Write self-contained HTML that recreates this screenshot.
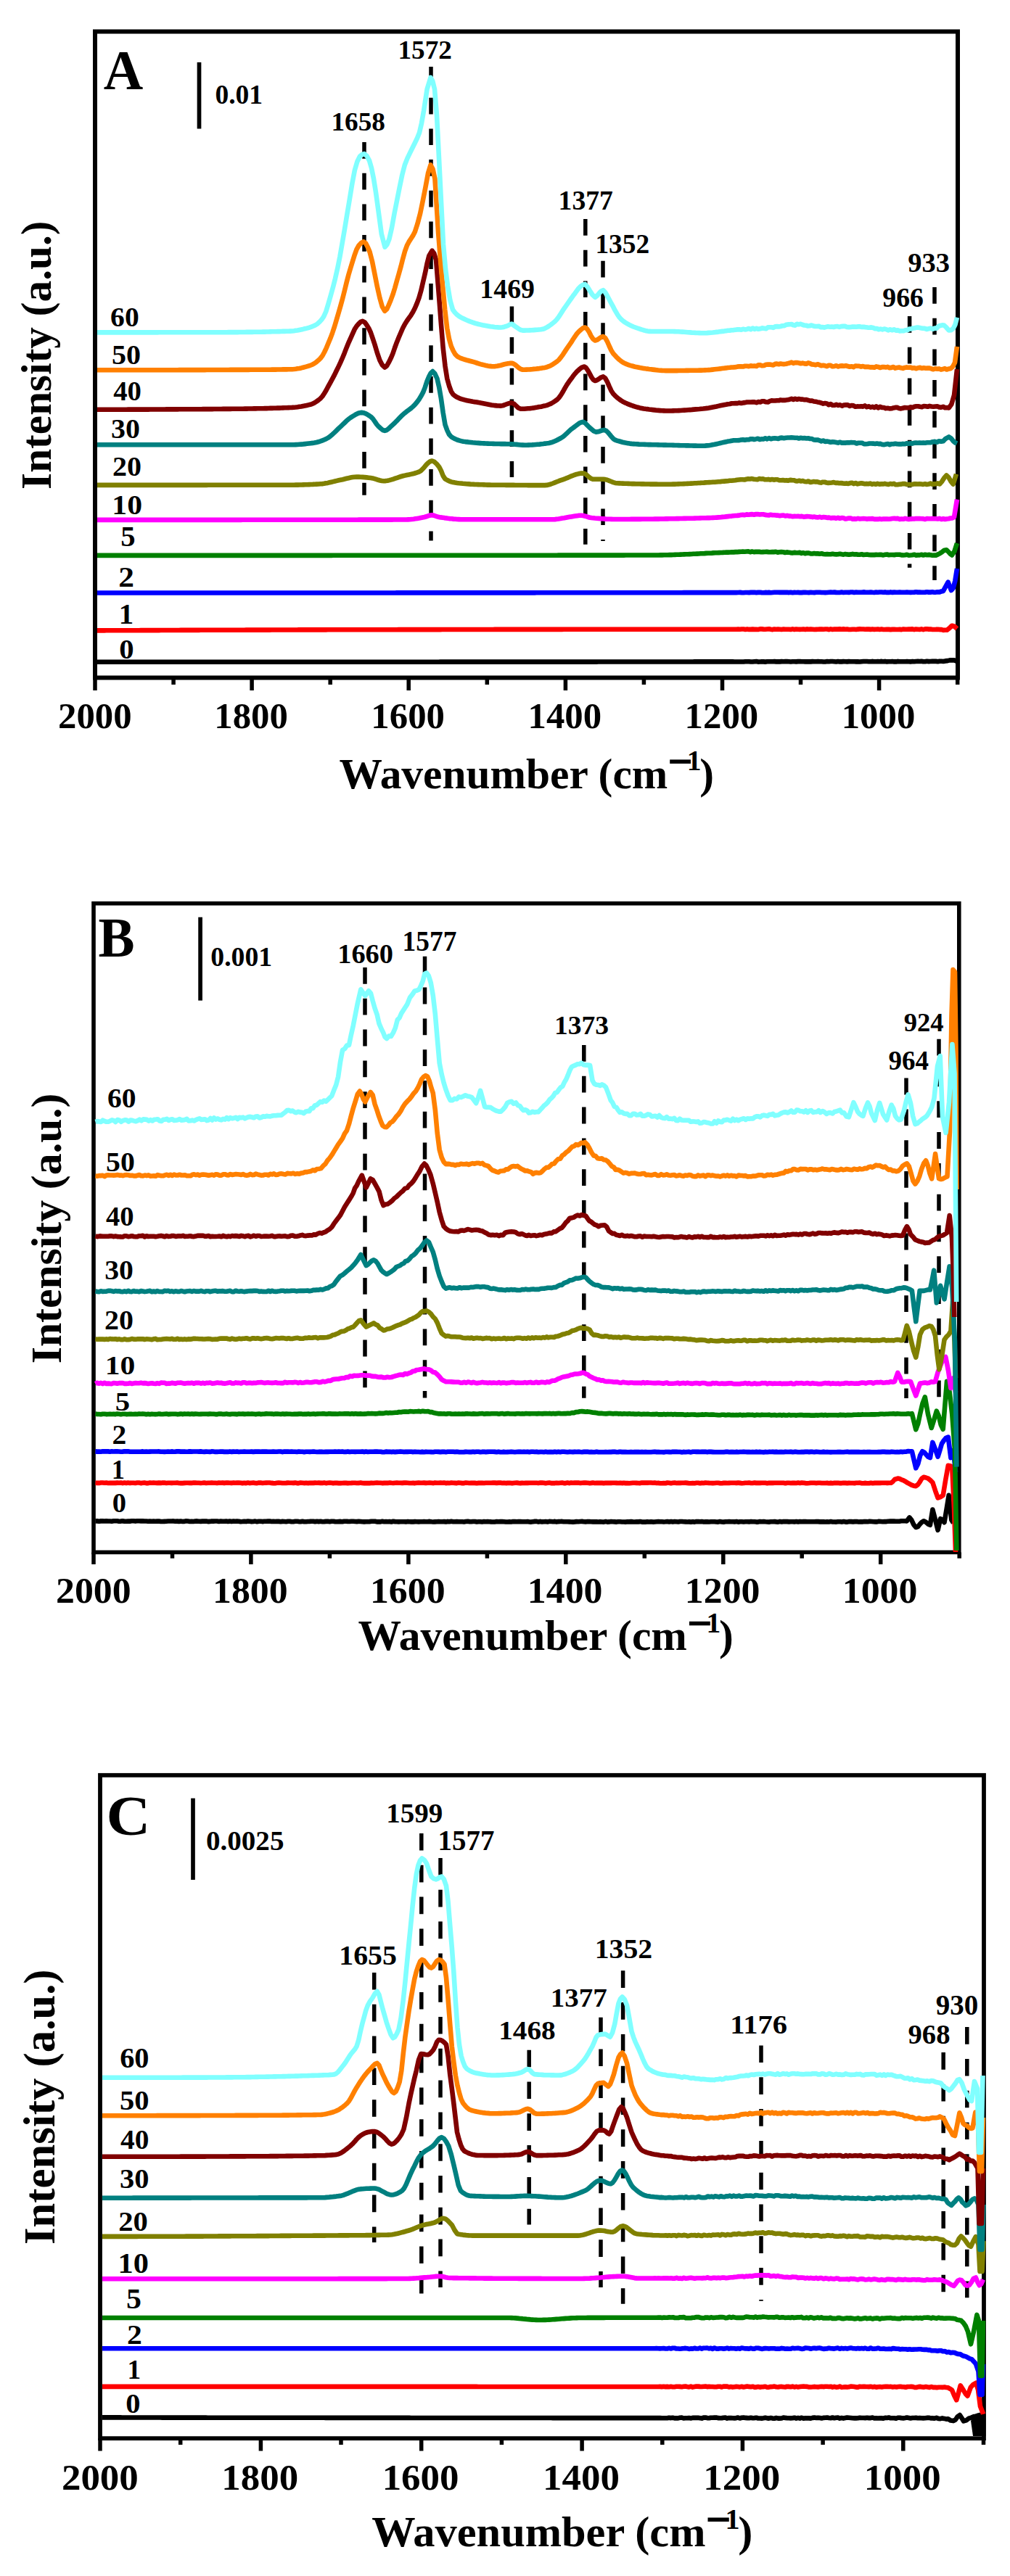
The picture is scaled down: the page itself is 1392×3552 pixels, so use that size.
<!DOCTYPE html>
<html><head><meta charset="utf-8"><style>
html,body{margin:0;padding:0;background:#fff;}
svg{display:block;}
text{font-family:"Liberation Serif", serif;font-weight:bold;fill:#000;}
</style></head><body>
<svg width="1392" height="3552" viewBox="0 0 1392 3552">
<rect width="1392" height="3552" fill="#fff"/>
<path d="M131.0,934.5V952.0M239.1,934.5V944.0M347.1,934.5V952.0M455.2,934.5V944.0M563.2,934.5V952.0M671.3,934.5V944.0M779.4,934.5V952.0M887.4,934.5V944.0M995.5,934.5V952.0M1103.5,934.5V944.0M1211.6,934.5V952.0M1319.7,934.5V944.0" stroke="#000" stroke-width="5.5" fill="none"/>
<rect x="131" y="43.5" width="1189" height="891.0" fill="none" stroke="#000" stroke-width="6"/>
<text x="80.06" y="1003.59" font-size="50.81" textLength="101.63" lengthAdjust="spacingAndGlyphs">2000</text>
<text x="295.23" y="1003.59" font-size="50.81" textLength="101.63" lengthAdjust="spacingAndGlyphs">1800</text>
<text x="511.35" y="1003.59" font-size="50.81" textLength="101.63" lengthAdjust="spacingAndGlyphs">1600</text>
<text x="727.47" y="1003.59" font-size="50.81" textLength="101.63" lengthAdjust="spacingAndGlyphs">1400</text>
<text x="943.59" y="1003.59" font-size="50.81" textLength="101.63" lengthAdjust="spacingAndGlyphs">1200</text>
<text x="1159.71" y="1003.59" font-size="50.81" textLength="101.63" lengthAdjust="spacingAndGlyphs">1000</text>
<g transform="translate(468.40,0) scale(0.9987,1)"><text x="-0.89" y="1086.60" font-size="59.50">Wavenumber (cm</text><rect x="455.38" y="1047.39" width="28.80" height="5.53" fill="#000"/><text x="478.93" y="1062.50" font-size="39.57">1</text><text x="496.53" y="1086.60" font-size="59.50">)</text></g>
<text transform="translate(70.20,674.93) rotate(-90)" font-size="59.27">Intensity (a.u.)</text>
<text x="142.85" y="123.00" font-size="78.79" textLength="54.50" lengthAdjust="spacingAndGlyphs">A</text>
<path d="M274.5,85.9V177.5" stroke="#000" stroke-width="5.7"/>
<text x="296.39" y="143.43" font-size="38.24" textLength="65.78" lengthAdjust="spacingAndGlyphs">0.01</text>
<text x="152.12" y="449.91" font-size="38.81" textLength="39.57" lengthAdjust="spacingAndGlyphs">60</text>
<text x="154.00" y="502.31" font-size="38.81" textLength="40.00" lengthAdjust="spacingAndGlyphs">50</text>
<text x="156.22" y="551.61" font-size="38.52" textLength="38.74" lengthAdjust="spacingAndGlyphs">40</text>
<text x="153.10" y="604.01" font-size="38.81" textLength="39.89" lengthAdjust="spacingAndGlyphs">30</text>
<text x="155.00" y="655.81" font-size="38.81" textLength="40.00" lengthAdjust="spacingAndGlyphs">20</text>
<text x="154.36" y="708.81" font-size="38.81" textLength="41.70" lengthAdjust="spacingAndGlyphs">10</text>
<text x="166.17" y="752.81" font-size="39.40" textLength="20.36" lengthAdjust="spacingAndGlyphs">5</text>
<text x="163.16" y="808.80" font-size="39.55" textLength="21.69" lengthAdjust="spacingAndGlyphs">2</text>
<text x="163.73" y="860.20" font-size="39.70" textLength="20.41" lengthAdjust="spacingAndGlyphs">1</text>
<text x="164.17" y="908.01" font-size="38.81" textLength="20.35" lengthAdjust="spacingAndGlyphs">0</text>
<path d="M502,196V682.7" stroke="#000" stroke-width="5.5" stroke-dasharray="22.7 20"/>
<path d="M594,92V745.5" stroke="#000" stroke-width="5.5" stroke-dasharray="22.7 20"/>
<path d="M705.4,422.4V658" stroke="#000" stroke-width="5.5" stroke-dasharray="22.7 20"/>
<path d="M806.8,302V750.7" stroke="#000" stroke-width="5.5" stroke-dasharray="22.7 20"/>
<path d="M831,359.8V746" stroke="#000" stroke-width="5.5" stroke-dasharray="22.7 20"/>
<path d="M1253.6,436V782.7" stroke="#000" stroke-width="5.5" stroke-dasharray="22.7 20"/>
<path d="M1288,396V800" stroke="#000" stroke-width="5.5" stroke-dasharray="22.7 20"/>
<text x="456.42" y="179.84" font-size="36.15" textLength="74.60" lengthAdjust="spacingAndGlyphs">1658</text>
<text x="548.53" y="81.24" font-size="36.28" textLength="74.35" lengthAdjust="spacingAndGlyphs">1572</text>
<text x="661.38" y="410.93" font-size="37.17" textLength="75.54" lengthAdjust="spacingAndGlyphs">1469</text>
<text x="769.59" y="288.62" font-size="38.36" textLength="75.25" lengthAdjust="spacingAndGlyphs">1377</text>
<text x="820.41" y="348.62" font-size="38.07" textLength="74.78" lengthAdjust="spacingAndGlyphs">1352</text>
<text x="1216.36" y="422.92" font-size="38.07" textLength="56.57" lengthAdjust="spacingAndGlyphs">966</text>
<text x="1251.24" y="375.03" font-size="37.32" textLength="57.70" lengthAdjust="spacingAndGlyphs">933</text>
<path d="M134.0,912.7 L136.5,912.7 L139.0,912.7 L141.5,912.7 L144.0,912.7 L146.5,912.7 L149.0,912.7 L151.5,912.7 L154.0,912.7 L156.5,912.7 L159.0,912.7 L161.5,912.7 L164.0,912.7 L166.5,912.7 L169.0,912.7 L171.5,912.7 L174.0,912.7 L176.5,912.7 L179.0,912.7 L181.5,912.7 L184.0,912.7 L186.5,912.7 L189.0,912.7 L191.5,912.7 L194.1,912.7 L196.6,912.7 L199.1,912.7 L201.6,912.7 L204.1,912.7 L206.6,912.7 L209.1,912.7 L211.6,912.7 L214.1,912.7 L216.6,912.7 L219.1,912.7 L221.6,912.7 L224.1,912.7 L226.6,912.7 L229.1,912.7 L231.6,912.7 L234.1,912.7 L236.6,912.7 L239.1,912.7 L241.6,912.7 L244.1,912.7 L246.6,912.7 L249.1,912.7 L251.6,912.7 L254.1,912.7 L256.6,912.7 L259.1,912.7 L261.6,912.7 L264.1,912.7 L266.6,912.7 L269.1,912.7 L271.6,912.7 L274.1,912.7 L276.6,912.7 L279.1,912.7 L281.6,912.7 L284.1,912.7 L286.6,912.7 L289.1,912.7 L291.6,912.7 L294.1,912.7 L296.6,912.7 L299.1,912.7 L301.6,912.7 L304.1,912.7 L306.6,912.7 L309.2,912.7 L311.7,912.7 L314.2,912.7 L316.7,912.7 L319.2,912.7 L321.7,912.7 L324.2,912.7 L326.7,912.7 L329.2,912.7 L331.7,912.7 L334.2,912.7 L336.7,912.7 L339.2,912.7 L341.7,912.7 L344.2,912.7 L346.7,912.7 L349.2,912.7 L351.7,912.7 L354.2,912.7 L356.7,912.7 L359.2,912.7 L361.7,912.7 L364.2,912.7 L366.7,912.7 L369.2,912.7 L371.7,912.7 L374.2,912.7 L376.7,912.7 L379.2,912.7 L381.7,912.7 L384.2,912.7 L386.7,912.7 L389.2,912.7 L391.7,912.7 L394.2,912.7 L396.7,912.7 L399.2,912.7 L401.7,912.7 L404.2,912.7 L406.7,912.7 L409.2,912.7 L411.7,912.7 L414.2,912.7 L416.7,912.7 L419.2,912.7 L421.7,912.7 L424.2,912.7 L426.8,912.7 L429.3,912.7 L431.8,912.7 L434.3,912.7 L436.8,912.7 L439.3,912.7 L441.8,912.7 L444.3,912.7 L446.8,912.7 L449.3,912.7 L451.8,912.7 L454.3,912.7 L456.8,912.7 L459.3,912.7 L461.8,912.7 L464.3,912.7 L466.8,912.7 L469.3,912.7 L471.8,912.7 L474.3,912.7 L476.8,912.7 L479.3,912.7 L481.8,912.7 L484.3,912.7 L486.8,912.7 L489.3,912.7 L491.8,912.7 L494.3,912.7 L496.8,912.7 L499.3,912.7 L501.8,912.7 L504.3,912.7 L506.8,912.7 L509.3,912.7 L511.8,912.7 L514.3,912.7 L516.8,912.7 L519.3,912.7 L521.8,912.7 L524.3,912.7 L526.8,912.7 L529.3,912.7 L531.8,912.7 L534.3,912.7 L536.8,912.7 L539.3,912.7 L541.8,912.7 L544.4,912.7 L546.9,912.7 L549.4,912.7 L551.9,912.7 L554.4,912.7 L556.9,912.7 L559.4,912.7 L561.9,912.7 L564.4,912.7 L566.9,912.7 L569.4,912.7 L571.9,912.7 L574.4,912.7 L576.9,912.7 L579.4,912.7 L581.9,912.7 L584.4,912.7 L586.9,912.7 L589.4,912.7 L591.9,912.7 L594.4,912.7 L596.9,912.7 L599.4,912.7 L601.9,912.7 L604.4,912.7 L606.9,912.6 L609.4,912.6 L611.9,912.6 L614.4,912.6 L616.9,912.6 L619.4,912.6 L621.9,912.6 L624.4,912.6 L626.9,912.6 L629.4,912.6 L631.9,912.6 L634.4,912.6 L636.9,912.6 L639.4,912.6 L641.9,912.6 L644.4,912.6 L646.9,912.6 L649.4,912.6 L651.9,912.6 L654.4,912.6 L656.9,912.6 L659.5,912.6 L662.0,912.6 L664.5,912.6 L667.0,912.6 L669.5,912.6 L672.0,912.6 L674.5,912.6 L677.0,912.6 L679.5,912.6 L682.0,912.6 L684.5,912.6 L687.0,912.6 L689.5,912.6 L692.0,912.6 L694.5,912.6 L697.0,912.6 L699.5,912.6 L702.0,912.6 L704.5,912.6 L707.0,912.6 L709.5,912.6 L712.0,912.6 L714.5,912.6 L717.0,912.6 L719.5,912.6 L722.0,912.6 L724.5,912.6 L727.0,912.6 L729.5,912.6 L732.0,912.6 L734.5,912.6 L737.0,912.6 L739.5,912.6 L742.0,912.6 L744.5,912.6 L747.0,912.6 L749.5,912.6 L752.0,912.6 L754.5,912.6 L757.0,912.6 L759.5,912.6 L762.0,912.6 L764.5,912.6 L767.0,912.6 L769.5,912.6 L772.0,912.6 L774.5,912.6 L777.1,912.6 L779.6,912.6 L782.1,912.6 L784.6,912.6 L787.1,912.6 L789.6,912.6 L792.1,912.6 L794.6,912.6 L797.1,912.6 L799.6,912.6 L802.1,912.6 L804.6,912.6 L807.1,912.6 L809.6,912.6 L812.1,912.6 L814.6,912.6 L817.1,912.6 L819.6,912.6 L822.1,912.6 L824.6,912.5 L827.1,912.5 L829.6,912.5 L832.1,912.5 L834.6,912.5 L837.1,912.5 L839.6,912.5 L842.1,912.5 L844.6,912.5 L847.1,912.5 L849.6,912.5 L852.1,912.5 L854.6,912.5 L857.1,912.5 L859.6,912.5 L862.1,912.5 L864.6,912.5 L867.1,912.5 L869.6,912.5 L872.1,912.5 L874.6,912.5 L877.1,912.5 L879.6,912.5 L882.1,912.5 L884.6,912.5 L887.1,912.5 L889.6,912.5 L892.2,912.5 L894.7,912.5 L897.2,912.5 L899.7,912.5 L902.2,912.5 L904.7,912.5 L907.2,912.5 L909.7,912.5 L912.2,912.5 L914.7,912.5 L917.2,912.5 L919.7,912.5 L922.2,912.5 L924.7,912.5 L927.2,912.5 L929.7,912.5 L932.2,912.5 L934.7,912.5 L937.2,912.5 L939.7,912.5 L942.2,912.5 L944.7,912.5 L947.2,912.5 L949.7,912.5 L952.2,912.5 L954.7,912.5 L957.2,912.4 L959.7,912.4 L962.2,912.4 L964.7,912.4 L967.2,912.4 L969.7,912.4 L972.2,912.4 L974.7,912.4 L977.2,912.4 L979.7,912.4 L982.2,912.4 L984.7,912.4 L987.2,912.4 L989.7,912.4 L992.2,912.4 L994.7,912.4 L997.2,912.4 L999.7,912.4 L1002.2,912.4 L1004.7,912.4 L1007.2,912.3 L1009.8,912.4 L1012.3,912.5 L1014.8,912.5 L1017.3,912.5 L1019.8,912.5 L1022.3,912.5 L1024.8,912.5 L1027.3,912.2 L1029.8,912.3 L1032.3,912.2 L1034.8,912.5 L1037.3,912.5 L1039.8,912.2 L1042.3,912.1 L1044.8,912.6 L1047.3,912.5 L1049.8,912.4 L1052.3,912.4 L1054.8,912.6 L1057.3,912.3 L1059.8,912.3 L1062.3,912.2 L1064.8,912.2 L1067.3,912.1 L1069.8,912.4 L1072.3,912.3 L1074.8,912.4 L1077.3,912.1 L1079.8,912.2 L1082.3,912.1 L1084.8,912.1 L1087.3,912.2 L1089.8,912.5 L1092.3,912.2 L1094.8,912.2 L1097.3,912.4 L1099.8,912.1 L1102.3,912.0 L1104.8,912.3 L1107.3,912.3 L1109.8,912.4 L1112.3,912.2 L1114.8,912.4 L1117.3,912.4 L1119.8,912.1 L1122.3,912.3 L1124.8,912.3 L1127.4,912.1 L1129.9,912.2 L1132.4,912.3 L1134.9,912.5 L1137.4,912.5 L1139.9,912.1 L1142.4,912.3 L1144.9,912.0 L1147.4,912.0 L1149.9,912.2 L1152.4,912.5 L1154.9,912.0 L1157.4,912.4 L1159.9,912.4 L1162.4,912.1 L1164.9,912.3 L1167.4,912.4 L1169.9,912.1 L1172.4,912.3 L1174.9,912.3 L1177.4,912.3 L1179.9,912.4 L1182.4,912.4 L1184.9,912.5 L1187.4,912.2 L1189.9,912.0 L1192.4,912.0 L1194.9,912.0 L1197.4,912.2 L1199.9,912.3 L1202.4,911.9 L1204.9,912.3 L1207.4,912.3 L1209.9,912.1 L1212.4,912.2 L1214.9,911.9 L1217.4,912.3 L1219.9,911.9 L1222.4,912.4 L1224.9,912.3 L1227.4,912.2 L1229.9,912.0 L1232.4,912.4 L1234.9,912.4 L1237.4,911.9 L1239.9,912.3 L1242.5,912.3 L1245.0,912.2 L1247.5,912.2 L1250.0,912.1 L1252.5,912.3 L1255.0,912.4 L1257.5,912.0 L1260.0,912.3 L1262.5,912.0 L1265.0,911.9 L1267.5,912.0 L1270.0,911.8 L1272.5,912.3 L1275.0,912.3 L1277.5,911.8 L1280.0,912.1 L1282.5,912.0 L1285.0,911.8 L1287.5,911.9 L1290.0,911.9 L1292.5,912.2 L1295.0,911.7 L1297.5,911.8 L1300.0,912.0 L1303.0,911.4 L1306.0,911.1 L1309.0,910.4 L1312.0,910.2 L1315.5,910.4 L1319.0,912.0" stroke="#000000" stroke-width="6.6" fill="none" stroke-linejoin="round" stroke-linecap="butt"/>
<path d="M134.0,869.4 L136.5,869.4 L139.0,869.4 L141.5,869.4 L144.0,869.4 L146.5,869.3 L149.0,869.3 L151.5,869.3 L154.0,869.3 L156.5,869.3 L159.0,869.3 L161.5,869.3 L164.0,869.3 L166.5,869.3 L169.0,869.3 L171.5,869.2 L174.0,869.2 L176.5,869.2 L179.0,869.2 L181.5,869.2 L184.0,869.2 L186.5,869.2 L189.0,869.2 L191.5,869.2 L194.1,869.1 L196.6,869.1 L199.1,869.1 L201.6,869.1 L204.1,869.1 L206.6,869.1 L209.1,869.1 L211.6,869.1 L214.1,869.1 L216.6,869.1 L219.1,869.1 L221.6,869.0 L224.1,869.0 L226.6,869.0 L229.1,869.0 L231.6,869.0 L234.1,869.0 L236.6,869.0 L239.1,869.0 L241.6,869.0 L244.1,869.0 L246.6,869.0 L249.1,868.9 L251.6,868.9 L254.1,868.9 L256.6,868.9 L259.1,868.9 L261.6,868.9 L264.1,868.9 L266.6,868.9 L269.1,868.9 L271.6,868.9 L274.1,868.9 L276.6,868.8 L279.1,868.8 L281.6,868.8 L284.1,868.8 L286.6,868.8 L289.1,868.8 L291.6,868.8 L294.1,868.8 L296.6,868.8 L299.1,868.8 L301.6,868.8 L304.1,868.8 L306.6,868.7 L309.2,868.7 L311.7,868.7 L314.2,868.7 L316.7,868.7 L319.2,868.7 L321.7,868.7 L324.2,868.7 L326.7,868.7 L329.2,868.7 L331.7,868.7 L334.2,868.7 L336.7,868.7 L339.2,868.6 L341.7,868.6 L344.2,868.6 L346.7,868.6 L349.2,868.6 L351.7,868.6 L354.2,868.6 L356.7,868.6 L359.2,868.6 L361.7,868.6 L364.2,868.6 L366.7,868.6 L369.2,868.6 L371.7,868.6 L374.2,868.5 L376.7,868.5 L379.2,868.5 L381.7,868.5 L384.2,868.5 L386.7,868.5 L389.2,868.5 L391.7,868.5 L394.2,868.5 L396.7,868.5 L399.2,868.5 L401.7,868.5 L404.2,868.5 L406.7,868.5 L409.2,868.5 L411.7,868.4 L414.2,868.4 L416.7,868.4 L419.2,868.4 L421.7,868.4 L424.3,868.4 L426.8,868.4 L429.3,868.4 L431.8,868.4 L434.3,868.4 L436.8,868.4 L439.3,868.4 L441.8,868.4 L444.3,868.4 L446.8,868.4 L449.3,868.4 L451.8,868.3 L454.3,868.3 L456.8,868.3 L459.3,868.3 L461.8,868.3 L464.3,868.3 L466.8,868.3 L469.3,868.3 L471.8,868.3 L474.3,868.3 L476.8,868.3 L479.3,868.3 L481.8,868.3 L484.3,868.3 L486.8,868.3 L489.3,868.3 L491.8,868.3 L494.3,868.3 L496.8,868.2 L499.3,868.2 L501.8,868.2 L504.3,868.2 L506.8,868.2 L509.3,868.2 L511.8,868.2 L514.3,868.2 L516.8,868.2 L519.3,868.2 L521.8,868.2 L524.3,868.2 L526.8,868.2 L529.3,868.2 L531.8,868.2 L534.3,868.2 L536.8,868.2 L539.4,868.2 L541.9,868.2 L544.4,868.2 L546.9,868.2 L549.4,868.1 L551.9,868.1 L554.4,868.1 L556.9,868.1 L559.4,868.1 L561.9,868.1 L564.4,868.1 L566.9,868.1 L569.4,868.1 L571.9,868.1 L574.4,868.1 L576.9,868.1 L579.4,868.1 L581.9,868.1 L584.4,868.1 L586.9,868.1 L589.4,868.1 L591.9,868.1 L594.4,868.1 L596.9,868.1 L599.4,868.1 L601.9,868.1 L604.4,868.1 L606.9,868.1 L609.4,868.0 L611.9,868.0 L614.4,868.0 L616.9,868.0 L619.4,868.0 L621.9,868.0 L624.4,868.0 L626.9,868.0 L629.4,868.0 L631.9,868.0 L634.4,868.0 L636.9,868.0 L639.4,868.0 L641.9,868.0 L644.4,868.0 L646.9,868.0 L649.4,868.0 L651.9,868.0 L654.5,868.0 L657.0,868.0 L659.5,868.0 L662.0,868.0 L664.5,868.0 L667.0,868.0 L669.5,868.0 L672.0,868.0 L674.5,868.0 L677.0,868.0 L679.5,868.0 L682.0,867.9 L684.5,867.9 L687.0,867.9 L689.5,867.9 L692.0,867.9 L694.5,867.9 L697.0,867.9 L699.5,867.9 L702.0,867.9 L704.5,867.9 L707.0,867.9 L709.5,867.9 L712.0,867.9 L714.5,867.9 L717.0,867.9 L719.5,867.9 L722.0,867.9 L724.5,867.9 L727.0,867.9 L729.5,867.9 L732.0,867.9 L734.5,867.9 L737.0,867.9 L739.5,867.9 L742.0,867.9 L744.5,867.9 L747.0,867.9 L749.5,867.9 L752.0,867.9 L754.5,867.9 L757.0,867.9 L759.5,867.9 L762.0,867.9 L764.5,867.9 L767.0,867.9 L769.5,867.9 L772.1,867.9 L774.6,867.9 L777.1,867.8 L779.6,867.8 L782.1,867.8 L784.6,867.8 L787.1,867.8 L789.6,867.8 L792.1,867.8 L794.6,867.8 L797.1,867.8 L799.6,867.8 L802.1,867.8 L804.6,867.8 L807.1,867.8 L809.6,867.8 L812.1,867.8 L814.6,867.8 L817.1,867.8 L819.6,867.8 L822.1,867.8 L824.6,867.8 L827.1,867.8 L829.6,867.8 L832.1,867.8 L834.6,867.8 L837.1,867.8 L839.6,867.8 L842.1,867.8 L844.6,867.8 L847.1,867.8 L849.6,867.8 L852.1,867.8 L854.6,867.8 L857.1,867.8 L859.6,867.8 L862.1,867.8 L864.6,867.8 L867.1,867.8 L869.6,867.8 L872.1,867.8 L874.6,867.8 L877.1,867.8 L879.6,867.8 L882.1,867.8 L884.6,867.8 L887.2,867.8 L889.7,867.8 L892.2,867.8 L894.7,867.8 L897.2,867.8 L899.7,867.8 L902.2,867.8 L904.7,867.8 L907.2,867.8 L909.7,867.8 L912.2,867.8 L914.7,867.8 L917.2,867.8 L919.7,867.8 L922.2,867.8 L924.7,867.8 L927.2,867.8 L929.7,867.8 L932.2,867.8 L934.7,867.7 L937.2,867.7 L939.7,867.7 L942.2,867.7 L944.7,867.7 L947.2,867.7 L949.7,867.7 L952.2,867.7 L954.7,867.7 L957.2,867.7 L959.7,867.7 L962.2,867.7 L964.7,867.7 L967.2,867.7 L969.7,867.7 L972.2,867.7 L974.7,867.7 L977.2,867.7 L979.7,867.7 L982.2,867.7 L984.7,867.7 L987.2,867.7 L989.7,867.7 L992.2,867.7 L994.7,867.7 L997.2,867.7 L999.7,867.7 L1002.3,867.7 L1004.8,867.7 L1007.3,867.8 L1009.8,867.7 L1012.3,867.8 L1014.8,867.7 L1017.3,867.6 L1019.8,867.7 L1022.3,867.5 L1024.8,867.5 L1027.3,867.9 L1029.8,867.5 L1032.3,867.9 L1034.8,867.9 L1037.3,867.6 L1039.8,867.9 L1042.3,867.9 L1044.8,868.0 L1047.3,867.4 L1049.8,867.4 L1052.3,867.6 L1054.8,867.7 L1057.3,867.5 L1059.8,867.3 L1062.3,867.8 L1064.8,868.1 L1067.3,867.6 L1069.8,867.7 L1072.3,867.6 L1074.8,867.7 L1077.3,868.0 L1079.8,867.6 L1082.3,867.8 L1084.8,867.7 L1087.3,867.7 L1089.8,868.0 L1092.3,867.4 L1094.8,868.0 L1097.3,867.6 L1099.8,867.8 L1102.3,867.9 L1104.8,867.8 L1107.3,867.6 L1109.8,868.0 L1112.3,867.4 L1114.8,867.8 L1117.4,867.6 L1119.9,867.7 L1122.4,868.0 L1124.9,867.9 L1127.4,867.8 L1129.9,867.6 L1132.4,867.5 L1134.9,867.7 L1137.4,867.5 L1139.9,867.5 L1142.4,868.1 L1144.9,867.4 L1147.4,868.0 L1149.9,867.6 L1152.4,867.6 L1154.9,867.6 L1157.4,867.4 L1159.9,867.7 L1162.4,867.4 L1164.9,867.7 L1167.4,867.5 L1169.9,868.0 L1172.4,868.0 L1174.9,867.7 L1177.4,867.8 L1179.9,868.0 L1182.4,867.6 L1184.9,867.4 L1187.4,867.5 L1189.9,867.5 L1192.4,867.8 L1194.9,867.6 L1197.4,867.6 L1199.9,867.9 L1202.4,867.5 L1204.9,867.9 L1207.4,867.8 L1209.9,867.6 L1212.4,868.0 L1214.9,867.6 L1217.4,868.0 L1219.9,868.0 L1222.4,867.7 L1224.9,867.9 L1227.4,868.1 L1229.9,867.9 L1232.5,867.9 L1235.0,868.0 L1237.5,868.0 L1240.0,867.9 L1242.5,868.1 L1245.0,867.5 L1247.5,867.8 L1250.0,867.8 L1252.5,867.6 L1255.0,867.6 L1257.5,867.4 L1260.0,868.1 L1262.5,867.6 L1265.0,867.7 L1267.5,868.0 L1270.0,867.4 L1272.5,868.1 L1275.0,867.4 L1277.5,867.3 L1280.0,867.6 L1282.5,867.6 L1285.0,868.0 L1287.5,868.0 L1290.0,867.9 L1292.5,867.7 L1295.0,868.1 L1297.5,868.1 L1300.0,868.9 L1302.5,868.8 L1305.0,868.8 L1308.5,866.1 L1312.0,862.7 L1315.5,863.7 L1319.0,867.0" stroke="#FF0000" stroke-width="6.6" fill="none" stroke-linejoin="round" stroke-linecap="butt"/>
<path d="M134.0,817.5 L136.5,817.5 L139.0,817.5 L141.5,817.5 L144.0,817.5 L146.5,817.5 L149.0,817.5 L151.5,817.5 L154.0,817.5 L156.5,817.5 L159.0,817.5 L161.5,817.5 L164.0,817.5 L166.5,817.5 L169.0,817.5 L171.5,817.5 L174.0,817.5 L176.5,817.5 L179.0,817.5 L181.5,817.5 L184.0,817.5 L186.5,817.5 L189.0,817.5 L191.5,817.5 L194.1,817.5 L196.6,817.5 L199.1,817.5 L201.6,817.5 L204.1,817.5 L206.6,817.5 L209.1,817.5 L211.6,817.5 L214.1,817.5 L216.6,817.5 L219.1,817.5 L221.6,817.5 L224.1,817.5 L226.6,817.5 L229.1,817.5 L231.6,817.5 L234.1,817.5 L236.6,817.5 L239.1,817.5 L241.6,817.5 L244.1,817.5 L246.6,817.5 L249.1,817.5 L251.6,817.5 L254.1,817.5 L256.6,817.5 L259.1,817.5 L261.6,817.5 L264.1,817.5 L266.6,817.5 L269.1,817.5 L271.6,817.5 L274.1,817.5 L276.6,817.5 L279.1,817.5 L281.6,817.5 L284.1,817.5 L286.6,817.5 L289.1,817.5 L291.6,817.5 L294.1,817.5 L296.6,817.5 L299.1,817.5 L301.6,817.5 L304.1,817.5 L306.6,817.5 L309.2,817.5 L311.7,817.5 L314.2,817.5 L316.7,817.5 L319.2,817.5 L321.7,817.5 L324.2,817.5 L326.7,817.5 L329.2,817.5 L331.7,817.5 L334.2,817.5 L336.7,817.5 L339.2,817.5 L341.7,817.5 L344.2,817.5 L346.7,817.5 L349.2,817.5 L351.7,817.5 L354.2,817.5 L356.7,817.5 L359.2,817.5 L361.7,817.5 L364.2,817.5 L366.7,817.5 L369.2,817.5 L371.7,817.5 L374.2,817.5 L376.7,817.5 L379.2,817.5 L381.7,817.5 L384.2,817.5 L386.7,817.5 L389.2,817.5 L391.7,817.5 L394.2,817.5 L396.7,817.5 L399.2,817.5 L401.7,817.5 L404.2,817.5 L406.7,817.5 L409.2,817.5 L411.7,817.5 L414.2,817.5 L416.7,817.5 L419.2,817.5 L421.7,817.5 L424.3,817.5 L426.8,817.5 L429.3,817.5 L431.8,817.5 L434.3,817.5 L436.8,817.5 L439.3,817.5 L441.8,817.5 L444.3,817.5 L446.8,817.5 L449.3,817.5 L451.8,817.5 L454.3,817.5 L456.8,817.5 L459.3,817.5 L461.8,817.5 L464.3,817.5 L466.8,817.5 L469.3,817.5 L471.8,817.5 L474.3,817.5 L476.8,817.5 L479.3,817.5 L481.8,817.5 L484.3,817.5 L486.8,817.5 L489.3,817.5 L491.8,817.5 L494.3,817.5 L496.8,817.5 L499.3,817.5 L501.8,817.5 L504.3,817.5 L506.8,817.5 L509.3,817.5 L511.8,817.5 L514.3,817.5 L516.8,817.5 L519.3,817.5 L521.8,817.5 L524.3,817.5 L526.8,817.5 L529.3,817.5 L531.8,817.5 L534.3,817.5 L536.8,817.5 L539.4,817.5 L541.9,817.5 L544.4,817.5 L546.9,817.4 L549.4,817.4 L551.9,817.4 L554.4,817.4 L556.9,817.4 L559.4,817.4 L561.9,817.4 L564.4,817.4 L566.9,817.4 L569.4,817.4 L571.9,817.4 L574.4,817.4 L576.9,817.4 L579.4,817.4 L581.9,817.4 L584.4,817.4 L586.9,817.4 L589.4,817.4 L591.9,817.4 L594.4,817.4 L596.9,817.4 L599.4,817.4 L601.9,817.4 L604.4,817.4 L606.9,817.4 L609.4,817.4 L611.9,817.4 L614.4,817.4 L616.9,817.4 L619.4,817.4 L621.9,817.4 L624.4,817.4 L626.9,817.4 L629.4,817.4 L631.9,817.4 L634.4,817.4 L636.9,817.4 L639.4,817.4 L641.9,817.4 L644.4,817.4 L646.9,817.4 L649.4,817.4 L651.9,817.4 L654.5,817.4 L657.0,817.4 L659.5,817.4 L662.0,817.4 L664.5,817.4 L667.0,817.4 L669.5,817.4 L672.0,817.4 L674.5,817.4 L677.0,817.4 L679.5,817.4 L682.0,817.4 L684.5,817.4 L687.0,817.4 L689.5,817.4 L692.0,817.4 L694.5,817.4 L697.0,817.4 L699.5,817.4 L702.0,817.4 L704.5,817.4 L707.0,817.4 L709.5,817.4 L712.0,817.4 L714.5,817.4 L717.0,817.4 L719.5,817.4 L722.0,817.4 L724.5,817.4 L727.0,817.4 L729.5,817.4 L732.0,817.4 L734.5,817.4 L737.0,817.4 L739.5,817.3 L742.0,817.3 L744.5,817.3 L747.0,817.3 L749.5,817.3 L752.0,817.3 L754.5,817.3 L757.0,817.3 L759.5,817.3 L762.0,817.3 L764.5,817.3 L767.0,817.3 L769.5,817.3 L772.1,817.3 L774.6,817.3 L777.1,817.3 L779.6,817.3 L782.1,817.3 L784.6,817.3 L787.1,817.3 L789.6,817.3 L792.1,817.3 L794.6,817.3 L797.1,817.3 L799.6,817.3 L802.1,817.3 L804.6,817.3 L807.1,817.3 L809.6,817.3 L812.1,817.3 L814.6,817.3 L817.1,817.3 L819.6,817.3 L822.1,817.3 L824.6,817.3 L827.1,817.3 L829.6,817.3 L832.1,817.3 L834.6,817.3 L837.1,817.3 L839.6,817.3 L842.1,817.3 L844.6,817.3 L847.1,817.3 L849.6,817.3 L852.1,817.3 L854.6,817.2 L857.1,817.2 L859.6,817.2 L862.1,817.2 L864.6,817.2 L867.1,817.2 L869.6,817.2 L872.1,817.2 L874.6,817.2 L877.1,817.2 L879.6,817.2 L882.1,817.2 L884.6,817.2 L887.2,817.2 L889.7,817.2 L892.2,817.2 L894.7,817.2 L897.2,817.2 L899.7,817.2 L902.2,817.2 L904.7,817.2 L907.2,817.2 L909.7,817.2 L912.2,817.2 L914.7,817.2 L917.2,817.2 L919.7,817.2 L922.2,817.2 L924.7,817.2 L927.2,817.2 L929.7,817.2 L932.2,817.2 L934.7,817.2 L937.2,817.2 L939.7,817.2 L942.2,817.1 L944.7,817.1 L947.2,817.1 L949.7,817.1 L952.2,817.1 L954.7,817.1 L957.2,817.1 L959.7,817.1 L962.2,817.1 L964.7,817.1 L967.2,817.1 L969.7,817.1 L972.2,817.1 L974.7,817.1 L977.2,817.1 L979.7,817.1 L982.2,817.1 L984.7,817.1 L987.2,817.1 L989.7,817.1 L992.2,817.1 L994.7,817.1 L997.2,817.1 L999.7,817.1 L1002.3,817.1 L1004.8,817.1 L1007.3,817.1 L1009.8,817.1 L1012.3,817.1 L1014.8,817.1 L1017.3,817.0 L1019.8,816.9 L1022.3,817.1 L1024.8,817.2 L1027.3,817.0 L1029.8,817.0 L1032.3,817.1 L1034.8,816.9 L1037.3,816.9 L1039.8,816.8 L1042.3,817.1 L1044.8,816.9 L1047.3,816.8 L1049.8,817.1 L1052.3,817.3 L1054.8,816.9 L1057.3,817.1 L1059.8,816.9 L1062.3,817.2 L1064.8,817.0 L1067.3,816.8 L1069.8,816.8 L1072.3,816.7 L1074.8,816.9 L1077.3,816.9 L1079.8,816.7 L1082.3,816.9 L1084.8,816.8 L1087.3,817.1 L1089.8,816.7 L1092.3,817.2 L1094.8,816.9 L1097.3,817.0 L1099.8,816.9 L1102.3,817.1 L1104.8,817.1 L1107.3,816.9 L1109.8,816.9 L1112.3,817.0 L1114.8,817.1 L1117.4,816.8 L1119.9,817.0 L1122.4,817.1 L1124.9,816.8 L1127.4,816.7 L1129.9,816.7 L1132.4,817.0 L1134.9,817.0 L1137.4,817.1 L1139.9,817.0 L1142.4,816.7 L1144.9,816.6 L1147.4,816.7 L1149.9,816.6 L1152.4,816.9 L1154.9,817.0 L1157.4,817.0 L1159.9,816.6 L1162.4,817.0 L1164.9,816.7 L1167.4,816.7 L1169.9,816.9 L1172.4,816.5 L1174.9,816.5 L1177.4,817.0 L1179.9,816.6 L1182.4,816.7 L1184.9,816.8 L1187.4,816.8 L1189.9,816.4 L1192.4,816.6 L1194.9,816.7 L1197.4,816.7 L1199.9,816.5 L1202.4,816.8 L1204.9,817.0 L1207.4,816.6 L1209.9,816.7 L1212.4,816.5 L1214.9,816.5 L1217.4,816.8 L1219.9,816.4 L1222.4,816.9 L1224.9,816.9 L1227.4,816.4 L1229.9,816.9 L1232.5,816.6 L1235.0,816.8 L1237.5,816.8 L1240.0,816.5 L1242.5,816.7 L1245.0,816.7 L1247.5,816.8 L1250.0,816.5 L1252.5,816.7 L1255.0,816.9 L1257.5,816.7 L1260.0,816.6 L1262.5,816.3 L1265.0,816.6 L1267.5,816.5 L1270.0,816.7 L1272.5,816.7 L1275.0,816.6 L1277.5,816.3 L1280.0,816.6 L1282.5,816.6 L1285.0,816.3 L1287.5,816.7 L1290.0,816.6 L1292.5,816.2 L1295.0,816.4 L1297.5,815.4 L1300.0,814.9 L1303.3,808.7 L1306.7,802.6 L1311.0,814.0 L1313.7,811.0 L1316.3,801.1 L1319.0,784.0" stroke="#0000FF" stroke-width="6.6" fill="none" stroke-linejoin="round" stroke-linecap="butt"/>
<path d="M134.0,765.9 L136.5,765.9 L139.0,765.9 L141.5,765.9 L144.0,765.9 L146.5,765.9 L149.0,765.9 L151.5,765.9 L154.0,765.9 L156.5,765.9 L159.0,765.9 L161.5,765.9 L164.0,765.9 L166.5,765.9 L169.0,765.9 L171.5,765.9 L174.1,765.9 L176.6,765.9 L179.1,765.9 L181.6,765.9 L184.1,765.9 L186.6,765.9 L189.1,765.9 L191.6,765.9 L194.1,765.9 L196.6,765.9 L199.1,765.9 L201.6,765.9 L204.1,765.9 L206.6,765.9 L209.1,765.9 L211.6,765.9 L214.1,765.9 L216.6,765.9 L219.1,765.9 L221.6,765.9 L224.1,765.9 L226.6,765.9 L229.1,765.9 L231.6,765.9 L234.1,765.9 L236.6,765.9 L239.1,765.9 L241.6,765.9 L244.1,765.9 L246.6,765.9 L249.2,765.9 L251.7,765.9 L254.2,765.9 L256.7,765.9 L259.2,765.9 L261.7,765.9 L264.2,765.9 L266.7,765.9 L269.2,765.9 L271.7,765.9 L274.2,765.9 L276.7,765.9 L279.2,765.9 L281.7,765.9 L284.2,765.9 L286.7,765.9 L289.2,765.9 L291.7,765.9 L294.2,765.9 L296.7,765.9 L299.2,765.9 L301.7,765.9 L304.2,765.9 L306.7,765.9 L309.2,765.9 L311.7,765.9 L314.2,765.9 L316.7,765.9 L319.2,765.9 L321.7,765.9 L324.2,765.9 L326.8,765.9 L329.3,765.9 L331.8,765.9 L334.3,765.9 L336.8,765.9 L339.3,765.9 L341.8,765.9 L344.3,765.9 L346.8,765.9 L349.3,765.9 L351.8,765.9 L354.3,765.9 L356.8,765.9 L359.3,765.9 L361.8,765.9 L364.3,765.9 L366.8,765.9 L369.3,765.9 L371.8,765.9 L374.3,765.9 L376.8,765.9 L379.3,765.9 L381.8,765.9 L384.3,765.9 L386.8,765.9 L389.3,765.9 L391.8,765.9 L394.3,765.9 L396.8,765.9 L399.3,765.9 L401.8,765.9 L404.4,765.9 L406.9,765.9 L409.4,765.9 L411.9,765.9 L414.4,765.9 L416.9,765.9 L419.4,765.9 L421.9,765.9 L424.4,765.9 L426.9,765.9 L429.4,765.9 L431.9,765.9 L434.4,765.9 L436.9,765.9 L439.4,765.9 L441.9,765.9 L444.4,765.9 L446.9,765.9 L449.4,765.9 L451.9,765.9 L454.4,765.9 L456.9,765.9 L459.4,765.8 L461.9,765.8 L464.4,765.8 L466.9,765.8 L469.4,765.8 L471.9,765.8 L474.4,765.8 L476.9,765.8 L479.5,765.8 L482.0,765.8 L484.5,765.8 L487.0,765.8 L489.5,765.8 L492.0,765.8 L494.5,765.8 L497.0,765.8 L499.5,765.8 L502.0,765.8 L504.5,765.8 L507.0,765.8 L509.5,765.8 L512.0,765.8 L514.5,765.8 L517.0,765.8 L519.5,765.8 L522.0,765.8 L524.5,765.8 L527.0,765.8 L529.5,765.8 L532.0,765.8 L534.5,765.8 L537.0,765.8 L539.5,765.8 L542.0,765.8 L544.5,765.8 L547.0,765.8 L549.5,765.8 L552.0,765.8 L554.5,765.8 L557.1,765.8 L559.6,765.8 L562.1,765.8 L564.6,765.8 L567.1,765.8 L569.6,765.8 L572.1,765.8 L574.6,765.8 L577.1,765.8 L579.6,765.8 L582.1,765.8 L584.6,765.8 L587.1,765.8 L589.6,765.8 L592.1,765.8 L594.6,765.8 L597.1,765.8 L599.6,765.8 L602.1,765.8 L604.6,765.8 L607.1,765.8 L609.6,765.8 L612.1,765.8 L614.6,765.8 L617.1,765.8 L619.6,765.8 L622.1,765.8 L624.6,765.8 L627.1,765.8 L629.6,765.8 L632.2,765.8 L634.7,765.8 L637.2,765.8 L639.7,765.8 L642.2,765.8 L644.7,765.8 L647.2,765.8 L649.7,765.8 L652.2,765.7 L654.7,765.7 L657.2,765.7 L659.7,765.7 L662.2,765.7 L664.7,765.7 L667.2,765.7 L669.7,765.7 L672.2,765.7 L674.7,765.7 L677.2,765.7 L679.7,765.7 L682.2,765.7 L684.7,765.7 L687.2,765.7 L689.7,765.7 L692.2,765.7 L694.7,765.7 L697.2,765.7 L699.7,765.7 L702.2,765.7 L704.7,765.7 L707.2,765.7 L709.8,765.7 L712.3,765.7 L714.8,765.7 L717.3,765.7 L719.8,765.7 L722.3,765.7 L724.8,765.7 L727.3,765.7 L729.8,765.7 L732.3,765.7 L734.8,765.7 L737.3,765.7 L739.8,765.7 L742.3,765.7 L744.8,765.7 L747.3,765.7 L749.8,765.7 L752.3,765.7 L754.8,765.7 L757.3,765.7 L759.8,765.7 L762.3,765.7 L764.8,765.7 L767.3,765.7 L769.8,765.6 L772.3,765.6 L774.8,765.6 L777.3,765.6 L779.8,765.6 L782.3,765.6 L784.8,765.6 L787.4,765.6 L789.9,765.6 L792.4,765.6 L794.9,765.6 L797.4,765.6 L799.9,765.6 L802.4,765.6 L804.9,765.6 L807.4,765.6 L809.9,765.6 L812.4,765.6 L814.9,765.6 L817.4,765.6 L819.9,765.6 L822.4,765.6 L824.9,765.6 L827.4,765.6 L829.9,765.6 L832.4,765.6 L834.9,765.6 L837.4,765.6 L839.9,765.6 L842.4,765.6 L844.9,765.6 L847.4,765.6 L849.9,765.6 L852.4,765.6 L854.9,765.6 L857.4,765.6 L859.9,765.6 L862.5,765.5 L865.0,765.5 L867.5,765.5 L870.0,765.5 L872.5,765.5 L875.0,765.5 L877.5,765.5 L880.0,765.5 L882.5,765.5 L885.0,765.5 L887.5,765.5 L890.0,765.5 L892.5,765.5 L895.0,765.5 L897.5,765.5 L900.0,765.5 L902.5,765.5 L905.1,765.5 L907.6,765.5 L910.1,765.4 L912.6,765.4 L915.2,765.3 L917.7,765.3 L920.2,765.2 L922.7,765.1 L925.3,765.1 L927.8,765.0 L930.3,764.9 L932.8,764.8 L935.4,764.7 L937.9,764.6 L940.4,764.5 L943.0,764.4 L945.5,764.3 L948.0,764.2 L950.5,764.1 L953.1,764.0 L955.6,763.8 L958.1,763.7 L960.6,763.6 L963.2,763.5 L965.7,763.3 L968.2,763.2 L970.8,763.1 L973.3,762.9 L975.8,762.8 L978.3,762.7 L980.9,762.6 L983.4,762.4 L985.9,762.3 L988.4,762.2 L991.0,762.1 L993.5,762.0 L996.0,761.9 L998.5,761.7 L1001.1,761.6 L1003.6,761.6 L1006.1,761.5 L1008.7,761.4 L1011.2,761.4 L1013.7,761.1 L1016.2,761.1 L1018.8,760.9 L1021.3,760.7 L1023.8,760.6 L1026.3,760.7 L1028.9,760.5 L1031.4,760.4 L1033.9,761.2 L1036.4,760.5 L1039.0,761.1 L1041.5,760.9 L1044.0,760.9 L1046.5,760.9 L1049.1,761.2 L1051.6,761.1 L1054.1,761.0 L1056.6,760.9 L1059.2,761.1 L1061.7,761.2 L1064.2,761.1 L1066.7,761.1 L1069.3,760.8 L1071.8,761.6 L1074.3,761.3 L1076.8,761.0 L1079.3,761.2 L1081.9,762.0 L1084.4,761.4 L1086.9,761.7 L1089.4,762.1 L1092.0,762.4 L1094.5,761.9 L1097.0,762.1 L1099.5,762.2 L1102.1,761.9 L1104.6,762.9 L1107.1,762.2 L1109.6,763.2 L1112.2,762.5 L1114.7,762.6 L1117.2,763.4 L1119.7,763.5 L1122.2,763.0 L1124.8,763.4 L1127.3,763.4 L1129.8,763.7 L1132.3,763.3 L1134.9,764.0 L1137.4,764.2 L1139.9,764.0 L1142.4,764.3 L1145.0,764.3 L1147.5,763.8 L1150.0,764.3 L1152.5,764.4 L1155.0,764.2 L1157.5,763.7 L1160.0,764.3 L1162.5,764.6 L1165.0,764.0 L1167.5,764.4 L1170.0,764.7 L1172.5,764.4 L1175.0,763.9 L1177.5,764.5 L1180.0,764.2 L1182.5,764.8 L1185.0,764.7 L1187.5,764.3 L1190.0,765.0 L1192.5,764.7 L1195.0,764.5 L1197.5,765.0 L1200.0,765.1 L1202.5,765.1 L1205.0,765.1 L1207.5,764.9 L1210.0,765.0 L1212.5,764.9 L1215.0,764.9 L1217.5,765.4 L1220.0,764.8 L1222.5,764.5 L1225.0,765.2 L1227.5,765.0 L1230.0,765.0 L1232.5,765.1 L1235.0,764.8 L1237.5,764.8 L1240.0,764.7 L1242.5,765.4 L1245.0,765.5 L1247.5,765.3 L1250.0,764.8 L1252.5,765.7 L1255.0,765.5 L1257.5,765.2 L1260.0,764.7 L1262.5,765.6 L1265.0,765.4 L1267.5,765.4 L1270.0,764.8 L1272.5,765.5 L1275.0,764.8 L1277.5,765.3 L1280.0,764.9 L1282.5,765.2 L1285.0,765.7 L1287.5,765.5 L1290.0,765.6 L1292.9,764.4 L1295.8,762.8 L1298.6,760.9 L1301.5,758.7 L1304.4,758.3 L1306.9,760.6 L1309.5,763.5 L1312.0,765.4 L1315.5,760.1 L1319.0,749.0" stroke="#008000" stroke-width="6.6" fill="none" stroke-linejoin="round" stroke-linecap="butt"/>
<path d="M134.0,716.9 L136.5,716.9 L139.0,716.9 L141.5,716.9 L144.0,716.9 L146.5,716.9 L149.0,716.9 L151.5,716.9 L154.0,716.9 L156.6,716.9 L159.1,716.9 L161.6,716.9 L164.1,716.9 L166.6,716.9 L169.1,716.9 L171.6,716.9 L174.1,716.9 L176.6,716.9 L179.1,716.9 L181.6,716.9 L184.1,716.9 L186.6,716.9 L189.1,716.9 L191.6,716.9 L194.1,716.9 L196.6,716.9 L199.2,716.9 L201.7,716.9 L204.2,716.9 L206.7,716.9 L209.2,716.9 L211.7,716.9 L214.2,716.9 L216.7,716.9 L219.2,716.9 L221.7,716.9 L224.2,716.9 L226.7,716.9 L229.2,716.9 L231.7,716.9 L234.2,716.9 L236.7,716.9 L239.2,716.9 L241.8,716.9 L244.3,716.9 L246.8,716.9 L249.3,716.9 L251.8,716.9 L254.3,716.9 L256.8,716.9 L259.3,716.9 L261.8,716.9 L264.3,716.9 L266.8,716.9 L269.3,716.9 L271.8,716.9 L274.3,716.9 L276.8,716.9 L279.3,716.9 L281.8,716.9 L284.4,716.9 L286.9,716.9 L289.4,716.9 L291.9,716.9 L294.4,716.9 L296.9,716.9 L299.4,716.9 L301.9,716.9 L304.4,716.9 L306.9,716.9 L309.4,716.9 L311.9,716.9 L314.4,716.9 L316.9,716.9 L319.4,716.9 L321.9,716.9 L324.4,716.9 L327.0,716.9 L329.5,716.9 L332.0,716.9 L334.5,716.8 L337.0,716.8 L339.5,716.8 L342.0,716.8 L344.5,716.8 L347.0,716.8 L349.5,716.8 L352.0,716.8 L354.5,716.8 L357.0,716.8 L359.5,716.8 L362.0,716.8 L364.5,716.8 L367.0,716.8 L369.6,716.8 L372.1,716.8 L374.6,716.8 L377.1,716.8 L379.6,716.8 L382.1,716.8 L384.6,716.8 L387.1,716.8 L389.6,716.8 L392.1,716.8 L394.6,716.8 L397.1,716.8 L399.6,716.8 L402.1,716.8 L404.6,716.8 L407.1,716.8 L409.6,716.8 L412.2,716.8 L414.7,716.8 L417.2,716.8 L419.7,716.8 L422.2,716.8 L424.7,716.8 L427.2,716.8 L429.7,716.8 L432.2,716.8 L434.7,716.7 L437.2,716.7 L439.7,716.7 L442.2,716.7 L444.7,716.7 L447.2,716.7 L449.7,716.7 L452.2,716.7 L454.8,716.7 L457.3,716.7 L459.8,716.7 L462.3,716.7 L464.8,716.7 L467.3,716.7 L469.8,716.7 L472.3,716.7 L474.8,716.7 L477.3,716.7 L479.8,716.7 L482.3,716.7 L484.8,716.7 L487.3,716.7 L489.8,716.7 L492.3,716.7 L494.8,716.6 L497.4,716.6 L499.9,716.6 L502.4,716.6 L504.9,716.6 L507.4,716.6 L509.9,716.6 L512.4,716.6 L514.9,716.6 L517.4,716.6 L519.9,716.6 L522.4,716.6 L524.9,716.6 L527.4,716.6 L529.9,716.6 L532.4,716.6 L534.9,716.6 L537.4,716.6 L540.0,716.6 L542.5,716.5 L545.0,716.5 L547.5,716.5 L550.0,716.5 L552.5,716.5 L555.0,716.5 L557.5,716.5 L560.0,716.5 L562.5,716.4 L565.0,716.3 L567.5,716.0 L570.0,715.7 L572.5,715.3 L575.0,714.9 L577.5,714.5 L580.0,714.0 L582.5,713.5 L585.0,713.0 L587.5,712.3 L590.0,711.4 L592.5,710.6 L595.0,710.3 L597.5,710.6 L600.0,711.5 L602.5,712.4 L605.0,713.0 L607.5,713.4 L610.0,713.7 L612.5,714.1 L615.0,714.4 L617.5,714.8 L620.0,715.1 L622.5,715.3 L625.0,715.6 L627.5,715.8 L630.0,716.0 L632.5,716.1 L635.0,716.2 L637.5,716.3 L640.0,716.3 L642.5,716.3 L645.0,716.3 L647.5,716.3 L650.0,716.3 L652.5,716.3 L655.0,716.3 L657.5,716.3 L660.0,716.3 L662.5,716.3 L665.0,716.3 L667.5,716.3 L670.0,716.3 L672.5,716.3 L675.0,716.3 L677.5,716.3 L680.0,716.3 L682.5,716.3 L685.0,716.3 L687.5,716.3 L690.0,716.3 L692.5,716.3 L695.0,716.3 L697.5,716.3 L700.0,716.3 L702.5,716.3 L705.0,716.3 L707.5,716.3 L710.0,716.3 L712.5,716.3 L715.0,716.3 L717.5,716.3 L720.0,716.3 L722.5,716.3 L725.0,716.3 L727.5,716.3 L730.0,716.3 L732.5,716.3 L735.0,716.3 L737.5,716.3 L740.0,716.3 L742.5,716.3 L745.0,716.3 L747.5,716.3 L750.0,716.3 L752.5,716.3 L755.0,716.3 L757.5,716.3 L760.0,716.3 L762.5,716.2 L765.0,716.1 L767.5,715.8 L770.0,715.5 L772.5,715.1 L775.0,714.6 L777.5,714.2 L780.0,713.7 L782.5,713.2 L785.0,712.8 L787.5,712.4 L790.0,712.0 L792.8,711.6 L795.5,711.2 L798.2,710.8 L801.0,710.7 L803.8,711.0 L806.6,711.7 L809.4,712.6 L812.2,713.5 L815.0,714.0 L817.5,714.2 L820.0,714.5 L822.5,714.7 L825.0,714.9 L827.5,715.1 L830.0,715.3 L832.5,715.4 L835.0,715.6 L837.5,715.7 L840.0,715.8 L842.5,715.9 L845.0,716.0 L847.5,716.0 L850.0,716.0 L852.5,716.0 L855.0,716.0 L857.5,716.0 L860.0,716.0 L862.5,716.0 L865.0,716.0 L867.5,716.0 L870.0,715.9 L872.5,715.9 L875.0,715.9 L877.5,715.9 L880.0,715.9 L882.5,715.9 L885.0,715.8 L887.5,715.8 L890.0,715.8 L892.5,715.8 L895.0,715.7 L897.5,715.7 L900.0,715.7 L902.5,715.6 L905.0,715.6 L907.5,715.6 L910.0,715.5 L912.5,715.5 L915.0,715.5 L917.5,715.4 L920.0,715.4 L922.5,715.3 L925.0,715.3 L927.5,715.2 L930.0,715.2 L932.5,715.1 L935.0,715.1 L937.5,715.0 L940.0,715.0 L942.5,714.9 L945.0,714.9 L947.5,714.8 L950.0,714.8 L952.5,714.7 L955.0,714.7 L957.5,714.6 L960.0,714.5 L962.5,714.5 L965.0,714.4 L967.5,714.3 L970.0,714.3 L972.5,714.2 L975.0,714.1 L977.5,714.1 L980.0,714.0 L982.6,713.9 L985.2,713.8 L987.7,713.6 L990.3,713.4 L992.9,713.2 L995.5,712.9 L998.1,712.7 L1000.7,712.4 L1003.2,712.1 L1005.8,711.8 L1008.4,711.6 L1011.0,711.2 L1013.6,711.0 L1016.1,710.9 L1018.7,710.6 L1021.3,710.0 L1023.9,709.9 L1026.5,710.2 L1029.1,709.4 L1031.6,709.7 L1034.2,709.4 L1036.8,709.1 L1039.3,709.7 L1041.9,709.0 L1044.4,709.1 L1046.9,709.5 L1049.4,709.2 L1052.0,709.2 L1054.5,709.9 L1057.0,710.2 L1059.6,710.5 L1062.1,709.7 L1064.6,710.2 L1067.1,710.2 L1069.7,710.6 L1072.2,710.6 L1074.7,711.3 L1077.2,710.8 L1079.8,710.5 L1082.3,711.4 L1084.8,710.9 L1087.4,711.6 L1089.9,711.6 L1092.4,712.2 L1094.9,711.9 L1097.5,712.0 L1100.0,711.7 L1102.5,712.2 L1105.0,711.9 L1107.5,712.6 L1110.0,712.4 L1112.5,712.1 L1115.0,712.3 L1117.5,712.6 L1120.0,713.1 L1122.5,712.6 L1125.0,713.3 L1127.5,713.4 L1130.0,712.8 L1132.5,713.6 L1135.0,713.0 L1137.5,713.2 L1140.0,713.9 L1142.5,713.6 L1145.0,714.4 L1147.5,714.1 L1150.0,714.0 L1152.5,714.7 L1155.0,713.9 L1157.5,714.8 L1160.0,714.1 L1162.5,714.3 L1165.0,715.4 L1167.5,715.1 L1170.0,714.6 L1172.5,714.6 L1175.0,715.7 L1177.5,715.4 L1180.0,715.6 L1182.5,714.9 L1185.0,715.5 L1187.5,715.2 L1190.0,715.1 L1192.5,715.3 L1195.0,715.6 L1197.5,715.3 L1200.0,715.4 L1202.5,715.1 L1205.0,715.9 L1207.5,715.7 L1210.0,715.9 L1212.5,715.4 L1215.0,715.9 L1217.5,715.5 L1220.0,715.6 L1222.5,715.6 L1225.0,715.8 L1227.5,715.4 L1230.0,715.0 L1232.5,714.9 L1235.0,715.1 L1237.5,714.9 L1240.0,716.0 L1242.5,715.5 L1245.0,715.8 L1247.5,714.9 L1250.0,715.5 L1252.5,716.0 L1255.0,715.6 L1257.5,715.4 L1260.0,715.5 L1262.5,715.0 L1265.0,715.1 L1267.5,715.1 L1270.0,715.3 L1272.5,715.4 L1275.0,716.0 L1277.5,715.1 L1280.0,715.2 L1282.5,715.2 L1285.0,715.1 L1287.5,715.2 L1290.0,715.2 L1292.5,715.5 L1295.0,714.9 L1297.5,716.0 L1300.0,715.3 L1302.5,716.0 L1305.0,715.5 L1307.5,715.2 L1310.0,714.5 L1312.5,714.4 L1315.0,713.0 L1319.0,688.6" stroke="#FF00FF" stroke-width="6.6" fill="none" stroke-linejoin="round" stroke-linecap="butt"/>
<path d="M134.0,668.9 L136.5,668.9 L139.0,668.9 L141.5,668.9 L144.0,668.9 L146.5,668.9 L149.1,668.9 L151.6,668.9 L154.1,668.9 L156.6,668.9 L159.1,668.9 L161.6,668.9 L164.1,668.9 L166.6,668.9 L169.1,668.9 L171.6,668.9 L174.2,668.9 L176.7,668.9 L179.2,668.9 L181.7,668.9 L184.2,668.9 L186.7,668.9 L189.2,668.9 L191.7,668.9 L194.2,668.9 L196.7,668.9 L199.2,668.9 L201.8,668.9 L204.3,668.9 L206.8,668.9 L209.3,668.9 L211.8,668.9 L214.3,668.9 L216.8,668.9 L219.3,668.9 L221.8,668.9 L224.3,668.9 L226.8,668.9 L229.4,668.9 L231.9,668.9 L234.4,668.9 L236.9,668.9 L239.4,668.9 L241.9,668.9 L244.4,668.9 L246.9,668.9 L249.4,668.9 L251.9,668.9 L254.5,668.9 L257.0,668.9 L259.5,668.9 L262.0,668.9 L264.5,668.9 L267.0,668.9 L269.5,668.9 L272.0,668.9 L274.5,668.9 L277.0,668.9 L279.5,668.9 L282.1,668.9 L284.6,668.9 L287.1,668.8 L289.6,668.8 L292.1,668.8 L294.6,668.8 L297.1,668.8 L299.6,668.8 L302.1,668.8 L304.6,668.8 L307.2,668.8 L309.7,668.8 L312.2,668.8 L314.7,668.8 L317.2,668.8 L319.7,668.8 L322.2,668.8 L324.7,668.8 L327.2,668.8 L329.7,668.8 L332.2,668.8 L334.8,668.8 L337.3,668.8 L339.8,668.8 L342.3,668.8 L344.8,668.8 L347.3,668.8 L349.8,668.8 L352.3,668.8 L354.8,668.8 L357.3,668.8 L359.8,668.8 L362.4,668.8 L364.9,668.8 L367.4,668.8 L369.9,668.8 L372.4,668.7 L374.9,668.7 L377.4,668.7 L379.9,668.7 L382.4,668.7 L384.9,668.7 L387.5,668.7 L390.0,668.7 L392.5,668.7 L395.0,668.7 L397.5,668.7 L400.0,668.7 L402.6,668.7 L405.2,668.7 L407.8,668.6 L410.4,668.6 L413.0,668.5 L415.6,668.5 L418.2,668.4 L420.8,668.3 L423.4,668.2 L426.0,668.1 L428.6,668.0 L431.2,667.9 L433.8,667.7 L436.4,667.6 L439.0,667.5 L441.6,667.3 L444.1,667.1 L446.6,666.8 L449.2,666.3 L451.7,665.9 L454.2,665.3 L456.7,664.7 L459.2,664.1 L461.7,663.5 L464.3,662.9 L466.8,662.3 L469.3,661.8 L472.1,661.2 L474.9,660.5 L477.6,659.8 L480.4,659.2 L483.2,658.6 L485.9,658.1 L488.7,657.7 L491.5,657.6 L494.3,657.6 L497.0,657.8 L499.8,657.9 L502.6,658.1 L505.4,658.4 L508.1,658.7 L510.9,659.0 L513.5,659.4 L516.0,660.1 L518.6,660.9 L521.2,661.8 L523.8,662.5 L526.3,663.0 L528.9,663.2 L531.5,663.1 L534.2,662.7 L536.8,662.1 L539.5,661.4 L542.1,660.6 L544.7,659.7 L547.4,658.8 L550.0,657.9 L552.7,657.0 L555.3,656.3 L558.1,655.6 L560.8,655.0 L563.6,654.5 L566.3,653.9 L569.1,653.3 L571.9,652.5 L574.6,651.7 L577.4,650.7 L580.0,649.1 L582.6,646.6 L585.2,643.7 L587.7,640.7 L590.3,638.1 L592.9,636.2 L595.5,635.5 L598.7,636.8 L602.0,639.9 L605.2,643.8 L608.0,649.2 L610.7,656.1 L613.5,660.4 L616.3,662.0 L619.0,663.3 L621.8,664.3 L624.6,665.1 L627.3,665.6 L630.1,666.0 L632.7,666.3 L635.4,666.5 L638.0,666.8 L640.6,667.0 L643.2,667.2 L645.9,667.4 L648.5,667.6 L651.1,667.7 L653.7,667.9 L656.4,668.0 L659.0,668.1 L661.6,668.2 L664.2,668.3 L666.9,668.4 L669.5,668.5 L672.1,668.6 L674.7,668.6 L677.4,668.7 L680.0,668.7 L682.5,668.7 L685.1,668.8 L687.6,668.8 L690.1,668.8 L692.7,668.8 L695.2,668.8 L697.7,668.9 L700.3,668.9 L702.8,668.9 L705.3,668.9 L707.9,668.9 L710.4,669.0 L712.9,669.0 L715.5,669.0 L718.0,669.0 L720.5,669.0 L723.0,669.0 L725.6,669.0 L728.1,669.1 L730.6,669.1 L733.2,669.1 L735.7,669.1 L738.2,669.1 L740.8,669.1 L743.3,669.1 L745.8,669.1 L748.4,669.1 L750.9,669.1 L753.7,668.9 L756.5,668.3 L759.2,667.5 L762.0,666.5 L764.8,665.4 L767.5,664.3 L770.3,663.2 L773.1,662.2 L775.6,661.3 L778.2,660.4 L780.7,659.3 L783.3,658.3 L785.8,657.2 L788.4,656.2 L790.9,655.2 L793.4,654.3 L796.0,653.6 L798.5,653.0 L801.1,652.6 L803.6,652.5 L806.4,653.4 L809.1,655.4 L811.9,657.9 L814.6,659.9 L817.4,660.8 L820.2,660.8 L823.0,660.8 L825.7,660.8 L828.5,660.8 L831.3,660.8 L834.1,661.1 L836.8,661.8 L839.6,662.9 L842.4,664.0 L845.2,665.1 L847.9,665.9 L850.7,666.3 L853.3,666.4 L855.8,666.5 L858.4,666.6 L861.0,666.7 L863.5,666.8 L866.1,666.9 L868.7,667.0 L871.2,667.1 L873.8,667.1 L876.4,667.2 L878.9,667.3 L881.5,667.3 L884.1,667.4 L886.6,667.4 L889.2,667.5 L891.8,667.5 L894.3,667.5 L896.9,667.6 L899.5,667.6 L902.0,667.6 L904.6,667.6 L907.2,667.7 L909.7,667.7 L912.3,667.7 L914.9,667.7 L917.4,667.7 L920.0,667.7 L922.5,667.7 L925.0,667.7 L927.5,667.6 L930.0,667.6 L932.5,667.5 L935.0,667.4 L937.5,667.3 L940.0,667.2 L942.5,667.1 L945.0,667.0 L947.5,666.9 L950.0,666.8 L952.5,666.6 L955.0,666.5 L957.5,666.3 L960.0,666.2 L962.5,666.0 L965.0,665.9 L967.5,665.7 L970.0,665.6 L972.5,665.4 L975.0,665.3 L977.5,665.1 L980.0,665.0 L982.6,664.8 L985.1,664.7 L987.7,664.5 L990.2,664.3 L992.8,664.1 L995.4,663.8 L997.9,663.6 L1000.5,663.4 L1003.1,663.2 L1005.6,662.8 L1008.2,662.7 L1010.8,662.5 L1013.3,662.3 L1015.9,661.8 L1018.4,661.5 L1021.0,661.2 L1023.6,661.2 L1026.1,661.5 L1028.7,660.8 L1031.2,660.3 L1033.8,660.5 L1036.4,660.1 L1038.9,660.8 L1041.5,661.0 L1044.0,661.2 L1046.5,660.1 L1049.0,660.5 L1051.5,660.2 L1054.0,661.3 L1056.5,661.3 L1059.0,660.9 L1061.5,661.6 L1064.0,661.1 L1066.5,661.6 L1069.0,661.3 L1071.5,661.3 L1074.0,662.3 L1076.5,662.2 L1079.0,662.0 L1081.5,662.5 L1084.0,662.4 L1086.5,662.7 L1089.0,661.9 L1091.5,662.1 L1094.0,662.2 L1096.5,663.1 L1099.0,663.4 L1101.5,662.8 L1104.0,663.5 L1106.5,663.1 L1109.0,664.0 L1111.5,664.3 L1114.0,663.5 L1116.5,664.9 L1119.0,664.6 L1121.5,664.0 L1124.0,664.4 L1126.5,664.3 L1129.0,665.2 L1131.5,665.6 L1134.0,664.7 L1136.5,664.8 L1139.0,665.5 L1141.5,665.9 L1144.0,665.8 L1146.5,665.5 L1149.1,665.1 L1151.6,665.9 L1154.1,665.7 L1156.6,666.3 L1159.1,666.1 L1161.6,666.4 L1164.1,666.8 L1166.6,666.4 L1169.2,666.9 L1171.7,666.1 L1174.2,665.8 L1176.7,667.1 L1179.2,666.0 L1181.7,667.4 L1184.2,666.7 L1186.8,666.3 L1189.3,666.6 L1191.8,667.3 L1194.3,666.9 L1196.8,667.3 L1199.3,666.6 L1201.8,667.7 L1204.4,667.1 L1206.9,667.8 L1209.4,666.9 L1211.9,667.7 L1214.4,667.4 L1216.9,667.4 L1219.4,666.9 L1221.9,667.6 L1224.5,668.0 L1227.0,667.0 L1229.5,667.5 L1232.0,666.9 L1234.5,668.3 L1237.0,668.3 L1239.6,667.8 L1242.1,667.6 L1244.6,667.0 L1247.1,667.1 L1249.6,667.9 L1252.2,668.0 L1254.7,668.2 L1257.2,668.0 L1259.7,667.4 L1262.2,667.2 L1264.8,667.5 L1267.3,667.2 L1269.8,667.5 L1272.3,667.9 L1274.8,667.3 L1277.4,668.0 L1279.9,667.6 L1282.4,666.6 L1284.9,667.6 L1287.4,667.4 L1290.0,667.3 L1292.5,666.4 L1295.0,667.5 L1298.1,664.1 L1301.3,658.9 L1304.4,655.5 L1307.5,658.4 L1310.6,663.9 L1313.7,667.6 L1318.0,653.6" stroke="#808000" stroke-width="6.6" fill="none" stroke-linejoin="round" stroke-linecap="butt"/>
<path d="M134.0,613.3 L136.5,613.3 L139.0,613.3 L141.5,613.3 L144.0,613.3 L146.5,613.3 L149.1,613.3 L151.6,613.3 L154.1,613.3 L156.6,613.3 L159.1,613.3 L161.6,613.3 L164.1,613.3 L166.6,613.3 L169.1,613.3 L171.6,613.3 L174.2,613.3 L176.7,613.3 L179.2,613.3 L181.7,613.3 L184.2,613.3 L186.7,613.3 L189.2,613.3 L191.7,613.3 L194.2,613.3 L196.7,613.3 L199.2,613.3 L201.8,613.3 L204.3,613.3 L206.8,613.3 L209.3,613.3 L211.8,613.3 L214.3,613.3 L216.8,613.3 L219.3,613.3 L221.8,613.3 L224.3,613.3 L226.8,613.3 L229.4,613.3 L231.9,613.3 L234.4,613.3 L236.9,613.3 L239.4,613.3 L241.9,613.3 L244.4,613.3 L246.9,613.3 L249.4,613.3 L251.9,613.3 L254.5,613.3 L257.0,613.3 L259.5,613.3 L262.0,613.3 L264.5,613.3 L267.0,613.3 L269.5,613.3 L272.0,613.3 L274.5,613.3 L277.0,613.3 L279.5,613.3 L282.1,613.3 L284.6,613.3 L287.1,613.3 L289.6,613.3 L292.1,613.3 L294.6,613.3 L297.1,613.3 L299.6,613.3 L302.1,613.3 L304.6,613.3 L307.2,613.3 L309.7,613.3 L312.2,613.3 L314.7,613.3 L317.2,613.3 L319.7,613.3 L322.2,613.3 L324.7,613.3 L327.2,613.3 L329.7,613.3 L332.2,613.3 L334.8,613.3 L337.3,613.3 L339.8,613.3 L342.3,613.3 L344.8,613.3 L347.3,613.3 L349.8,613.3 L352.3,613.3 L354.8,613.3 L357.3,613.3 L359.8,613.3 L362.4,613.3 L364.9,613.3 L367.4,613.3 L369.9,613.3 L372.4,613.3 L374.9,613.3 L377.4,613.3 L379.9,613.3 L382.4,613.3 L384.9,613.3 L387.5,613.3 L390.0,613.3 L392.5,613.3 L395.0,613.3 L397.5,613.3 L400.0,613.3 L402.6,613.3 L405.1,613.2 L407.7,613.1 L410.2,613.0 L412.8,612.8 L415.4,612.6 L417.9,612.4 L420.5,612.1 L423.1,611.8 L425.6,611.5 L428.2,611.2 L430.7,610.9 L433.3,610.5 L436.1,610.0 L438.8,609.3 L441.6,608.4 L444.4,607.4 L447.1,606.3 L449.9,605.0 L452.7,603.4 L455.4,601.3 L458.2,598.9 L461.0,596.3 L463.8,593.6 L466.5,590.9 L469.3,588.3 L472.1,585.7 L474.9,583.0 L477.6,580.3 L480.4,577.9 L483.2,575.9 L485.7,574.3 L488.3,572.7 L490.8,571.2 L493.3,570.0 L495.9,569.2 L498.4,568.9 L500.9,569.2 L503.4,570.1 L505.9,571.3 L508.4,572.9 L510.9,574.5 L513.7,577.2 L516.5,581.1 L519.2,585.1 L522.0,588.3 L524.8,590.8 L527.5,593.0 L530.3,593.9 L533.1,593.0 L535.8,590.9 L538.6,588.2 L541.4,585.6 L544.2,583.0 L547.0,580.2 L549.7,577.3 L552.5,574.4 L555.3,571.7 L558.1,569.3 L560.8,567.2 L563.6,565.1 L566.4,563.0 L569.1,560.6 L571.9,557.8 L574.7,554.5 L577.5,550.7 L580.2,546.3 L583.0,541.2 L585.8,534.1 L588.5,525.7 L591.3,519.0 L593.8,514.4 L596.3,512.1 L599.3,515.1 L602.4,521.8 L605.1,533.4 L607.9,549.5 L610.7,569.3 L613.5,585.6 L616.3,593.4 L619.0,599.0 L621.8,602.2 L624.6,603.9 L627.3,605.3 L630.1,606.5 L632.9,607.4 L635.7,608.1 L638.4,608.7 L641.2,609.1 L643.8,609.4 L646.4,609.7 L649.0,610.0 L651.5,610.3 L654.1,610.5 L656.7,610.7 L659.3,610.9 L661.9,611.1 L664.5,611.3 L667.1,611.4 L669.7,611.5 L672.2,611.6 L674.8,611.7 L677.4,611.8 L680.0,611.9 L682.6,612.0 L685.3,612.0 L687.9,612.0 L690.6,612.1 L693.2,612.1 L695.9,612.1 L698.5,612.2 L701.2,612.2 L703.8,612.3 L706.6,612.4 L709.3,612.7 L712.1,612.9 L714.9,613.2 L717.7,613.5 L720.4,613.6 L723.2,613.7 L725.8,613.7 L728.3,613.6 L730.9,613.5 L733.4,613.4 L736.0,613.2 L738.5,613.0 L741.1,612.8 L743.6,612.6 L746.2,612.3 L748.7,612.0 L751.3,611.6 L753.8,611.3 L756.4,610.9 L759.2,610.3 L762.0,609.4 L764.8,608.3 L767.5,607.0 L770.3,605.5 L773.1,604.0 L775.9,602.2 L778.6,599.9 L781.4,597.3 L784.2,594.7 L786.9,592.2 L789.7,590.1 L792.5,588.0 L795.3,585.8 L798.0,583.8 L800.8,582.4 L803.6,581.8 L806.4,583.2 L809.2,586.2 L812.0,589.0 L815.2,591.8 L818.4,594.5 L821.6,595.7 L824.4,595.3 L827.2,594.3 L829.9,593.3 L832.7,592.9 L835.2,593.8 L837.8,596.1 L840.3,599.1 L842.8,602.3 L845.4,605.1 L847.9,606.7 L850.4,607.6 L853.0,608.3 L855.5,609.0 L858.0,609.7 L860.5,610.3 L863.1,610.8 L865.6,611.2 L868.1,611.6 L870.6,611.9 L873.2,612.1 L875.7,612.3 L878.3,612.4 L880.9,612.6 L883.5,612.7 L886.1,612.8 L888.7,612.9 L891.3,613.0 L893.9,613.1 L896.5,613.1 L899.2,613.2 L901.8,613.3 L904.4,613.3 L907.0,613.4 L909.6,613.5 L912.2,613.5 L914.8,613.6 L917.4,613.6 L920.0,613.7 L922.6,613.8 L925.2,613.8 L927.8,613.9 L930.3,614.0 L932.9,614.0 L935.5,614.1 L938.1,614.2 L940.7,614.3 L943.3,614.3 L945.8,614.4 L948.4,614.4 L951.0,614.5 L953.6,614.5 L956.2,614.6 L958.8,614.6 L961.3,614.7 L963.9,614.7 L966.5,614.7 L969.1,614.7 L971.7,614.6 L974.3,614.4 L977.0,614.2 L979.6,613.8 L982.2,613.3 L984.8,612.8 L987.5,612.2 L990.1,611.6 L992.7,611.0 L995.3,610.4 L998.0,609.8 L1000.6,609.2 L1003.2,608.6 L1005.8,608.2 L1008.5,607.7 L1011.1,607.3 L1013.7,607.2 L1016.3,607.3 L1018.8,607.1 L1021.4,606.5 L1024.0,606.2 L1026.5,606.8 L1029.1,606.3 L1031.7,606.3 L1034.2,605.4 L1036.8,605.2 L1039.4,606.0 L1041.9,605.4 L1044.5,604.7 L1047.1,606.0 L1049.6,605.4 L1052.2,605.5 L1054.8,604.3 L1057.3,605.4 L1059.9,604.1 L1062.5,605.2 L1065.0,604.5 L1067.6,604.2 L1070.2,604.5 L1072.7,605.0 L1075.3,603.9 L1077.9,603.6 L1080.4,604.2 L1083.0,603.7 L1085.6,603.5 L1088.1,603.5 L1090.7,603.3 L1093.3,603.5 L1095.8,603.7 L1098.4,603.7 L1101.0,604.5 L1103.6,603.8 L1106.1,604.3 L1108.7,604.0 L1111.3,604.5 L1113.9,604.3 L1116.5,605.0 L1119.0,605.0 L1121.6,606.5 L1124.2,606.6 L1126.8,606.5 L1129.3,607.3 L1131.9,608.4 L1134.5,607.5 L1137.1,608.9 L1139.7,608.6 L1142.2,609.0 L1144.8,609.8 L1147.4,609.2 L1149.9,609.6 L1152.5,610.0 L1155.0,610.6 L1157.6,609.7 L1160.1,610.6 L1162.7,610.6 L1165.2,610.6 L1167.8,610.3 L1170.3,610.4 L1172.9,610.0 L1175.4,610.3 L1177.9,610.3 L1180.5,611.5 L1183.0,610.8 L1185.6,610.8 L1188.1,610.8 L1190.7,612.1 L1193.2,612.2 L1195.8,612.0 L1198.3,611.5 L1200.9,611.5 L1203.4,611.6 L1206.0,612.0 L1208.5,611.6 L1211.0,612.1 L1213.6,611.9 L1216.1,613.0 L1218.7,613.1 L1221.2,612.5 L1223.8,612.0 L1226.3,613.2 L1228.9,612.2 L1231.4,612.3 L1234.0,611.7 L1236.5,612.3 L1239.1,612.4 L1241.7,612.4 L1244.2,611.9 L1246.8,612.3 L1249.4,611.4 L1252.0,611.7 L1254.6,611.2 L1257.1,611.6 L1259.7,610.8 L1262.3,610.6 L1264.9,610.8 L1267.4,610.5 L1270.0,610.8 L1272.6,610.5 L1275.2,610.7 L1277.8,610.3 L1280.3,610.2 L1282.9,610.2 L1285.5,609.2 L1288.4,608.9 L1291.3,609.8 L1294.2,608.2 L1297.1,608.8 L1300.0,608.2 L1302.6,605.4 L1305.2,603.8 L1307.8,602.4 L1310.9,604.5 L1314.0,608.4 L1316.5,610.4 L1319.0,611.6" stroke="#008080" stroke-width="6.6" fill="none" stroke-linejoin="round" stroke-linecap="butt"/>
<path d="M134.0,564.7 L136.5,564.7 L139.0,564.7 L141.5,564.7 L144.1,564.7 L146.6,564.7 L149.1,564.7 L151.6,564.7 L154.1,564.7 L156.6,564.7 L159.2,564.7 L161.7,564.7 L164.2,564.7 L166.7,564.7 L169.2,564.7 L171.7,564.7 L174.2,564.7 L176.8,564.6 L179.3,564.6 L181.8,564.6 L184.3,564.6 L186.8,564.6 L189.3,564.6 L191.8,564.6 L194.4,564.6 L196.9,564.6 L199.4,564.6 L201.9,564.6 L204.4,564.6 L206.9,564.5 L209.5,564.5 L212.0,564.5 L214.5,564.5 L217.0,564.5 L219.5,564.5 L222.0,564.5 L224.5,564.5 L227.1,564.5 L229.6,564.4 L232.1,564.4 L234.6,564.4 L237.1,564.4 L239.6,564.4 L242.2,564.4 L244.7,564.4 L247.2,564.3 L249.7,564.3 L252.2,564.3 L254.7,564.3 L257.2,564.3 L259.8,564.3 L262.3,564.3 L264.8,564.2 L267.3,564.2 L269.8,564.2 L272.3,564.2 L274.8,564.2 L277.4,564.2 L279.9,564.1 L282.4,564.1 L284.9,564.1 L287.4,564.1 L289.9,564.1 L292.5,564.1 L295.0,564.0 L297.5,564.0 L300.0,564.0 L302.5,564.0 L305.0,564.0 L307.5,563.9 L310.0,563.9 L312.5,563.9 L315.0,563.9 L317.5,563.9 L320.0,563.8 L322.5,563.8 L325.0,563.8 L327.5,563.7 L330.0,563.7 L332.5,563.7 L335.0,563.7 L337.5,563.6 L340.0,563.6 L342.5,563.5 L345.0,563.5 L347.5,563.5 L350.0,563.4 L352.5,563.4 L355.0,563.3 L357.5,563.3 L360.0,563.2 L362.5,563.2 L365.0,563.1 L367.5,563.1 L370.0,563.0 L372.5,562.9 L375.0,562.9 L377.5,562.8 L380.0,562.7 L382.5,562.6 L385.0,562.6 L387.5,562.5 L390.0,562.4 L392.5,562.3 L395.0,562.2 L397.5,562.1 L400.0,562.0 L402.5,561.9 L405.0,561.7 L407.6,561.5 L410.1,561.2 L412.6,560.8 L415.1,560.5 L417.6,560.0 L420.1,559.5 L422.7,559.0 L425.2,558.4 L427.7,557.8 L430.5,556.9 L433.3,555.5 L436.0,553.8 L438.8,551.8 L441.6,549.5 L444.4,546.4 L447.1,542.3 L449.9,537.5 L452.6,532.4 L455.4,527.3 L458.2,522.2 L461.0,516.9 L463.7,511.3 L466.5,505.6 L469.3,499.6 L472.1,493.2 L474.9,486.4 L477.6,479.4 L480.4,472.6 L483.2,466.3 L486.0,460.1 L488.7,454.1 L491.5,449.7 L494.3,446.5 L497.0,443.9 L499.8,442.8 L502.6,444.3 L505.3,448.0 L508.1,452.5 L510.9,458.5 L513.6,466.4 L516.4,474.7 L519.9,486.6 L523.4,496.8 L526.8,503.3 L530.3,506.5 L533.1,504.5 L535.8,499.7 L538.6,494.1 L541.4,487.5 L544.1,479.5 L546.9,471.9 L549.7,465.1 L552.5,458.5 L555.2,452.3 L558.0,446.9 L560.8,442.5 L563.5,438.7 L566.3,434.8 L569.1,430.3 L571.9,424.8 L574.6,418.4 L577.4,410.9 L580.2,401.2 L582.9,389.6 L585.7,377.6 L588.5,363.8 L591.3,352.7 L595.5,345.7 L598.2,349.2 L601.0,358.2 L605.2,410.9 L608.0,447.7 L610.7,480.2 L613.5,504.7 L616.2,521.8 L619.0,532.0 L621.8,539.7 L624.6,544.0 L627.4,546.2 L630.1,547.8 L632.9,549.1 L635.6,550.1 L638.4,550.9 L641.0,551.6 L643.7,552.3 L646.3,552.8 L649.0,553.3 L651.6,553.8 L654.3,554.2 L656.9,554.6 L659.6,555.1 L662.2,555.5 L664.7,555.9 L667.2,556.4 L669.8,556.9 L672.3,557.4 L674.8,557.9 L677.3,558.4 L679.8,558.8 L682.3,559.1 L684.9,559.4 L687.4,559.5 L689.9,559.6 L692.5,559.3 L695.0,558.5 L697.5,557.5 L700.1,556.6 L702.7,555.8 L705.2,555.5 L708.3,556.8 L711.4,559.6 L714.5,562.5 L717.6,563.8 L720.2,563.8 L722.7,563.7 L725.3,563.5 L727.8,563.3 L730.4,563.1 L733.0,562.8 L735.5,562.4 L738.1,562.0 L740.7,561.6 L743.2,561.1 L745.8,560.7 L748.3,560.1 L750.9,559.6 L753.7,558.9 L756.4,557.8 L759.2,556.6 L762.0,555.0 L764.7,553.3 L767.5,551.3 L770.3,548.5 L773.1,544.6 L775.9,540.0 L778.6,535.1 L781.4,530.4 L784.2,526.3 L787.0,522.6 L789.7,518.8 L792.5,515.3 L795.2,512.2 L798.0,509.7 L801.5,506.9 L805.0,505.5 L807.5,506.9 L810.1,510.6 L812.6,515.2 L815.1,519.9 L817.7,523.6 L820.2,525.0 L823.0,524.1 L825.8,522.2 L828.5,520.3 L831.3,519.4 L834.1,521.4 L836.9,526.3 L839.6,532.6 L842.4,538.7 L845.2,543.0 L848.0,545.8 L850.7,548.3 L853.5,550.5 L856.3,552.5 L859.0,554.1 L861.8,555.5 L864.3,556.6 L866.8,557.6 L869.4,558.6 L871.9,559.5 L874.4,560.3 L876.9,561.1 L879.4,561.8 L881.9,562.4 L884.5,562.9 L887.0,563.4 L889.5,563.8 L892.0,564.1 L894.6,564.5 L897.1,564.8 L899.7,565.1 L902.2,565.4 L904.8,565.7 L907.3,565.9 L909.8,566.1 L912.4,566.3 L914.9,566.4 L917.5,566.5 L920.0,566.5 L922.6,566.5 L925.2,566.5 L927.8,566.4 L930.3,566.3 L932.9,566.2 L935.5,566.1 L938.1,566.0 L940.7,565.8 L943.3,565.6 L945.8,565.5 L948.4,565.3 L951.0,565.1 L953.6,564.9 L956.2,564.6 L958.8,564.4 L961.3,564.2 L963.9,564.0 L966.5,563.7 L969.1,563.5 L971.7,563.2 L974.3,562.9 L977.0,562.5 L979.6,562.0 L982.2,561.5 L984.8,561.0 L987.5,560.5 L990.1,559.9 L992.7,559.3 L995.3,558.8 L998.0,558.3 L1000.6,557.8 L1003.2,557.2 L1005.8,557.0 L1008.5,556.3 L1011.1,556.2 L1013.7,556.0 L1016.3,556.1 L1018.9,555.4 L1021.6,555.9 L1024.2,555.4 L1026.8,555.1 L1029.4,554.5 L1032.1,554.5 L1034.7,554.5 L1037.3,554.4 L1039.9,554.3 L1042.6,555.1 L1045.2,554.1 L1047.8,554.5 L1050.4,553.2 L1053.1,553.3 L1055.7,554.3 L1058.3,554.5 L1060.8,553.1 L1063.3,552.4 L1065.8,552.5 L1068.3,552.5 L1070.8,552.2 L1073.3,552.3 L1075.8,551.5 L1078.3,551.9 L1080.9,551.9 L1083.4,551.6 L1085.9,551.2 L1088.4,550.7 L1090.9,549.9 L1093.4,550.9 L1095.9,549.7 L1098.4,550.8 L1101.0,550.0 L1103.6,550.6 L1106.1,550.6 L1108.7,551.2 L1111.3,551.0 L1113.9,551.9 L1116.5,552.7 L1119.0,552.5 L1121.6,553.5 L1124.2,553.8 L1126.8,554.4 L1129.3,554.8 L1131.9,555.7 L1134.5,556.6 L1137.1,556.0 L1139.7,556.4 L1142.2,558.2 L1144.8,557.0 L1147.4,558.7 L1150.0,558.8 L1152.6,557.9 L1155.3,558.9 L1157.9,558.3 L1160.5,559.7 L1163.1,558.5 L1165.8,558.4 L1168.4,558.4 L1171.0,559.9 L1173.6,559.0 L1176.3,559.3 L1178.9,560.8 L1181.5,560.4 L1184.1,560.5 L1186.8,560.3 L1189.4,560.6 L1192.0,559.4 L1194.6,561.2 L1197.2,560.3 L1199.9,561.6 L1202.5,560.8 L1205.1,562.0 L1207.7,560.4 L1210.3,562.5 L1212.9,560.9 L1215.6,561.9 L1218.2,562.0 L1220.8,563.1 L1223.4,562.7 L1226.0,563.4 L1228.6,563.3 L1231.3,562.4 L1233.9,561.9 L1236.5,561.9 L1239.1,563.0 L1241.7,563.4 L1244.4,562.7 L1247.0,562.0 L1249.6,562.3 L1252.2,562.3 L1254.9,561.3 L1257.5,562.0 L1260.1,560.8 L1262.7,560.3 L1265.4,560.2 L1268.0,560.8 L1270.6,561.1 L1273.2,560.0 L1275.9,560.3 L1278.5,560.8 L1281.1,559.9 L1283.8,560.5 L1286.4,560.7 L1289.1,560.5 L1291.8,560.3 L1294.4,561.4 L1297.1,561.6 L1299.8,560.8 L1302.5,562.2 L1305.1,562.0 L1307.8,562.4 L1311.4,557.4 L1315.0,545.0 L1319.0,509.1" stroke="#800000" stroke-width="6.6" fill="none" stroke-linejoin="round" stroke-linecap="butt"/>
<path d="M134.0,510.3 L136.5,510.3 L139.0,510.3 L141.5,510.3 L144.1,510.3 L146.6,510.3 L149.1,510.3 L151.6,510.3 L154.1,510.3 L156.6,510.3 L159.2,510.3 L161.7,510.3 L164.2,510.3 L166.7,510.3 L169.2,510.3 L171.7,510.3 L174.2,510.3 L176.8,510.3 L179.3,510.3 L181.8,510.3 L184.3,510.3 L186.8,510.3 L189.3,510.3 L191.8,510.3 L194.4,510.3 L196.9,510.2 L199.4,510.2 L201.9,510.2 L204.4,510.2 L206.9,510.2 L209.5,510.2 L212.0,510.2 L214.5,510.2 L217.0,510.2 L219.5,510.2 L222.0,510.2 L224.5,510.2 L227.1,510.2 L229.6,510.2 L232.1,510.2 L234.6,510.2 L237.1,510.2 L239.6,510.2 L242.2,510.2 L244.7,510.2 L247.2,510.1 L249.7,510.1 L252.2,510.1 L254.7,510.1 L257.2,510.1 L259.8,510.1 L262.3,510.1 L264.8,510.1 L267.3,510.1 L269.8,510.1 L272.3,510.1 L274.8,510.1 L277.4,510.1 L279.9,510.1 L282.4,510.1 L284.9,510.0 L287.4,510.0 L289.9,510.0 L292.5,510.0 L295.0,510.0 L297.5,510.0 L300.0,510.0 L302.5,510.0 L305.0,510.0 L307.5,510.0 L310.0,510.0 L312.5,510.0 L315.0,510.0 L317.5,509.9 L320.0,509.9 L322.5,509.9 L325.0,509.9 L327.5,509.9 L330.0,509.9 L332.5,509.9 L335.0,509.9 L337.5,509.9 L340.0,509.9 L342.5,509.9 L345.0,509.8 L347.5,509.8 L350.0,509.8 L352.5,509.8 L355.0,509.8 L357.5,509.8 L360.0,509.8 L362.5,509.7 L365.0,509.7 L367.5,509.7 L370.0,509.7 L372.5,509.7 L375.0,509.6 L377.5,509.6 L380.0,509.6 L382.5,509.5 L385.0,509.5 L387.5,509.5 L390.0,509.4 L392.5,509.4 L395.0,509.4 L397.5,509.3 L400.0,509.3 L402.5,509.2 L405.0,509.0 L407.6,508.7 L410.1,508.3 L412.6,507.9 L415.1,507.4 L417.6,506.8 L420.1,506.1 L422.7,505.4 L425.2,504.6 L427.7,503.8 L430.5,502.7 L433.3,501.1 L436.0,499.2 L438.8,496.8 L441.6,494.1 L444.4,490.5 L447.1,485.5 L449.9,479.6 L452.6,473.1 L455.4,466.3 L458.2,458.8 L461.0,450.4 L463.7,441.2 L466.5,431.7 L469.3,422.0 L472.1,411.8 L474.9,400.7 L477.6,389.6 L480.4,378.9 L483.2,369.3 L486.0,360.2 L488.8,351.3 L491.5,343.8 L494.3,338.8 L497.8,335.0 L501.2,333.3 L504.0,335.4 L506.7,340.5 L509.5,347.1 L513.0,360.5 L516.4,377.6 L519.9,395.3 L523.4,410.9 L526.8,422.8 L530.3,428.9 L533.1,426.4 L535.8,420.5 L538.6,413.7 L541.4,406.2 L544.2,397.1 L546.9,387.3 L549.7,377.6 L552.5,367.5 L555.2,356.8 L558.0,346.7 L560.8,338.8 L563.6,333.4 L566.3,329.2 L569.1,324.9 L571.9,319.4 L575.5,308.3 L579.2,294.1 L582.8,276.7 L586.4,258.4 L590.0,238.8 L593.5,227.5 L596.5,233.0 L599.4,246.5 L604.2,322.6 L607.2,360.5 L610.1,393.9 L613.2,426.8 L616.2,452.5 L619.0,467.4 L621.8,477.4 L624.6,483.7 L627.3,488.4 L630.1,491.3 L632.9,492.9 L635.6,494.2 L638.4,495.2 L641.2,496.0 L644.0,496.8 L646.7,497.5 L649.5,498.2 L652.0,498.9 L654.6,499.7 L657.1,500.5 L659.7,501.3 L662.2,502.1 L664.8,502.8 L667.3,503.4 L669.8,504.0 L672.4,504.5 L674.9,504.9 L677.5,505.1 L680.0,505.2 L682.5,505.1 L685.0,504.7 L687.6,504.2 L690.1,503.7 L692.6,503.0 L695.1,502.3 L697.6,501.8 L700.2,501.3 L702.7,500.9 L705.2,500.8 L707.7,501.5 L710.3,503.1 L712.8,505.2 L715.3,507.4 L717.9,509.0 L720.4,509.7 L722.9,509.7 L725.5,509.6 L728.0,509.5 L730.6,509.4 L733.1,509.2 L735.6,508.9 L738.2,508.7 L740.7,508.4 L743.3,508.1 L745.8,507.7 L748.4,507.3 L750.9,506.9 L753.7,506.2 L756.4,505.2 L759.2,503.9 L762.0,502.3 L764.7,500.5 L767.5,498.6 L770.3,496.1 L773.1,492.7 L775.9,488.8 L778.6,484.6 L781.4,480.4 L784.2,476.4 L787.0,472.4 L789.7,468.0 L792.5,463.8 L795.2,460.0 L798.0,457.0 L800.8,454.5 L803.5,452.4 L806.3,451.5 L809.1,453.4 L811.9,457.8 L814.6,463.2 L817.4,467.6 L820.2,469.5 L823.0,468.6 L825.8,466.8 L828.5,464.9 L831.3,464.0 L834.1,465.9 L836.9,470.8 L839.6,477.0 L842.4,483.0 L845.2,487.5 L848.0,490.5 L850.7,493.4 L853.5,496.0 L856.3,498.2 L859.0,500.0 L861.8,501.4 L864.3,502.4 L866.8,503.3 L869.4,504.1 L871.9,504.8 L874.4,505.5 L876.9,506.1 L879.4,506.6 L881.9,507.1 L884.5,507.5 L887.0,507.9 L889.5,508.3 L892.0,508.6 L894.6,509.0 L897.1,509.3 L899.7,509.6 L902.2,509.9 L904.8,510.2 L907.3,510.5 L909.8,510.7 L912.4,510.9 L914.9,511.0 L917.5,511.1 L920.0,511.1 L922.6,511.1 L925.2,511.1 L927.8,511.1 L930.3,511.1 L932.9,511.1 L935.5,511.0 L938.1,511.0 L940.7,511.0 L943.3,511.0 L945.8,510.9 L948.4,510.9 L951.0,510.8 L953.6,510.8 L956.2,510.8 L958.8,510.7 L961.3,510.7 L963.9,510.6 L966.5,510.6 L969.1,510.5 L971.7,510.4 L974.3,510.3 L977.0,510.1 L979.6,509.9 L982.2,509.6 L984.8,509.3 L987.5,509.0 L990.1,508.7 L992.7,508.4 L995.3,508.0 L998.0,507.7 L1000.6,507.4 L1003.2,507.0 L1005.8,506.8 L1008.5,506.5 L1011.1,506.4 L1013.7,506.2 L1016.3,505.6 L1018.9,505.3 L1021.6,505.4 L1024.2,505.5 L1026.8,504.8 L1029.4,504.8 L1032.1,505.2 L1034.7,504.4 L1037.3,504.7 L1039.9,504.5 L1042.6,505.0 L1045.2,503.2 L1047.8,503.4 L1050.4,504.3 L1053.1,503.9 L1055.7,502.7 L1058.3,502.6 L1060.8,502.6 L1063.3,503.0 L1065.8,503.4 L1068.3,501.9 L1070.8,501.6 L1073.3,502.3 L1075.8,501.5 L1078.3,502.0 L1080.9,502.1 L1083.4,501.7 L1085.9,501.1 L1088.4,500.5 L1090.9,499.6 L1093.4,500.9 L1095.9,500.0 L1098.4,500.1 L1101.0,500.5 L1103.6,501.2 L1106.1,500.6 L1108.7,501.4 L1111.3,501.7 L1113.9,500.4 L1116.5,501.2 L1119.0,502.5 L1121.6,502.6 L1124.2,503.3 L1126.8,502.2 L1129.3,503.1 L1131.9,504.2 L1134.5,503.8 L1137.1,504.3 L1139.7,505.1 L1142.2,503.8 L1144.8,503.8 L1147.4,505.3 L1150.0,504.9 L1152.6,504.3 L1155.3,505.5 L1157.9,504.6 L1160.5,504.4 L1163.1,504.7 L1165.8,504.3 L1168.4,505.0 L1171.0,505.7 L1173.6,505.2 L1176.3,506.1 L1178.9,504.5 L1181.5,504.8 L1184.1,504.8 L1186.8,505.6 L1189.4,505.0 L1192.0,505.9 L1194.6,505.7 L1197.2,505.9 L1199.9,506.4 L1202.5,506.4 L1205.1,506.7 L1207.7,505.4 L1210.3,505.9 L1212.9,507.0 L1215.6,506.1 L1218.2,506.0 L1220.8,506.4 L1223.4,505.9 L1226.0,507.2 L1228.6,506.9 L1231.3,506.0 L1233.9,507.7 L1236.5,506.9 L1239.1,506.5 L1241.7,507.3 L1244.4,507.9 L1247.0,506.9 L1249.6,506.4 L1252.2,506.8 L1254.9,506.6 L1257.5,507.6 L1260.1,507.2 L1262.7,508.3 L1265.4,507.2 L1268.0,506.9 L1270.6,507.8 L1273.2,507.3 L1275.9,507.7 L1278.5,507.6 L1281.1,507.6 L1283.7,508.5 L1286.4,509.2 L1289.0,508.3 L1291.6,508.8 L1294.2,508.4 L1296.9,509.6 L1299.5,509.0 L1302.1,508.1 L1304.7,509.5 L1307.4,508.6 L1310.0,508.3 L1313.0,505.7 L1316.0,500.0 L1319.0,477.9" stroke="#FF8000" stroke-width="6.6" fill="none" stroke-linejoin="round" stroke-linecap="butt"/>
<path d="M134.0,458.4 L136.5,458.4 L139.0,458.4 L141.5,458.4 L144.1,458.4 L146.6,458.4 L149.1,458.4 L151.6,458.4 L154.1,458.4 L156.6,458.4 L159.2,458.4 L161.7,458.4 L164.2,458.4 L166.7,458.4 L169.2,458.4 L171.7,458.4 L174.2,458.4 L176.8,458.4 L179.3,458.4 L181.8,458.4 L184.3,458.4 L186.8,458.4 L189.3,458.4 L191.8,458.4 L194.4,458.4 L196.9,458.4 L199.4,458.4 L201.9,458.4 L204.4,458.4 L206.9,458.4 L209.5,458.4 L212.0,458.4 L214.5,458.4 L217.0,458.4 L219.5,458.3 L222.0,458.3 L224.5,458.3 L227.1,458.3 L229.6,458.3 L232.1,458.3 L234.6,458.3 L237.1,458.3 L239.6,458.3 L242.2,458.3 L244.7,458.3 L247.2,458.3 L249.7,458.3 L252.2,458.3 L254.7,458.3 L257.2,458.3 L259.8,458.3 L262.3,458.3 L264.8,458.3 L267.3,458.3 L269.8,458.3 L272.3,458.3 L274.8,458.3 L277.4,458.3 L279.9,458.2 L282.4,458.2 L284.9,458.2 L287.4,458.2 L289.9,458.2 L292.5,458.2 L295.0,458.2 L297.5,458.2 L300.0,458.2 L302.5,458.2 L305.0,458.2 L307.5,458.2 L310.0,458.2 L312.5,458.2 L315.0,458.1 L317.5,458.1 L320.0,458.1 L322.5,458.1 L325.0,458.1 L327.5,458.1 L330.0,458.0 L332.5,458.0 L335.0,458.0 L337.5,458.0 L340.0,457.9 L342.5,457.9 L345.0,457.9 L347.5,457.9 L350.0,457.8 L352.5,457.8 L355.0,457.7 L357.5,457.7 L360.0,457.7 L362.5,457.6 L365.0,457.6 L367.5,457.5 L370.0,457.5 L372.5,457.4 L375.0,457.3 L377.5,457.3 L380.0,457.2 L382.5,457.1 L385.0,457.1 L387.5,457.0 L390.0,456.9 L392.5,456.9 L395.0,456.8 L397.5,456.7 L400.0,456.6 L402.5,456.5 L405.0,456.2 L407.5,455.8 L410.0,455.4 L412.5,454.9 L415.0,454.4 L417.5,453.9 L420.0,453.3 L422.9,452.6 L425.7,451.8 L428.6,450.9 L431.4,449.8 L434.3,448.5 L437.2,446.7 L440.2,444.1 L443.2,440.8 L446.1,436.7 L449.3,429.5 L452.4,419.3 L455.6,408.1 L458.8,396.7 L462.0,384.1 L465.2,370.1 L468.4,354.1 L471.5,336.2 L474.7,317.8 L478.2,296.5 L481.8,275.0 L485.4,252.9 L488.9,234.7 L492.4,222.7 L496.0,215.6 L499.0,213.1 L502.0,212.1 L505.6,215.0 L509.1,221.6 L512.0,231.7 L515.0,246.5 L518.0,265.3 L521.0,287.0 L525.8,322.6 L530.5,340.6 L533.5,337.1 L536.4,329.7 L540.0,314.0 L543.6,294.0 L547.2,275.9 L550.7,258.4 L554.2,241.5 L557.8,227.5 L561.4,218.4 L565.0,210.9 L568.5,203.8 L572.1,196.6 L575.0,190.5 L578.0,183.0 L581.0,169.9 L584.0,153.0 L588.6,123.0 L593.5,107.0 L596.2,111.6 L599.0,123.0 L602.0,159.0 L605.0,218.0 L608.0,278.0 L611.0,337.0 L614.0,370.7 L617.0,394.0 L620.5,414.7 L624.0,427.0 L626.8,430.8 L629.6,433.7 L632.4,435.9 L635.2,437.6 L638.0,439.0 L640.7,440.3 L643.4,441.5 L646.1,442.6 L648.8,443.7 L651.5,444.6 L654.2,445.5 L656.9,446.3 L659.6,447.0 L662.3,447.6 L665.0,448.2 L667.7,448.7 L670.5,449.2 L673.2,449.7 L676.0,450.2 L678.8,450.6 L681.6,451.0 L684.4,451.2 L687.1,451.4 L689.9,451.5 L692.4,451.3 L695.0,450.7 L697.5,449.9 L700.0,449.0 L702.6,447.5 L705.2,446.5 L710.0,450.0 L712.6,451.8 L715.2,453.6 L717.8,455.0 L720.4,455.6 L722.9,455.6 L725.4,455.5 L727.9,455.5 L730.4,455.4 L732.9,455.3 L735.4,455.1 L737.9,454.9 L740.4,454.8 L742.9,454.5 L745.4,454.3 L748.2,453.8 L750.9,452.8 L753.7,451.4 L756.5,449.6 L759.3,447.6 L762.0,445.5 L764.8,443.2 L767.6,440.3 L770.3,436.6 L773.1,432.3 L775.8,427.9 L778.6,423.8 L781.4,419.9 L784.2,415.9 L786.9,412.0 L789.7,408.1 L792.5,404.4 L795.0,400.9 L797.5,397.5 L800.0,395.0 L803.1,392.9 L806.3,391.9 L809.6,395.4 L813.0,401.0 L816.6,406.6 L820.2,409.9 L823.1,407.6 L826.0,404.0 L828.6,401.5 L831.3,400.2 L834.1,403.0 L837.0,408.0 L839.7,413.0 L842.4,418.2 L845.2,423.2 L847.9,428.4 L850.7,433.2 L853.4,437.3 L856.2,440.4 L859.0,442.7 L861.8,444.7 L864.6,446.4 L867.3,447.9 L870.1,449.3 L872.9,450.5 L875.7,451.5 L878.5,452.5 L881.2,453.4 L884.0,454.4 L886.8,455.2 L889.5,455.9 L892.3,456.5 L895.0,456.9 L897.8,457.0 L900.5,457.0 L903.2,457.0 L905.8,457.0 L908.5,457.0 L911.2,457.0 L913.9,457.0 L916.6,457.0 L919.2,457.0 L921.9,457.0 L924.6,457.0 L927.2,457.0 L929.8,457.1 L932.5,457.2 L935.1,457.3 L937.7,457.5 L940.3,457.6 L942.9,457.8 L945.5,458.0 L948.2,458.2 L950.8,458.4 L953.4,458.6 L956.0,458.7 L958.6,458.9 L961.2,459.0 L963.9,459.1 L966.5,459.2 L969.1,459.2 L971.7,459.2 L974.3,459.1 L977.0,458.9 L979.6,458.7 L982.2,458.5 L984.8,458.2 L987.5,457.9 L990.1,457.6 L992.7,457.2 L995.3,456.9 L998.0,456.6 L1000.6,456.2 L1003.2,455.8 L1005.8,455.6 L1008.5,455.3 L1011.1,455.1 L1013.7,454.7 L1016.3,454.4 L1018.9,454.3 L1021.6,454.8 L1024.2,453.7 L1026.8,454.4 L1029.4,453.9 L1032.1,453.0 L1034.7,454.1 L1037.3,452.5 L1039.9,453.9 L1042.6,452.8 L1045.2,453.8 L1047.8,453.3 L1050.4,452.4 L1053.1,452.7 L1055.7,453.3 L1058.3,451.4 L1060.8,451.3 L1063.3,451.2 L1065.8,451.9 L1068.3,450.4 L1070.8,450.1 L1073.3,450.4 L1075.8,450.0 L1078.3,449.3 L1080.9,449.2 L1083.4,447.8 L1085.9,447.4 L1088.4,447.2 L1090.9,447.0 L1093.4,448.3 L1095.9,448.6 L1098.4,446.8 L1100.9,447.4 L1103.4,446.8 L1105.9,447.8 L1108.4,448.5 L1110.9,448.7 L1113.4,449.5 L1115.9,449.2 L1118.5,448.5 L1121.0,449.5 L1123.5,450.0 L1126.0,450.0 L1128.5,449.7 L1131.0,451.1 L1133.5,451.0 L1136.0,451.6 L1138.5,450.9 L1141.1,450.3 L1143.7,450.7 L1146.4,450.5 L1149.0,451.0 L1151.6,450.3 L1154.2,450.1 L1156.8,450.9 L1159.4,450.1 L1162.1,449.9 L1164.7,449.9 L1167.3,451.0 L1169.9,451.1 L1172.5,451.0 L1175.1,450.5 L1177.8,450.6 L1180.4,450.8 L1183.0,450.2 L1185.5,450.4 L1188.1,450.9 L1190.7,450.9 L1193.2,451.2 L1195.8,451.6 L1198.3,451.7 L1200.8,451.4 L1203.4,452.0 L1206.0,453.1 L1208.5,453.0 L1211.0,454.2 L1213.6,453.6 L1216.2,454.4 L1218.7,453.5 L1221.4,454.1 L1224.0,455.4 L1226.7,454.2 L1229.4,455.3 L1232.1,454.3 L1234.7,455.6 L1237.4,455.4 L1240.1,456.4 L1242.7,456.3 L1245.4,456.2 L1247.9,455.2 L1250.5,455.3 L1253.0,453.6 L1255.6,453.5 L1258.1,452.6 L1260.7,452.2 L1263.2,451.6 L1266.0,451.6 L1268.8,452.3 L1271.6,452.8 L1274.3,452.9 L1277.1,453.9 L1279.9,453.3 L1282.7,452.6 L1285.5,453.7 L1288.1,452.6 L1290.7,452.8 L1293.3,449.8 L1295.9,449.0 L1298.5,448.4 L1301.1,448.5 L1304.4,451.7 L1307.8,455.5 L1310.9,455.2 L1314.0,452.6 L1316.5,447.5 L1319.0,437.8" stroke="#80FFFF" stroke-width="6.6" fill="none" stroke-linejoin="round" stroke-linecap="butt"/>
<path d="M129.0,2140.4V2157.0M237.5,2140.4V2148.7M345.9,2140.4V2157.0M454.4,2140.4V2148.7M562.9,2140.4V2157.0M671.4,2140.4V2148.7M779.8,2140.4V2157.0M888.3,2140.4V2148.7M996.8,2140.4V2157.0M1105.2,2140.4V2148.7M1213.7,2140.4V2157.0M1322.2,2140.4V2148.7" stroke="#000" stroke-width="5.5" fill="none"/>
<rect x="129" y="1245.7" width="1192.8" height="894.7" fill="none" stroke="#000" stroke-width="5.6"/>
<text x="77.04" y="2210.09" font-size="50.81" textLength="103.66" lengthAdjust="spacingAndGlyphs">2000</text>
<text x="293.01" y="2210.09" font-size="50.81" textLength="103.66" lengthAdjust="spacingAndGlyphs">1800</text>
<text x="509.95" y="2210.09" font-size="50.81" textLength="103.66" lengthAdjust="spacingAndGlyphs">1600</text>
<text x="726.89" y="2210.09" font-size="50.81" textLength="103.66" lengthAdjust="spacingAndGlyphs">1400</text>
<text x="943.83" y="2210.09" font-size="50.81" textLength="103.66" lengthAdjust="spacingAndGlyphs">1200</text>
<text x="1160.77" y="2210.09" font-size="50.81" textLength="103.66" lengthAdjust="spacingAndGlyphs">1000</text>
<g transform="translate(494.30,0) scale(1.0006,1)"><text x="-0.89" y="2275.00" font-size="59.50">Wavenumber (cm</text><rect x="455.38" y="2235.79" width="28.80" height="5.53" fill="#000"/><text x="478.93" y="2250.90" font-size="39.57">1</text><text x="496.53" y="2275.00" font-size="59.50">)</text></g>
<text transform="translate(83.90,1880.24) rotate(-90)" font-size="59.60">Intensity (a.u.)</text>
<text x="135.38" y="1318.81" font-size="77.26" textLength="50.14" lengthAdjust="spacingAndGlyphs">B</text>
<path d="M276.1,1264.7V1379.6" stroke="#000" stroke-width="5.7"/>
<text x="290.29" y="1331.72" font-size="38.53" textLength="84.90" lengthAdjust="spacingAndGlyphs">0.001</text>
<text x="147.92" y="1526.52" font-size="37.63" textLength="39.57" lengthAdjust="spacingAndGlyphs">60</text>
<text x="146.01" y="1615.32" font-size="38.07" textLength="39.78" lengthAdjust="spacingAndGlyphs">50</text>
<text x="145.92" y="1690.43" font-size="37.04" textLength="38.63" lengthAdjust="spacingAndGlyphs">40</text>
<text x="144.21" y="1764.42" font-size="37.93" textLength="39.68" lengthAdjust="spacingAndGlyphs">30</text>
<text x="144.00" y="1833.43" font-size="36.89" textLength="39.89" lengthAdjust="spacingAndGlyphs">20</text>
<text x="144.77" y="1895.24" font-size="36.15" textLength="41.59" lengthAdjust="spacingAndGlyphs">10</text>
<text x="158.67" y="1945.43" font-size="36.84" textLength="20.36" lengthAdjust="spacingAndGlyphs">5</text>
<text x="154.52" y="1990.50" font-size="38.04" textLength="19.76" lengthAdjust="spacingAndGlyphs">2</text>
<text x="153.78" y="2038.70" font-size="38.94" textLength="18.23" lengthAdjust="spacingAndGlyphs">1</text>
<text x="154.75" y="2084.72" font-size="37.93" textLength="19.29" lengthAdjust="spacingAndGlyphs">0</text>
<path d="M503,1334V1914" stroke="#000" stroke-width="5.5" stroke-dasharray="22.8 20.0"/>
<path d="M585.5,1318.8V1927.4" stroke="#000" stroke-width="5.5" stroke-dasharray="22.8 20.0"/>
<path d="M804.8,1441V1927.8" stroke="#000" stroke-width="5.5" stroke-dasharray="22.8 20.0"/>
<path d="M1249,1486.6V1928" stroke="#000" stroke-width="5.5" stroke-dasharray="22.8 20.0"/>
<path d="M1294,1432.7V1928" stroke="#000" stroke-width="5.5" stroke-dasharray="22.8 20.0"/>
<text x="465.23" y="1327.61" font-size="38.81" textLength="76.81" lengthAdjust="spacingAndGlyphs">1660</text>
<text x="554.61" y="1311.20" font-size="39.70" textLength="74.72" lengthAdjust="spacingAndGlyphs">1577</text>
<text x="764.00" y="1425.95" font-size="35.09" textLength="75.01" lengthAdjust="spacingAndGlyphs">1373</text>
<text x="1224.38" y="1475.43" font-size="37.47" textLength="55.57" lengthAdjust="spacingAndGlyphs">964</text>
<text x="1245.69" y="1421.83" font-size="36.58" textLength="54.85" lengthAdjust="spacingAndGlyphs">924</text>
<path d="M131.5,2097.4 L134.0,2097.4 L136.5,2097.7 L139.0,2097.4 L141.5,2097.4 L144.0,2097.5 L146.5,2097.2 L149.0,2097.5 L151.5,2097.5 L154.0,2097.7 L156.5,2097.2 L159.0,2097.3 L161.5,2097.2 L164.0,2097.7 L166.5,2097.6 L169.0,2097.2 L171.5,2097.8 L174.0,2097.8 L176.5,2097.6 L179.0,2097.6 L181.5,2097.3 L184.1,2097.2 L186.6,2097.6 L189.1,2097.2 L191.6,2097.3 L194.1,2097.4 L196.6,2097.2 L199.1,2097.5 L201.6,2097.5 L204.1,2097.8 L206.6,2097.6 L209.1,2097.7 L211.6,2097.6 L214.1,2097.7 L216.6,2097.6 L219.1,2097.5 L221.6,2098.0 L224.1,2098.0 L226.6,2097.9 L229.1,2097.8 L231.6,2097.5 L234.1,2097.5 L236.6,2097.5 L239.1,2097.4 L241.6,2097.8 L244.1,2097.6 L246.6,2097.9 L249.1,2097.6 L251.6,2098.0 L254.1,2097.9 L256.6,2097.3 L259.1,2097.5 L261.6,2098.0 L264.1,2097.7 L266.6,2098.0 L269.1,2097.6 L271.6,2097.4 L274.1,2097.8 L276.6,2097.9 L279.1,2097.6 L281.6,2097.5 L284.1,2097.6 L286.7,2098.1 L289.2,2097.9 L291.7,2097.5 L294.2,2097.6 L296.7,2097.5 L299.2,2097.5 L301.7,2098.0 L304.2,2097.6 L306.7,2097.8 L309.2,2097.8 L311.7,2097.6 L314.2,2098.0 L316.7,2097.5 L319.2,2097.9 L321.7,2097.5 L324.2,2097.8 L326.7,2097.6 L329.2,2097.7 L331.7,2098.2 L334.2,2098.0 L336.7,2097.7 L339.2,2098.1 L341.7,2097.6 L344.2,2097.8 L346.7,2098.1 L349.2,2098.0 L351.7,2097.6 L354.2,2098.2 L356.7,2097.7 L359.2,2097.7 L361.7,2098.1 L364.2,2097.8 L366.7,2097.7 L369.2,2097.6 L371.7,2097.6 L374.2,2098.0 L376.7,2097.7 L379.2,2098.0 L381.7,2097.8 L384.2,2097.9 L386.8,2098.2 L389.3,2097.9 L391.8,2098.0 L394.3,2098.2 L396.8,2097.7 L399.3,2097.7 L401.8,2098.2 L404.3,2098.2 L406.8,2097.8 L409.3,2097.7 L411.8,2098.1 L414.3,2098.3 L416.8,2097.8 L419.3,2098.3 L421.8,2098.2 L424.3,2098.0 L426.8,2097.9 L429.3,2097.7 L431.8,2097.7 L434.3,2098.3 L436.8,2097.8 L439.3,2098.1 L441.8,2097.8 L444.3,2098.2 L446.8,2098.1 L449.3,2097.9 L451.8,2097.8 L454.3,2098.2 L456.8,2097.7 L459.3,2097.8 L461.8,2098.1 L464.3,2098.3 L466.8,2098.1 L469.3,2097.9 L471.8,2098.3 L474.3,2097.8 L476.8,2097.7 L479.3,2097.9 L481.8,2098.0 L484.3,2097.7 L486.8,2097.8 L489.4,2098.0 L491.9,2098.1 L494.4,2097.8 L496.9,2098.0 L499.4,2098.3 L501.9,2098.4 L504.4,2098.2 L506.9,2098.2 L509.4,2098.1 L511.9,2097.8 L514.4,2097.8 L516.9,2097.7 L519.4,2098.4 L521.9,2098.2 L524.4,2098.4 L526.9,2097.8 L529.4,2098.2 L531.9,2098.1 L534.4,2098.3 L536.9,2098.0 L539.4,2098.5 L541.9,2097.8 L544.4,2098.1 L546.9,2098.3 L549.4,2098.4 L551.9,2098.3 L554.4,2098.3 L556.9,2098.3 L559.4,2098.4 L561.9,2098.0 L564.4,2098.3 L566.9,2098.4 L569.4,2098.4 L571.9,2098.1 L574.4,2098.3 L576.9,2098.4 L579.4,2098.2 L581.9,2098.2 L584.4,2098.1 L586.9,2098.2 L589.4,2098.2 L592.0,2097.9 L594.5,2098.3 L597.0,2098.5 L599.5,2098.4 L602.0,2098.3 L604.5,2098.1 L607.0,2098.3 L609.5,2098.2 L612.0,2098.1 L614.5,2098.4 L617.0,2097.9 L619.5,2098.3 L622.0,2097.8 L624.5,2098.2 L627.0,2098.2 L629.5,2098.0 L632.0,2098.3 L634.5,2098.2 L637.0,2098.3 L639.5,2098.5 L642.0,2098.0 L644.5,2097.8 L647.0,2098.1 L649.5,2098.3 L652.0,2098.0 L654.5,2098.0 L657.0,2098.5 L659.5,2098.3 L662.0,2098.2 L664.5,2098.5 L667.0,2098.1 L669.5,2098.3 L672.0,2098.0 L674.5,2098.2 L677.0,2098.4 L679.5,2098.5 L682.0,2098.5 L684.5,2098.1 L687.0,2098.3 L689.5,2098.1 L692.1,2098.0 L694.6,2098.2 L697.1,2098.5 L699.6,2098.5 L702.1,2098.4 L704.6,2098.5 L707.1,2098.1 L709.6,2098.0 L712.1,2098.2 L714.6,2098.1 L717.1,2098.0 L719.6,2098.2 L722.1,2098.3 L724.6,2098.2 L727.1,2098.1 L729.6,2098.5 L732.1,2098.6 L734.6,2098.2 L737.1,2097.9 L739.6,2097.9 L742.1,2098.5 L744.6,2097.9 L747.1,2098.4 L749.6,2098.3 L752.1,2098.1 L754.6,2098.5 L757.1,2097.9 L759.6,2098.0 L762.1,2098.2 L764.6,2097.9 L767.1,2098.5 L769.6,2098.1 L772.1,2098.0 L774.6,2097.9 L777.1,2098.3 L779.6,2098.2 L782.1,2098.3 L784.6,2098.4 L787.1,2098.5 L789.6,2098.6 L792.1,2098.4 L794.7,2098.1 L797.2,2098.2 L799.7,2098.0 L802.2,2097.9 L804.7,2098.2 L807.2,2098.4 L809.7,2098.0 L812.2,2098.1 L814.7,2098.2 L817.2,2098.4 L819.7,2098.3 L822.2,2098.4 L824.7,2098.5 L827.2,2098.2 L829.7,2098.5 L832.2,2098.6 L834.7,2098.0 L837.2,2098.6 L839.7,2098.4 L842.2,2098.0 L844.7,2098.2 L847.2,2098.4 L849.7,2098.6 L852.2,2098.2 L854.7,2098.3 L857.2,2098.5 L859.7,2098.5 L862.2,2098.6 L864.7,2098.3 L867.2,2098.4 L869.7,2098.1 L872.2,2098.4 L874.7,2098.5 L877.2,2098.4 L879.7,2098.4 L882.2,2098.1 L884.7,2098.6 L887.2,2098.6 L889.7,2098.6 L892.2,2098.3 L894.7,2098.5 L897.3,2098.2 L899.8,2098.6 L902.3,2098.5 L904.8,2098.2 L907.3,2098.0 L909.8,2098.2 L912.3,2098.3 L914.8,2098.5 L917.3,2098.3 L919.8,2098.0 L922.3,2098.5 L924.8,2098.0 L927.3,2098.5 L929.8,2098.1 L932.3,2098.2 L934.8,2098.5 L937.3,2098.0 L939.8,2098.0 L942.3,2098.3 L944.8,2098.4 L947.3,2098.5 L949.8,2098.4 L952.3,2098.6 L954.8,2098.3 L957.3,2098.6 L959.8,2098.0 L962.3,2098.1 L964.8,2098.3 L967.3,2098.1 L969.8,2098.5 L972.3,2098.4 L974.8,2098.3 L977.3,2098.5 L979.8,2098.3 L982.3,2098.2 L984.8,2098.2 L987.3,2098.5 L989.8,2098.6 L992.3,2098.1 L994.8,2098.5 L997.4,2098.6 L999.9,2098.3 L1002.4,2098.3 L1004.9,2098.1 L1007.4,2098.3 L1009.9,2098.3 L1012.4,2098.4 L1014.9,2098.0 L1017.4,2098.6 L1019.9,2098.3 L1022.4,2098.2 L1024.9,2098.5 L1027.4,2098.3 L1029.9,2098.3 L1032.4,2098.4 L1034.9,2098.0 L1037.4,2098.3 L1039.9,2098.2 L1042.4,2098.6 L1044.9,2098.6 L1047.4,2098.1 L1049.9,2098.3 L1052.4,2098.0 L1054.9,2098.3 L1057.4,2098.5 L1059.9,2098.6 L1062.4,2098.3 L1064.9,2098.2 L1067.4,2098.1 L1069.9,2098.4 L1072.4,2098.6 L1074.9,2098.0 L1077.4,2098.5 L1079.9,2098.0 L1082.4,2098.1 L1084.9,2098.1 L1087.4,2098.4 L1089.9,2098.2 L1092.4,2098.2 L1094.9,2098.4 L1097.4,2098.0 L1100.0,2098.5 L1102.5,2098.0 L1105.0,2098.3 L1107.5,2098.1 L1110.0,2098.1 L1112.5,2098.3 L1115.0,2098.3 L1117.5,2098.2 L1120.0,2098.2 L1122.5,2098.3 L1125.0,2098.1 L1127.5,2098.1 L1130.0,2098.4 L1132.5,2098.4 L1135.0,2098.3 L1137.5,2098.5 L1140.0,2098.4 L1142.5,2098.5 L1145.0,2098.1 L1147.5,2098.5 L1150.0,2098.5 L1152.6,2098.6 L1155.1,2098.2 L1157.7,2098.2 L1160.2,2098.6 L1162.8,2098.1 L1165.4,2098.6 L1167.9,2098.6 L1170.5,2098.0 L1173.0,2098.1 L1175.6,2098.4 L1178.1,2098.1 L1180.7,2098.0 L1183.3,2098.5 L1185.8,2098.2 L1188.4,2098.4 L1190.9,2098.0 L1193.5,2098.1 L1196.1,2098.3 L1198.6,2097.8 L1201.2,2098.0 L1203.7,2098.3 L1206.3,2098.4 L1208.9,2098.4 L1211.4,2097.8 L1214.0,2098.0 L1216.5,2098.2 L1219.1,2098.0 L1221.7,2098.1 L1224.2,2097.7 L1226.8,2097.6 L1229.3,2097.6 L1231.9,2097.5 L1234.4,2097.8 L1237.0,2097.7 L1239.6,2097.7 L1242.1,2097.3 L1244.7,2097.3 L1247.2,2097.3 L1249.8,2097.4 L1253.4,2092.4 L1256.4,2096.1 L1259.3,2102.3 L1262.3,2106.0 L1265.0,2105.2 L1267.7,2101.8 L1270.3,2099.0 L1273.0,2097.3 L1276.0,2098.8 L1278.9,2101.4 L1281.9,2102.8 L1285.4,2081.5 L1289.0,2095.3 L1292.6,2109.9 L1296.1,2094.1 L1298.8,2096.3 L1301.5,2099.2 L1304.6,2080.7 L1307.7,2061.8 L1311.3,2095.7 L1314.0,2100.0" stroke="#000000" stroke-width="6.6" fill="none" stroke-linejoin="round" stroke-linecap="butt"/>
<path d="M131.5,2044.8 L134.0,2044.9 L136.5,2044.9 L139.0,2044.5 L141.5,2044.5 L144.0,2044.7 L146.5,2044.6 L149.0,2045.0 L151.5,2044.9 L154.0,2044.9 L156.5,2044.8 L159.0,2044.9 L161.5,2044.6 L164.0,2044.8 L166.5,2044.6 L169.0,2045.1 L171.5,2044.5 L174.0,2045.0 L176.5,2044.5 L179.0,2044.9 L181.5,2044.7 L184.1,2044.7 L186.6,2045.0 L189.1,2044.5 L191.6,2044.5 L194.1,2045.1 L196.6,2044.8 L199.1,2044.5 L201.6,2045.1 L204.1,2045.1 L206.6,2044.5 L209.1,2044.7 L211.6,2044.5 L214.1,2044.7 L216.6,2044.9 L219.1,2044.6 L221.6,2044.9 L224.1,2044.5 L226.6,2044.6 L229.1,2045.0 L231.6,2044.7 L234.1,2044.7 L236.6,2044.9 L239.1,2044.8 L241.6,2044.7 L244.1,2044.5 L246.6,2045.0 L249.1,2045.1 L251.6,2045.1 L254.1,2044.9 L256.6,2044.7 L259.1,2044.7 L261.6,2044.9 L264.1,2044.9 L266.6,2044.5 L269.1,2044.6 L271.6,2044.7 L274.1,2044.8 L276.6,2045.0 L279.1,2044.8 L281.6,2044.5 L284.1,2045.0 L286.7,2044.8 L289.2,2044.8 L291.7,2044.6 L294.2,2044.8 L296.7,2044.7 L299.2,2045.0 L301.7,2044.5 L304.2,2044.8 L306.7,2044.6 L309.2,2044.9 L311.7,2044.5 L314.2,2044.6 L316.7,2044.7 L319.2,2044.9 L321.7,2044.5 L324.2,2044.8 L326.7,2044.6 L329.2,2044.6 L331.7,2044.8 L334.2,2045.1 L336.7,2044.8 L339.2,2045.1 L341.7,2044.6 L344.2,2045.1 L346.7,2044.7 L349.2,2044.6 L351.7,2045.0 L354.2,2045.1 L356.7,2044.5 L359.2,2044.6 L361.7,2045.0 L364.2,2044.7 L366.7,2044.6 L369.2,2044.5 L371.7,2044.5 L374.2,2044.9 L376.7,2045.1 L379.2,2045.2 L381.7,2044.8 L384.2,2044.5 L386.8,2044.7 L389.3,2045.0 L391.8,2045.0 L394.3,2044.9 L396.8,2044.6 L399.3,2044.8 L401.8,2044.8 L404.3,2044.9 L406.8,2044.6 L409.3,2045.1 L411.8,2045.1 L414.3,2044.6 L416.8,2044.7 L419.3,2045.1 L421.8,2044.7 L424.3,2045.1 L426.8,2044.8 L429.3,2044.9 L431.8,2044.9 L434.3,2044.6 L436.8,2044.7 L439.3,2044.6 L441.8,2044.9 L444.3,2044.9 L446.8,2044.5 L449.3,2045.1 L451.8,2044.8 L454.3,2044.6 L456.8,2044.8 L459.3,2045.1 L461.8,2044.8 L464.3,2044.9 L466.8,2045.1 L469.3,2045.1 L471.8,2045.0 L474.3,2044.8 L476.8,2044.9 L479.3,2045.1 L481.8,2045.0 L484.3,2044.9 L486.8,2044.7 L489.4,2044.7 L491.9,2045.0 L494.4,2044.9 L496.9,2044.5 L499.4,2045.0 L501.9,2045.1 L504.4,2045.0 L506.9,2045.1 L509.4,2045.1 L511.9,2044.8 L514.4,2045.0 L516.9,2044.7 L519.4,2044.5 L521.9,2044.7 L524.4,2044.7 L526.9,2045.1 L529.4,2044.9 L531.9,2044.8 L534.4,2044.9 L536.9,2044.5 L539.4,2044.8 L541.9,2045.0 L544.4,2044.7 L546.9,2044.6 L549.4,2044.7 L551.9,2044.7 L554.4,2044.9 L556.9,2044.6 L559.4,2044.5 L561.9,2044.7 L564.4,2045.0 L566.9,2045.0 L569.4,2044.9 L571.9,2045.1 L574.4,2044.7 L576.9,2044.5 L579.4,2044.8 L581.9,2044.8 L584.4,2044.6 L586.9,2044.9 L589.4,2044.7 L592.0,2044.6 L594.5,2044.7 L597.0,2045.1 L599.5,2044.5 L602.0,2044.7 L604.5,2044.7 L607.0,2044.6 L609.5,2044.8 L612.0,2044.6 L614.5,2045.1 L617.0,2044.8 L619.5,2045.0 L622.0,2044.6 L624.5,2044.8 L627.0,2044.9 L629.5,2045.1 L632.0,2044.6 L634.5,2044.8 L637.0,2045.1 L639.5,2045.1 L642.0,2044.6 L644.5,2044.8 L647.0,2045.0 L649.5,2044.7 L652.0,2044.9 L654.5,2044.9 L657.0,2045.2 L659.5,2044.9 L662.0,2044.9 L664.5,2044.7 L667.0,2045.0 L669.5,2044.7 L672.0,2044.8 L674.5,2044.7 L677.0,2044.7 L679.5,2044.6 L682.0,2044.6 L684.5,2044.9 L687.0,2044.6 L689.5,2044.5 L692.1,2045.0 L694.6,2044.7 L697.1,2045.1 L699.6,2044.9 L702.1,2044.7 L704.6,2045.1 L707.1,2045.1 L709.6,2044.7 L712.1,2044.6 L714.6,2044.9 L717.1,2045.1 L719.6,2044.9 L722.1,2045.0 L724.6,2044.8 L727.1,2044.9 L729.6,2044.7 L732.1,2044.8 L734.6,2044.7 L737.1,2044.7 L739.6,2044.8 L742.1,2045.0 L744.6,2044.6 L747.1,2044.6 L749.6,2044.7 L752.1,2045.2 L754.6,2044.8 L757.1,2044.5 L759.6,2045.1 L762.1,2045.1 L764.6,2045.1 L767.1,2044.7 L769.6,2045.0 L772.1,2044.7 L774.6,2044.6 L777.1,2045.1 L779.6,2045.1 L782.1,2044.6 L784.6,2045.1 L787.1,2044.5 L789.6,2044.7 L792.1,2044.5 L794.7,2044.6 L797.2,2044.6 L799.7,2045.0 L802.2,2044.7 L804.7,2044.6 L807.2,2044.6 L809.7,2044.7 L812.2,2045.1 L814.7,2044.9 L817.2,2044.6 L819.7,2045.0 L822.2,2044.9 L824.7,2044.8 L827.2,2044.9 L829.7,2044.9 L832.2,2045.1 L834.7,2044.8 L837.2,2044.9 L839.7,2044.8 L842.2,2044.9 L844.7,2044.8 L847.2,2044.8 L849.7,2044.9 L852.2,2045.0 L854.7,2044.7 L857.2,2045.1 L859.7,2044.8 L862.2,2045.1 L864.7,2045.0 L867.2,2045.2 L869.7,2045.0 L872.2,2044.8 L874.7,2044.8 L877.2,2044.9 L879.7,2045.0 L882.2,2045.1 L884.7,2044.6 L887.2,2044.5 L889.7,2044.6 L892.2,2044.6 L894.7,2044.5 L897.3,2044.5 L899.8,2044.7 L902.3,2044.6 L904.8,2045.0 L907.3,2044.9 L909.8,2045.2 L912.3,2045.2 L914.8,2045.0 L917.3,2045.2 L919.8,2044.5 L922.3,2044.7 L924.8,2045.2 L927.3,2044.8 L929.8,2044.6 L932.3,2045.0 L934.8,2044.8 L937.3,2044.9 L939.8,2044.7 L942.3,2044.7 L944.8,2044.6 L947.3,2044.9 L949.8,2045.2 L952.3,2045.2 L954.8,2045.0 L957.3,2045.2 L959.8,2044.8 L962.3,2044.7 L964.8,2045.2 L967.3,2044.9 L969.8,2045.0 L972.3,2044.5 L974.8,2044.7 L977.3,2044.9 L979.8,2045.0 L982.3,2045.1 L984.8,2045.0 L987.3,2044.8 L989.8,2044.8 L992.3,2045.1 L994.8,2045.2 L997.4,2044.9 L999.9,2044.7 L1002.4,2045.0 L1004.9,2044.9 L1007.4,2044.8 L1009.9,2044.7 L1012.4,2044.8 L1014.9,2044.9 L1017.4,2044.6 L1019.9,2044.9 L1022.4,2045.2 L1024.9,2045.0 L1027.4,2044.7 L1029.9,2044.8 L1032.4,2044.6 L1034.9,2045.0 L1037.4,2045.0 L1039.9,2044.6 L1042.4,2044.9 L1044.9,2044.9 L1047.4,2044.9 L1049.9,2044.8 L1052.4,2044.7 L1054.9,2044.8 L1057.4,2045.2 L1059.9,2044.8 L1062.4,2044.9 L1064.9,2044.9 L1067.4,2044.7 L1069.9,2044.8 L1072.4,2044.7 L1074.9,2044.8 L1077.4,2044.8 L1079.9,2044.8 L1082.4,2045.2 L1084.9,2044.7 L1087.4,2044.8 L1089.9,2045.0 L1092.4,2044.8 L1094.9,2044.9 L1097.4,2045.0 L1100.0,2044.6 L1102.5,2045.0 L1105.0,2044.6 L1107.5,2044.7 L1110.0,2045.1 L1112.5,2045.2 L1115.0,2045.0 L1117.5,2044.7 L1120.0,2044.8 L1122.5,2044.7 L1125.0,2045.1 L1127.5,2044.7 L1130.0,2044.7 L1132.5,2045.0 L1135.0,2045.0 L1137.5,2045.0 L1140.0,2044.9 L1142.5,2045.2 L1145.0,2044.9 L1147.5,2045.2 L1150.0,2044.8 L1152.5,2044.9 L1155.0,2044.8 L1157.5,2045.1 L1160.1,2045.1 L1162.6,2044.7 L1165.1,2044.9 L1167.6,2045.1 L1170.1,2044.9 L1172.6,2045.0 L1175.2,2045.0 L1177.7,2045.1 L1180.2,2044.8 L1182.7,2044.8 L1185.2,2044.6 L1187.7,2045.2 L1190.3,2045.2 L1192.8,2044.9 L1195.3,2045.3 L1197.8,2045.3 L1200.3,2044.7 L1202.8,2045.2 L1205.4,2044.9 L1207.9,2044.9 L1210.4,2044.8 L1212.9,2044.9 L1215.4,2044.7 L1217.9,2044.7 L1220.5,2044.7 L1223.0,2044.9 L1225.5,2044.8 L1228.0,2044.7 L1230.5,2043.0 L1233.0,2040.0 L1237.3,2038.6 L1239.8,2039.1 L1242.4,2040.3 L1244.9,2041.1 L1247.5,2042.6 L1250.0,2044.3 L1253.1,2045.9 L1256.2,2047.6 L1259.2,2048.7 L1262.3,2049.2 L1265.0,2047.1 L1267.7,2043.3 L1270.3,2038.9 L1273.0,2036.8 L1276.1,2037.5 L1279.2,2038.6 L1282.3,2041.1 L1285.4,2044.3 L1289.0,2055.3 L1292.6,2065.4 L1296.2,2064.1 L1299.7,2062.0 L1303.2,2040.7 L1306.8,2020.9 L1309.5,2021.2 L1312.2,2022.6 L1315.0,2080.0 L1317.0,2140.0" stroke="#FF0000" stroke-width="6.6" fill="none" stroke-linejoin="round" stroke-linecap="butt"/>
<path d="M131.5,2001.4 L134.0,2001.6 L136.5,2001.6 L139.0,2001.7 L141.5,2001.3 L144.0,2001.4 L146.5,2001.3 L149.0,2001.4 L151.5,2001.7 L154.0,2001.3 L156.5,2001.5 L159.0,2001.4 L161.5,2001.4 L164.0,2001.5 L166.5,2001.7 L169.0,2001.6 L171.5,2001.3 L174.0,2001.4 L176.5,2001.3 L179.0,2001.8 L181.5,2001.7 L184.1,2001.7 L186.6,2001.8 L189.1,2001.7 L191.6,2001.8 L194.1,2001.7 L196.6,2001.4 L199.1,2001.8 L201.6,2001.6 L204.1,2001.7 L206.6,2001.6 L209.1,2001.5 L211.6,2001.5 L214.1,2001.5 L216.6,2001.5 L219.1,2001.4 L221.6,2001.8 L224.1,2001.8 L226.6,2001.9 L229.1,2001.7 L231.6,2001.6 L234.1,2001.8 L236.6,2001.4 L239.1,2001.7 L241.6,2001.6 L244.1,2001.4 L246.6,2001.4 L249.1,2001.6 L251.6,2001.5 L254.1,2001.6 L256.6,2001.7 L259.1,2001.6 L261.6,2001.4 L264.1,2001.6 L266.6,2001.5 L269.1,2001.5 L271.6,2001.5 L274.1,2001.6 L276.6,2001.4 L279.1,2001.7 L281.6,2001.9 L284.1,2001.6 L286.7,2001.8 L289.2,2001.9 L291.7,2001.4 L294.2,2001.5 L296.7,2001.9 L299.2,2001.9 L301.7,2001.8 L304.2,2001.5 L306.7,2001.6 L309.2,2001.9 L311.7,2001.9 L314.2,2001.9 L316.7,2001.5 L319.2,2001.9 L321.7,2001.6 L324.2,2001.8 L326.7,2001.5 L329.2,2002.0 L331.7,2001.8 L334.2,2001.8 L336.7,2001.5 L339.2,2001.8 L341.7,2001.8 L344.2,2001.8 L346.7,2001.6 L349.2,2001.9 L351.7,2001.6 L354.2,2001.6 L356.7,2001.5 L359.2,2001.8 L361.7,2001.5 L364.2,2001.6 L366.7,2001.5 L369.2,2001.8 L371.7,2001.8 L374.2,2001.8 L376.7,2001.5 L379.2,2001.7 L381.7,2001.7 L384.2,2001.5 L386.8,2001.5 L389.3,2002.1 L391.8,2001.5 L394.3,2001.6 L396.8,2001.6 L399.3,2001.8 L401.8,2001.5 L404.3,2001.8 L406.8,2001.7 L409.3,2002.0 L411.8,2001.5 L414.3,2001.7 L416.8,2001.8 L419.3,2002.1 L421.8,2001.8 L424.3,2001.8 L426.8,2001.9 L429.3,2001.7 L431.8,2001.5 L434.3,2001.8 L436.8,2002.0 L439.3,2001.9 L441.8,2001.7 L444.3,2001.9 L446.8,2002.0 L449.3,2001.7 L451.8,2001.9 L454.3,2001.7 L456.8,2001.7 L459.3,2001.7 L461.8,2001.6 L464.3,2001.7 L466.8,2001.5 L469.3,2001.8 L471.8,2001.6 L474.3,2002.0 L476.8,2001.9 L479.3,2001.5 L481.8,2002.0 L484.3,2001.7 L486.8,2001.8 L489.4,2001.9 L491.9,2001.7 L494.4,2001.7 L496.9,2001.8 L499.4,2001.6 L501.9,2002.1 L504.4,2001.6 L506.9,2002.0 L509.4,2001.7 L511.9,2001.7 L514.4,2001.8 L516.9,2001.6 L519.4,2001.6 L521.9,2001.8 L524.4,2001.8 L526.9,2002.1 L529.4,2002.2 L531.9,2001.6 L534.4,2001.9 L536.9,2001.7 L539.4,2002.1 L541.9,2001.8 L544.4,2002.1 L546.9,2001.9 L549.4,2001.7 L551.9,2001.6 L554.4,2001.7 L556.9,2002.1 L559.4,2001.7 L561.9,2001.9 L564.4,2001.8 L566.9,2001.8 L569.4,2002.1 L571.9,2001.7 L574.4,2002.0 L576.9,2002.0 L579.4,2002.2 L581.9,2001.9 L584.4,2002.2 L586.9,2001.9 L589.4,2002.0 L592.0,2002.0 L594.5,2002.1 L597.0,2002.2 L599.5,2001.7 L602.0,2001.7 L604.5,2001.9 L607.0,2002.1 L609.5,2001.9 L612.0,2001.8 L614.5,2002.2 L617.0,2001.8 L619.5,2001.7 L622.0,2001.7 L624.5,2001.7 L627.0,2002.1 L629.5,2001.7 L632.0,2002.1 L634.5,2002.2 L637.0,2002.2 L639.5,2002.1 L642.0,2001.9 L644.5,2002.0 L647.0,2002.1 L649.5,2002.1 L652.0,2001.8 L654.5,2002.1 L657.0,2001.7 L659.5,2001.8 L662.0,2002.3 L664.5,2001.9 L667.0,2001.8 L669.5,2002.1 L672.0,2001.9 L674.5,2001.7 L677.0,2001.7 L679.5,2001.8 L682.0,2001.9 L684.5,2002.2 L687.0,2001.8 L689.5,2002.2 L692.1,2002.2 L694.6,2001.9 L697.1,2002.3 L699.6,2002.1 L702.1,2002.0 L704.6,2001.8 L707.1,2002.0 L709.6,2002.2 L712.1,2002.0 L714.6,2001.8 L717.1,2001.9 L719.6,2002.0 L722.1,2001.8 L724.6,2002.0 L727.1,2001.7 L729.6,2002.2 L732.1,2001.8 L734.6,2001.8 L737.1,2002.0 L739.6,2001.9 L742.1,2002.2 L744.6,2002.0 L747.1,2002.0 L749.6,2002.2 L752.1,2001.8 L754.6,2002.2 L757.1,2002.1 L759.6,2002.0 L762.1,2002.3 L764.6,2001.7 L767.1,2002.2 L769.6,2001.8 L772.1,2002.2 L774.6,2001.8 L777.1,2001.7 L779.6,2002.0 L782.1,2002.3 L784.6,2001.9 L787.1,2002.0 L789.6,2002.1 L792.1,2001.9 L794.7,2002.0 L797.2,2001.7 L799.7,2002.0 L802.2,2002.2 L804.7,2001.9 L807.2,2001.9 L809.7,2001.8 L812.2,2002.2 L814.7,2002.0 L817.2,2002.3 L819.7,2002.2 L822.2,2001.8 L824.7,2002.3 L827.2,2002.3 L829.7,2002.2 L832.2,2002.2 L834.7,2002.1 L837.2,2002.2 L839.7,2002.1 L842.2,2002.1 L844.7,2001.9 L847.2,2001.8 L849.7,2002.2 L852.2,2002.1 L854.7,2001.8 L857.2,2002.1 L859.7,2002.1 L862.2,2002.1 L864.7,2002.2 L867.2,2002.3 L869.7,2002.0 L872.2,2002.2 L874.7,2002.1 L877.2,2002.1 L879.7,2002.0 L882.2,2002.3 L884.7,2002.0 L887.2,2002.3 L889.7,2002.0 L892.2,2002.2 L894.7,2002.3 L897.3,2002.2 L899.8,2002.0 L902.3,2001.8 L904.8,2002.1 L907.3,2002.0 L909.8,2002.3 L912.3,2002.2 L914.8,2002.4 L917.3,2002.0 L919.8,2002.0 L922.3,2002.1 L924.8,2002.2 L927.3,2001.8 L929.8,2001.9 L932.3,2001.9 L934.8,2002.0 L937.3,2002.0 L939.8,2002.4 L942.3,2001.9 L944.8,2002.3 L947.3,2002.0 L949.8,2001.9 L952.3,2002.4 L954.8,2001.8 L957.3,2001.8 L959.8,2001.9 L962.3,2001.8 L964.8,2002.0 L967.3,2001.9 L969.8,2001.9 L972.3,2001.8 L974.8,2002.2 L977.3,2001.8 L979.8,2001.9 L982.3,2002.1 L984.8,2002.3 L987.3,2002.2 L989.8,2002.2 L992.3,2002.2 L994.8,2002.3 L997.4,2002.3 L999.9,2001.9 L1002.4,2001.8 L1004.9,2002.2 L1007.4,2002.1 L1009.9,2002.1 L1012.4,2002.3 L1014.9,2001.9 L1017.4,2002.2 L1019.9,2002.0 L1022.4,2002.0 L1024.9,2001.9 L1027.4,2002.0 L1029.9,2002.1 L1032.4,2002.1 L1034.9,2002.3 L1037.4,2002.0 L1039.9,2002.2 L1042.4,2001.9 L1044.9,2002.2 L1047.4,2001.9 L1049.9,2002.3 L1052.4,2002.4 L1054.9,2001.9 L1057.4,2002.3 L1059.9,2001.9 L1062.4,2002.0 L1064.9,2001.9 L1067.4,2002.1 L1069.9,2001.9 L1072.4,2002.2 L1074.9,2002.1 L1077.4,2002.0 L1079.9,2002.2 L1082.4,2001.9 L1084.9,2002.0 L1087.4,2002.0 L1089.9,2001.8 L1092.4,2002.3 L1094.9,2001.9 L1097.4,2001.9 L1100.0,2002.3 L1102.5,2002.3 L1105.0,2002.1 L1107.5,2002.1 L1110.0,2001.9 L1112.5,2001.8 L1115.0,2002.1 L1117.5,2001.9 L1120.0,2001.9 L1122.5,2002.3 L1125.0,2001.8 L1127.5,2002.0 L1130.0,2002.3 L1132.5,2002.2 L1135.0,2001.9 L1137.5,2002.2 L1140.0,2002.1 L1142.5,2002.2 L1145.0,2002.4 L1147.5,2002.3 L1150.0,2002.2 L1152.5,2002.3 L1155.1,2002.1 L1157.6,2002.1 L1160.2,2002.3 L1162.7,2002.2 L1165.3,2002.0 L1167.8,2001.8 L1170.4,2002.3 L1172.9,2002.0 L1175.5,2002.1 L1178.0,2002.0 L1180.5,2002.1 L1183.1,2002.0 L1185.6,2002.3 L1188.2,2002.2 L1190.7,2002.1 L1193.3,2002.3 L1195.8,2002.1 L1198.4,2002.1 L1200.9,2002.3 L1203.5,2002.2 L1206.0,2002.2 L1208.6,2002.3 L1211.1,2002.1 L1213.6,2002.1 L1216.2,2001.9 L1218.7,2001.9 L1221.3,2002.1 L1223.8,2002.1 L1226.4,2002.3 L1228.9,2001.8 L1231.5,2002.0 L1234.0,2002.2 L1236.6,2002.1 L1239.1,2002.3 L1241.6,2001.8 L1244.2,2002.1 L1246.7,2001.7 L1249.3,2001.6 L1251.8,2001.1 L1254.4,2001.2 L1256.9,2001.4 L1259.6,2012.9 L1262.3,2024.4 L1265.3,2018.3 L1268.2,2006.9 L1271.2,2001.3 L1273.9,2002.6 L1276.6,2005.8 L1279.2,2008.8 L1281.9,2010.1 L1285.4,1988.9 L1289.0,1998.3 L1292.6,2008.6 L1295.2,2000.2 L1297.9,1990.8 L1300.9,1986.1 L1303.8,1982.8 L1306.8,1981.6 L1310.4,2010.1 L1314.0,2000.0 L1317.0,2030.0" stroke="#0000FF" stroke-width="6.6" fill="none" stroke-linejoin="round" stroke-linecap="butt"/>
<path d="M131.5,1949.6 L134.0,1950.0 L136.5,1950.0 L139.0,1950.2 L141.5,1949.7 L144.0,1949.7 L146.5,1950.1 L149.0,1950.0 L151.6,1949.8 L154.1,1950.0 L156.6,1949.8 L159.1,1950.1 L161.6,1949.6 L164.1,1949.7 L166.6,1950.2 L169.1,1949.8 L171.6,1949.7 L174.1,1950.1 L176.6,1950.0 L179.1,1949.7 L181.6,1949.9 L184.1,1950.0 L186.6,1949.7 L189.2,1950.0 L191.7,1949.6 L194.2,1949.8 L196.7,1949.6 L199.2,1949.7 L201.7,1950.2 L204.2,1949.8 L206.7,1950.2 L209.2,1949.8 L211.7,1950.0 L214.2,1950.1 L216.7,1950.0 L219.2,1949.6 L221.7,1949.9 L224.3,1950.0 L226.8,1949.7 L229.3,1949.6 L231.8,1950.1 L234.3,1949.9 L236.8,1949.7 L239.3,1949.8 L241.8,1949.7 L244.3,1950.1 L246.8,1949.9 L249.3,1949.6 L251.8,1950.1 L254.3,1949.6 L256.8,1949.7 L259.3,1949.5 L261.9,1950.0 L264.4,1949.6 L266.9,1949.9 L269.4,1949.6 L271.9,1949.8 L274.4,1950.0 L276.9,1949.9 L279.4,1949.8 L281.9,1949.8 L284.4,1949.8 L286.9,1949.9 L289.4,1949.6 L291.9,1949.8 L294.4,1949.7 L296.9,1950.1 L299.5,1950.1 L302.0,1949.5 L304.5,1949.6 L307.0,1950.0 L309.5,1949.9 L312.0,1949.5 L314.5,1950.0 L317.0,1950.1 L319.5,1949.8 L322.0,1949.7 L324.5,1949.9 L327.0,1950.1 L329.5,1949.6 L332.0,1949.7 L334.6,1949.6 L337.1,1949.9 L339.6,1949.8 L342.1,1949.6 L344.6,1949.7 L347.1,1949.5 L349.6,1949.7 L352.1,1950.1 L354.6,1949.8 L357.1,1949.6 L359.6,1950.1 L362.1,1949.7 L364.6,1949.6 L367.1,1949.4 L369.6,1949.5 L372.2,1949.5 L374.7,1949.6 L377.2,1950.0 L379.7,1949.6 L382.2,1949.6 L384.7,1949.8 L387.2,1950.0 L389.7,1949.6 L392.2,1949.9 L394.7,1949.6 L397.2,1949.8 L399.7,1949.8 L402.2,1950.0 L404.7,1949.9 L407.2,1949.7 L409.8,1949.9 L412.3,1949.6 L414.8,1949.6 L417.3,1950.0 L419.8,1949.7 L422.3,1949.9 L424.8,1949.5 L427.3,1950.0 L429.8,1949.7 L432.3,1949.5 L434.8,1950.0 L437.3,1949.6 L439.8,1949.5 L442.3,1949.5 L444.9,1949.4 L447.4,1949.4 L449.9,1949.8 L452.4,1949.4 L454.9,1949.4 L457.4,1949.6 L459.9,1949.6 L462.4,1949.5 L464.9,1949.8 L467.4,1949.4 L469.9,1949.5 L472.4,1949.5 L474.9,1949.3 L477.4,1949.4 L479.9,1949.3 L482.5,1949.7 L485.0,1949.3 L487.5,1949.6 L490.0,1949.3 L492.5,1949.6 L495.0,1949.6 L497.5,1949.4 L500.0,1949.8 L502.5,1949.6 L505.0,1949.5 L507.5,1949.1 L510.0,1949.3 L512.5,1949.1 L515.0,1949.2 L517.5,1949.4 L520.0,1949.2 L522.5,1948.6 L525.0,1948.9 L527.5,1948.9 L530.0,1948.5 L532.5,1948.0 L535.0,1948.4 L537.5,1948.0 L540.0,1948.2 L542.5,1948.0 L545.0,1947.8 L547.5,1947.7 L550.0,1947.0 L552.5,1947.3 L555.0,1946.8 L557.5,1946.6 L560.0,1946.6 L562.5,1946.7 L565.0,1946.1 L567.5,1946.3 L570.0,1946.5 L572.5,1946.2 L575.0,1946.2 L577.5,1945.9 L580.0,1946.4 L582.5,1945.8 L585.0,1946.1 L587.5,1946.2 L590.0,1946.0 L592.5,1947.1 L595.0,1947.0 L597.5,1948.1 L600.0,1948.6 L602.5,1949.0 L605.0,1949.4 L607.5,1949.3 L610.0,1949.5 L612.5,1949.4 L615.0,1949.8 L617.5,1949.2 L620.0,1949.2 L622.5,1949.8 L625.0,1949.7 L627.5,1949.6 L630.0,1949.8 L632.5,1949.5 L635.0,1949.7 L637.5,1949.5 L640.0,1949.8 L642.5,1949.2 L645.0,1949.4 L647.5,1949.5 L650.0,1949.7 L652.5,1949.4 L655.0,1949.6 L657.5,1949.8 L660.0,1949.4 L662.5,1949.3 L665.0,1949.1 L667.5,1949.7 L670.0,1949.4 L672.5,1949.4 L675.0,1949.5 L677.5,1949.2 L680.0,1949.2 L682.5,1949.3 L685.0,1949.3 L687.5,1949.7 L690.0,1949.2 L692.5,1949.1 L695.0,1949.7 L697.5,1949.4 L700.0,1949.1 L702.5,1949.5 L705.0,1949.5 L707.5,1949.5 L710.0,1949.6 L712.5,1949.3 L715.0,1949.2 L717.5,1949.5 L720.0,1949.4 L722.5,1949.5 L725.0,1949.1 L727.5,1949.2 L730.0,1949.4 L732.5,1949.2 L735.0,1949.3 L737.5,1949.2 L740.0,1949.4 L742.5,1949.1 L745.0,1949.2 L747.5,1949.4 L750.0,1949.1 L752.5,1949.0 L755.0,1949.3 L757.5,1948.9 L760.0,1949.4 L762.5,1949.0 L765.0,1949.4 L767.5,1949.1 L770.0,1948.8 L772.5,1949.1 L775.0,1949.2 L777.5,1949.0 L780.0,1949.1 L782.7,1948.8 L785.5,1949.0 L788.2,1948.0 L791.0,1948.1 L793.7,1947.1 L796.5,1947.0 L799.2,1946.3 L802.0,1946.1 L804.7,1946.4 L807.2,1946.7 L809.8,1946.4 L812.3,1946.8 L814.8,1947.2 L817.4,1947.7 L819.9,1947.9 L822.4,1948.2 L824.9,1948.9 L827.5,1948.9 L830.0,1948.9 L832.5,1949.3 L835.0,1949.4 L837.5,1949.1 L840.0,1948.8 L842.5,1949.1 L845.0,1949.5 L847.5,1949.1 L850.0,1949.1 L852.5,1949.6 L855.0,1949.2 L857.5,1949.7 L860.0,1949.3 L862.5,1949.5 L865.0,1949.6 L867.5,1949.3 L870.0,1949.8 L872.5,1949.6 L875.0,1949.9 L877.5,1949.9 L880.0,1949.5 L882.5,1950.0 L885.0,1950.1 L887.5,1949.7 L890.0,1950.0 L892.5,1949.7 L895.0,1950.0 L897.5,1950.2 L900.0,1950.0 L902.5,1950.1 L905.0,1949.8 L907.5,1950.4 L910.0,1950.3 L912.5,1950.4 L915.0,1949.9 L917.5,1950.4 L920.0,1950.0 L922.5,1950.3 L925.0,1950.1 L927.5,1950.6 L930.0,1950.1 L932.5,1950.4 L935.0,1950.4 L937.5,1950.4 L940.0,1950.2 L942.5,1950.6 L945.0,1950.9 L947.5,1950.4 L950.0,1950.8 L952.5,1950.5 L955.0,1950.5 L957.5,1950.6 L960.0,1951.0 L962.5,1950.9 L965.0,1950.8 L967.5,1950.4 L970.0,1950.7 L972.5,1950.4 L975.0,1950.5 L977.5,1950.7 L980.0,1950.6 L982.5,1950.5 L985.0,1950.8 L987.5,1951.0 L990.0,1951.2 L992.5,1951.2 L995.0,1950.8 L997.5,1950.7 L1000.0,1951.3 L1002.5,1950.9 L1005.0,1950.8 L1007.5,1951.2 L1010.0,1951.0 L1012.5,1951.3 L1015.0,1951.1 L1017.5,1951.3 L1020.0,1950.8 L1022.5,1951.4 L1025.0,1951.1 L1027.5,1951.2 L1030.0,1950.9 L1032.5,1950.9 L1035.0,1951.0 L1037.5,1950.9 L1040.0,1951.4 L1042.5,1950.9 L1045.0,1951.0 L1047.5,1951.2 L1050.0,1950.9 L1052.5,1951.0 L1055.0,1951.0 L1057.5,1951.0 L1060.0,1950.8 L1062.5,1951.4 L1065.0,1951.3 L1067.5,1951.1 L1070.0,1951.5 L1072.5,1951.3 L1075.0,1951.0 L1077.5,1951.6 L1080.0,1951.0 L1082.5,1951.5 L1085.0,1951.5 L1087.5,1950.9 L1090.0,1951.5 L1092.5,1951.2 L1095.0,1951.3 L1097.5,1951.6 L1100.0,1951.2 L1102.5,1951.1 L1105.0,1951.0 L1107.5,1951.5 L1110.0,1951.2 L1112.5,1951.4 L1115.0,1951.4 L1117.5,1951.6 L1120.0,1951.6 L1122.5,1951.6 L1125.0,1951.3 L1127.5,1951.6 L1130.0,1951.2 L1132.5,1951.0 L1135.0,1951.4 L1137.5,1951.0 L1140.0,1951.6 L1142.5,1951.2 L1145.0,1951.2 L1147.5,1951.2 L1150.0,1951.2 L1152.5,1951.3 L1155.1,1951.5 L1157.6,1950.9 L1160.2,1951.1 L1162.7,1951.0 L1165.3,1951.5 L1167.8,1951.1 L1170.4,1951.0 L1172.9,1951.3 L1175.5,1950.9 L1178.0,1950.8 L1180.5,1950.7 L1183.1,1950.6 L1185.6,1950.8 L1188.2,1950.4 L1190.7,1950.5 L1193.3,1950.5 L1195.8,1950.5 L1198.4,1950.5 L1200.9,1950.2 L1203.5,1950.4 L1206.0,1950.4 L1208.6,1950.3 L1211.1,1950.1 L1213.6,1949.8 L1216.2,1949.7 L1218.7,1950.0 L1221.3,1949.7 L1223.8,1949.8 L1226.4,1949.5 L1228.9,1949.5 L1231.5,1949.2 L1234.0,1949.7 L1236.6,1949.4 L1239.1,1949.5 L1241.6,1949.7 L1244.2,1949.7 L1246.7,1949.8 L1249.3,1949.6 L1251.8,1949.3 L1254.4,1949.8 L1256.9,1949.2 L1259.6,1960.1 L1262.3,1971.2 L1265.2,1963.2 L1268.0,1950.1 L1271.4,1935.4 L1274.8,1926.3 L1279.0,1950.0 L1283.7,1969.0 L1287.2,1957.9 L1290.8,1945.7 L1293.8,1952.3 L1296.7,1964.5 L1299.7,1970.7 L1302.3,1938.2 L1305.0,1904.7 L1308.6,1919.1 L1312.2,1949.5 L1316.0,2000.0 L1318.4,2138.0" stroke="#008000" stroke-width="6.6" fill="none" stroke-linejoin="round" stroke-linecap="butt"/>
<path d="M131.5,1908.1 L134.0,1906.7 L136.5,1907.7 L139.0,1906.9 L141.5,1908.1 L144.1,1906.7 L146.6,1907.9 L149.1,1907.6 L151.6,1907.9 L154.1,1908.1 L156.6,1907.0 L159.1,1907.2 L161.6,1907.7 L164.1,1907.1 L166.6,1907.1 L169.2,1907.0 L171.7,1907.9 L174.2,1907.9 L176.7,1907.8 L179.2,1907.0 L181.7,1908.0 L184.2,1907.4 L186.7,1907.0 L189.2,1907.3 L191.7,1907.2 L194.3,1906.8 L196.8,1907.4 L199.3,1907.1 L201.8,1907.4 L204.3,1907.9 L206.8,1907.5 L209.3,1907.2 L211.8,1907.8 L214.3,1908.0 L216.8,1907.3 L219.4,1907.9 L221.9,1906.6 L224.4,1906.8 L226.9,1906.8 L229.4,1907.9 L231.9,1907.5 L234.4,1907.6 L236.9,1906.9 L239.4,1907.2 L241.9,1907.8 L244.5,1906.7 L247.0,1906.7 L249.5,1906.6 L252.0,1907.2 L254.5,1907.7 L257.0,1907.3 L259.5,1907.0 L262.0,1907.2 L264.5,1906.7 L267.0,1907.8 L269.6,1906.9 L272.1,1906.8 L274.6,1906.9 L277.1,1907.6 L279.6,1906.9 L282.1,1907.7 L284.6,1906.9 L287.1,1907.0 L289.6,1906.5 L292.1,1907.6 L294.7,1907.5 L297.2,1907.0 L299.7,1906.5 L302.2,1907.0 L304.7,1906.8 L307.2,1907.5 L309.7,1907.6 L312.2,1907.3 L314.7,1906.7 L317.2,1906.3 L319.8,1907.5 L322.3,1907.5 L324.8,1906.4 L327.3,1906.9 L329.8,1906.9 L332.3,1907.5 L334.8,1906.2 L337.3,1906.2 L339.8,1907.3 L342.3,1906.9 L344.9,1906.7 L347.4,1907.2 L349.9,1906.9 L352.4,1907.0 L354.9,1906.4 L357.4,1906.2 L359.9,1906.0 L362.4,1906.5 L364.9,1906.9 L367.4,1906.5 L370.0,1906.4 L372.5,1906.8 L375.0,1906.9 L377.5,1906.7 L380.0,1906.3 L382.6,1907.0 L385.2,1907.0 L387.7,1907.1 L390.3,1907.1 L392.9,1905.8 L395.5,1906.7 L398.1,1906.3 L400.7,1906.3 L403.2,1906.4 L405.8,1905.9 L408.4,1906.0 L411.0,1907.0 L413.6,1906.0 L416.2,1906.8 L418.7,1906.4 L421.3,1905.9 L423.9,1905.8 L426.5,1906.2 L429.1,1906.3 L431.7,1905.7 L434.2,1905.2 L436.8,1905.3 L439.4,1906.2 L442.1,1905.9 L444.8,1904.7 L447.5,1905.4 L450.2,1904.6 L452.9,1903.7 L455.6,1903.9 L458.3,1902.3 L461.0,1901.7 L463.7,1901.5 L466.4,1901.5 L469.1,1900.8 L471.8,1900.2 L474.5,1900.3 L477.2,1899.0 L479.9,1899.1 L482.6,1897.4 L485.3,1898.0 L488.0,1896.7 L490.7,1897.0 L493.4,1896.9 L496.1,1896.5 L498.8,1896.3 L501.5,1896.3 L504.2,1896.8 L506.9,1896.6 L509.6,1896.7 L512.3,1897.6 L515.0,1897.9 L517.7,1897.8 L520.4,1898.7 L523.1,1898.9 L525.8,1898.6 L528.5,1899.5 L531.2,1899.5 L533.9,1898.7 L536.6,1899.2 L539.3,1899.0 L542.0,1898.1 L544.7,1897.3 L547.4,1896.6 L550.1,1895.8 L552.8,1895.5 L555.5,1895.9 L558.2,1894.1 L560.9,1894.6 L563.5,1893.5 L566.2,1892.7 L568.9,1890.8 L571.5,1890.5 L574.2,1889.0 L576.9,1888.8 L579.6,1888.3 L582.2,1887.8 L584.9,1887.3 L587.9,1888.2 L590.9,1888.2 L593.8,1889.5 L596.8,1892.1 L599.8,1892.6 L602.8,1895.3 L605.7,1898.3 L608.7,1902.1 L611.6,1903.8 L614.6,1905.2 L617.1,1905.2 L619.6,1905.3 L622.1,1905.4 L624.7,1905.6 L627.2,1905.8 L629.7,1905.7 L632.2,1905.8 L634.7,1906.6 L637.2,1906.7 L639.8,1905.8 L642.3,1906.8 L644.8,1905.6 L647.3,1906.1 L649.8,1906.9 L652.3,1905.9 L654.8,1906.7 L657.4,1907.2 L659.9,1906.7 L662.4,1906.5 L664.9,1905.9 L667.4,1906.5 L669.9,1906.5 L672.5,1907.0 L675.0,1906.4 L677.5,1907.0 L680.0,1906.5 L682.6,1906.8 L685.1,1907.0 L687.7,1906.1 L690.2,1907.2 L692.8,1906.5 L695.4,1906.6 L697.9,1907.2 L700.5,1906.7 L703.0,1906.6 L705.6,1906.1 L708.1,1906.1 L710.7,1906.9 L713.3,1906.5 L715.8,1906.7 L718.4,1906.7 L720.9,1906.7 L723.5,1906.1 L726.1,1906.9 L728.6,1906.3 L731.2,1905.9 L733.7,1906.8 L736.3,1906.8 L738.8,1905.7 L741.4,1906.7 L744.0,1906.4 L746.5,1905.7 L749.1,1906.1 L751.6,1906.5 L754.2,1905.4 L756.7,1905.9 L759.2,1904.7 L761.8,1903.7 L764.3,1903.8 L766.8,1902.7 L769.4,1901.2 L771.9,1900.4 L774.4,1899.1 L776.9,1898.4 L779.5,1898.0 L782.0,1897.6 L784.5,1896.8 L787.0,1895.8 L789.5,1895.4 L792.1,1894.5 L794.6,1894.5 L797.1,1894.2 L799.7,1893.8 L802.2,1892.9 L804.7,1892.9 L807.4,1894.5 L810.1,1895.3 L812.8,1897.8 L815.5,1899.0 L818.2,1900.4 L820.7,1901.2 L823.2,1902.5 L825.8,1902.4 L828.3,1903.6 L830.8,1903.3 L833.4,1904.6 L835.9,1905.0 L838.4,1904.8 L840.9,1905.0 L843.5,1905.3 L846.0,1905.8 L848.5,1905.5 L851.0,1905.6 L853.5,1906.5 L856.1,1906.7 L858.6,1905.7 L861.1,1906.2 L863.6,1906.5 L866.2,1907.0 L868.7,1906.5 L871.2,1906.5 L873.8,1906.9 L876.3,1906.9 L878.8,1906.9 L881.3,1906.8 L883.9,1907.1 L886.4,1906.1 L888.9,1907.1 L891.4,1906.4 L894.0,1906.6 L896.5,1906.7 L899.0,1907.0 L901.5,1907.1 L904.0,1907.1 L906.6,1906.8 L909.1,1906.9 L911.6,1907.3 L914.1,1907.7 L916.7,1907.0 L919.2,1906.5 L921.7,1907.7 L924.2,1907.8 L926.8,1907.7 L929.3,1907.5 L931.8,1907.2 L934.4,1906.7 L936.9,1907.9 L939.4,1907.3 L941.9,1906.9 L944.5,1907.6 L947.0,1906.8 L949.5,1907.3 L952.0,1907.6 L954.5,1907.9 L957.1,1907.3 L959.6,1907.1 L962.1,1907.3 L964.6,1908.0 L967.2,1907.0 L969.7,1907.0 L972.2,1907.3 L974.8,1908.2 L977.3,1908.1 L979.8,1908.2 L982.3,1907.0 L984.9,1907.6 L987.4,1907.1 L989.9,1907.7 L992.4,1908.0 L995.0,1907.6 L997.5,1907.9 L1000.0,1907.9 L1002.5,1907.6 L1005.0,1907.4 L1007.5,1907.2 L1010.0,1907.9 L1012.5,1908.3 L1015.0,1908.3 L1017.5,1908.2 L1020.0,1908.1 L1022.5,1907.8 L1025.0,1907.6 L1027.5,1907.1 L1030.0,1908.0 L1032.5,1907.2 L1035.0,1908.2 L1037.5,1908.1 L1040.0,1907.3 L1042.5,1908.2 L1045.0,1908.0 L1047.5,1908.0 L1050.0,1907.1 L1052.5,1907.3 L1055.0,1907.1 L1057.5,1908.2 L1060.0,1907.2 L1062.5,1907.5 L1065.0,1908.0 L1067.5,1907.5 L1070.0,1907.8 L1072.5,1907.8 L1075.0,1907.4 L1077.5,1908.2 L1080.0,1907.8 L1082.5,1907.9 L1085.0,1907.9 L1087.5,1907.8 L1090.0,1907.1 L1092.5,1908.2 L1095.0,1908.2 L1097.5,1907.0 L1100.0,1907.4 L1102.5,1907.2 L1105.0,1907.1 L1107.5,1907.7 L1110.0,1907.5 L1112.5,1907.1 L1115.0,1907.6 L1117.5,1907.9 L1120.0,1907.1 L1122.5,1907.8 L1125.0,1907.8 L1127.5,1908.1 L1130.0,1908.3 L1132.5,1908.1 L1135.0,1907.4 L1137.5,1907.0 L1140.0,1907.4 L1142.5,1907.1 L1145.0,1908.1 L1147.5,1907.4 L1150.0,1907.7 L1152.5,1907.9 L1155.1,1907.5 L1157.6,1908.3 L1160.2,1907.8 L1162.7,1907.7 L1165.3,1907.0 L1167.8,1907.1 L1170.4,1907.7 L1172.9,1907.3 L1175.5,1907.5 L1178.0,1907.8 L1180.6,1907.5 L1183.1,1907.7 L1185.7,1907.0 L1188.2,1906.5 L1190.8,1906.7 L1193.3,1907.5 L1195.9,1906.5 L1198.4,1906.3 L1201.0,1906.2 L1203.5,1907.4 L1206.2,1906.2 L1208.9,1906.0 L1211.5,1906.3 L1214.2,1905.8 L1216.9,1906.7 L1219.6,1906.5 L1222.3,1906.0 L1225.0,1906.2 L1227.6,1905.0 L1230.3,1905.8 L1233.0,1905.0 L1237.3,1892.9 L1240.0,1898.2 L1242.7,1905.6 L1245.8,1905.7 L1248.8,1905.0 L1251.9,1904.7 L1255.0,1905.0 L1258.7,1915.1 L1262.3,1924.5 L1265.2,1915.9 L1268.0,1907.6 L1271.4,1907.1 L1274.8,1906.5 L1277.6,1907.1 L1280.5,1906.8 L1283.3,1905.4 L1286.2,1905.7 L1289.0,1905.0 L1292.6,1892.2 L1295.3,1885.0 L1297.9,1878.7 L1300.6,1873.3 L1303.3,1871.1 L1307.0,1890.0 L1310.4,1913.9 L1314.0,1900.0 L1317.0,1920.0" stroke="#FF00FF" stroke-width="6.6" fill="none" stroke-linejoin="round" stroke-linecap="butt"/>
<path d="M131.5,1846.5 L134.0,1846.7 L136.5,1846.6 L139.0,1846.6 L141.5,1846.6 L144.1,1846.9 L146.6,1846.4 L149.1,1846.9 L151.6,1846.0 L154.1,1846.4 L156.6,1846.5 L159.1,1846.2 L161.6,1847.0 L164.1,1846.4 L166.6,1847.1 L169.2,1847.3 L171.7,1846.3 L174.2,1847.2 L176.7,1847.1 L179.2,1846.9 L181.7,1846.0 L184.2,1846.6 L186.7,1846.8 L189.2,1846.4 L191.7,1846.3 L194.3,1846.4 L196.8,1846.3 L199.3,1847.0 L201.8,1846.4 L204.3,1846.5 L206.8,1846.8 L209.3,1847.2 L211.8,1846.3 L214.3,1845.9 L216.8,1847.2 L219.4,1847.0 L221.9,1847.0 L224.4,1846.6 L226.9,1846.2 L229.4,1846.1 L231.9,1846.3 L234.4,1846.5 L236.9,1845.9 L239.4,1846.8 L241.9,1846.8 L244.5,1845.8 L247.0,1847.0 L249.5,1846.5 L252.0,1847.0 L254.5,1846.4 L257.0,1846.9 L259.5,1846.4 L262.0,1846.6 L264.5,1846.4 L267.0,1845.7 L269.6,1845.9 L272.1,1846.0 L274.6,1846.2 L277.1,1846.2 L279.6,1846.4 L282.1,1846.5 L284.6,1846.2 L287.1,1846.0 L289.6,1846.3 L292.1,1846.9 L294.7,1846.7 L297.2,1846.5 L299.7,1846.7 L302.2,1845.8 L304.7,1845.6 L307.2,1845.6 L309.7,1845.6 L312.2,1845.5 L314.7,1846.3 L317.2,1846.7 L319.8,1845.6 L322.3,1846.4 L324.8,1846.7 L327.3,1846.4 L329.8,1845.6 L332.3,1846.2 L334.8,1845.7 L337.3,1845.6 L339.8,1845.3 L342.3,1846.0 L344.9,1846.5 L347.4,1845.4 L349.9,1845.4 L352.4,1845.7 L354.9,1845.2 L357.4,1845.8 L359.9,1846.2 L362.4,1845.8 L364.9,1845.2 L367.4,1845.1 L370.0,1845.4 L372.5,1846.0 L375.0,1846.3 L377.5,1845.7 L380.0,1845.1 L382.5,1845.3 L385.1,1845.5 L387.6,1845.1 L390.1,1845.1 L392.6,1845.5 L395.2,1846.0 L397.7,1845.2 L400.2,1846.0 L402.8,1846.0 L405.3,1845.4 L407.8,1845.0 L410.4,1844.9 L412.9,1845.6 L415.4,1845.7 L417.9,1845.7 L420.5,1844.8 L423.0,1845.0 L425.5,1844.4 L428.1,1844.7 L430.6,1844.6 L433.1,1844.3 L435.7,1844.1 L438.2,1845.3 L440.7,1844.3 L443.2,1844.4 L445.8,1844.4 L448.3,1844.2 L450.9,1844.0 L453.5,1843.3 L456.1,1842.4 L458.7,1840.8 L461.3,1840.4 L463.9,1839.3 L466.5,1838.2 L469.1,1836.5 L471.6,1835.8 L474.2,1835.4 L476.7,1834.3 L479.3,1832.4 L481.8,1831.7 L484.4,1830.3 L486.9,1829.7 L489.5,1827.0 L492.1,1824.0 L494.7,1821.2 L497.3,1820.4 L501.0,1825.3 L504.7,1829.6 L507.3,1828.3 L509.9,1827.0 L512.5,1825.8 L515.1,1824.3 L517.8,1826.4 L520.5,1827.4 L523.1,1830.8 L525.8,1832.4 L528.5,1834.4 L531.0,1833.9 L533.6,1832.6 L536.1,1832.2 L538.7,1831.6 L541.2,1830.5 L543.8,1829.2 L546.3,1828.1 L548.9,1827.2 L551.6,1826.4 L554.2,1824.8 L556.9,1823.8 L559.5,1822.9 L562.2,1821.3 L564.8,1819.7 L567.5,1818.9 L570.1,1817.3 L572.6,1816.3 L575.2,1814.5 L577.7,1812.7 L580.3,1809.7 L582.8,1808.0 L585.4,1808.1 L587.9,1807.4 L590.9,1808.9 L593.8,1811.5 L596.8,1815.6 L599.8,1818.5 L602.8,1824.1 L605.8,1831.8 L608.7,1838.4 L611.7,1840.8 L614.3,1842.6 L616.9,1842.1 L619.5,1842.6 L622.1,1843.2 L624.7,1843.2 L627.3,1843.3 L629.9,1843.5 L632.5,1843.5 L635.0,1843.8 L637.5,1844.7 L640.0,1845.0 L642.5,1845.1 L645.0,1844.7 L647.5,1845.3 L650.0,1844.5 L652.5,1845.7 L655.0,1845.1 L657.5,1844.8 L660.0,1845.2 L662.5,1845.0 L665.0,1845.9 L667.5,1845.4 L670.0,1844.9 L672.5,1845.2 L675.0,1845.1 L677.5,1846.3 L680.0,1845.6 L682.5,1846.1 L685.1,1845.8 L687.6,1845.6 L690.1,1846.0 L692.7,1845.7 L695.2,1845.0 L697.7,1846.3 L700.2,1845.4 L702.8,1845.8 L705.3,1845.4 L707.8,1846.1 L710.4,1845.0 L712.9,1844.8 L715.4,1844.7 L718.0,1845.1 L720.5,1845.7 L723.0,1845.1 L725.6,1845.7 L728.1,1844.5 L730.6,1845.6 L733.2,1844.4 L735.7,1845.3 L738.2,1844.2 L740.8,1844.7 L743.3,1844.6 L745.8,1845.0 L748.3,1844.1 L750.9,1844.6 L753.4,1843.4 L755.9,1844.4 L758.5,1843.8 L761.0,1843.7 L763.5,1844.0 L766.0,1842.7 L768.6,1842.5 L771.1,1841.8 L773.6,1840.7 L776.2,1839.7 L778.7,1839.3 L781.2,1838.3 L783.7,1837.9 L786.2,1836.5 L788.8,1834.8 L791.3,1834.4 L793.8,1833.6 L796.4,1832.2 L798.9,1831.2 L801.4,1830.9 L804.2,1831.9 L807.0,1831.4 L809.8,1832.2 L812.6,1833.5 L815.4,1838.3 L818.2,1840.9 L820.9,1840.6 L823.6,1841.2 L826.3,1842.1 L829.0,1842.9 L831.7,1843.0 L834.3,1842.2 L837.0,1842.6 L839.7,1843.8 L842.4,1843.3 L845.1,1844.2 L847.7,1843.7 L850.2,1844.3 L852.8,1843.6 L855.3,1844.7 L857.9,1844.1 L860.4,1843.6 L863.0,1843.9 L865.5,1843.8 L868.1,1844.4 L870.6,1845.2 L873.2,1845.3 L875.7,1845.3 L878.3,1844.6 L880.8,1845.2 L883.4,1845.2 L885.9,1845.4 L888.5,1845.7 L891.0,1845.5 L893.6,1845.5 L896.1,1844.9 L898.7,1844.7 L901.2,1845.1 L903.8,1845.0 L906.3,1845.7 L908.9,1844.9 L911.4,1845.1 L914.0,1845.9 L916.5,1845.0 L919.1,1845.1 L921.6,1845.1 L924.2,1845.2 L926.7,1845.4 L929.3,1846.3 L931.8,1845.8 L934.3,1845.7 L936.9,1846.3 L939.4,1846.2 L941.9,1845.9 L944.4,1846.1 L946.9,1846.5 L949.5,1846.9 L952.0,1846.6 L954.5,1847.2 L957.0,1847.4 L959.5,1848.2 L962.1,1847.9 L964.6,1847.6 L967.1,1847.6 L969.6,1847.7 L972.2,1848.1 L974.7,1849.0 L977.2,1849.1 L979.7,1848.1 L982.2,1848.8 L984.8,1849.0 L987.3,1849.3 L989.8,1849.1 L992.3,1848.9 L994.8,1848.1 L997.3,1848.4 L999.8,1849.3 L1002.3,1849.3 L1004.8,1849.2 L1007.3,1848.4 L1009.8,1849.1 L1012.3,1849.1 L1014.8,1848.5 L1017.3,1848.4 L1019.8,1848.6 L1022.3,1848.7 L1024.8,1847.9 L1027.3,1847.9 L1029.8,1849.3 L1032.4,1848.4 L1034.9,1848.4 L1037.4,1848.7 L1039.9,1848.6 L1042.4,1848.8 L1044.9,1848.5 L1047.4,1847.8 L1049.9,1847.8 L1052.4,1848.1 L1054.9,1848.2 L1057.4,1849.1 L1059.9,1848.4 L1062.4,1847.8 L1064.9,1848.8 L1067.4,1848.1 L1069.9,1848.2 L1072.4,1848.5 L1074.9,1848.6 L1077.4,1847.9 L1079.9,1848.1 L1082.4,1847.5 L1084.9,1848.8 L1087.4,1848.7 L1089.9,1848.6 L1092.4,1847.7 L1094.9,1848.3 L1097.4,1848.0 L1099.9,1847.6 L1102.4,1847.7 L1104.9,1848.6 L1107.4,1848.2 L1110.0,1848.2 L1112.5,1847.5 L1115.0,1848.1 L1117.5,1848.5 L1120.0,1847.6 L1122.5,1847.6 L1125.0,1848.6 L1127.5,1847.6 L1130.0,1847.9 L1132.5,1848.5 L1135.0,1848.2 L1137.5,1847.7 L1140.0,1847.7 L1142.5,1847.6 L1145.0,1847.3 L1147.5,1847.9 L1150.0,1847.4 L1152.6,1847.6 L1155.1,1848.4 L1157.7,1847.4 L1160.2,1847.3 L1162.8,1847.3 L1165.3,1848.1 L1167.9,1847.5 L1170.4,1847.6 L1173.0,1847.9 L1175.5,1848.2 L1178.1,1848.6 L1180.6,1847.3 L1183.2,1847.7 L1185.8,1847.2 L1188.3,1847.7 L1190.9,1848.1 L1193.4,1847.7 L1196.0,1847.8 L1198.5,1847.6 L1201.1,1848.6 L1203.6,1848.3 L1206.2,1848.4 L1208.7,1848.1 L1211.3,1848.5 L1213.9,1848.1 L1216.4,1847.3 L1219.0,1847.4 L1221.5,1848.5 L1224.1,1848.0 L1226.6,1848.2 L1229.2,1848.0 L1231.7,1848.5 L1234.3,1847.5 L1236.8,1847.4 L1239.4,1847.5 L1241.9,1848.2 L1244.5,1848.0 L1247.2,1838.1 L1249.8,1827.9 L1252.9,1836.4 L1256.0,1849.7 L1259.2,1862.7 L1262.3,1871.7 L1265.2,1857.6 L1268.0,1840.4 L1271.4,1833.2 L1274.8,1830.6 L1277.8,1829.6 L1280.7,1828.2 L1283.7,1828.9 L1286.3,1833.2 L1289.0,1842.0 L1291.7,1868.0 L1294.4,1888.3 L1298.0,1870.7 L1301.5,1847.4 L1304.5,1843.1 L1307.4,1840.4 L1310.4,1835.4 L1313.1,1794.5 L1315.5,1850.0 L1317.0,1900.0" stroke="#808000" stroke-width="6.6" fill="none" stroke-linejoin="round" stroke-linecap="butt"/>
<path d="M131.5,1780.5 L134.0,1781.0 L136.5,1781.2 L139.0,1780.2 L141.5,1780.9 L144.1,1780.8 L146.6,1780.7 L149.1,1779.9 L151.6,1779.8 L154.1,1780.3 L156.6,1780.9 L159.1,1780.1 L161.6,1780.5 L164.1,1780.2 L166.6,1781.0 L169.2,1781.2 L171.7,1780.4 L174.2,1781.2 L176.7,1779.8 L179.2,1781.0 L181.7,1781.1 L184.2,1780.0 L186.7,1780.8 L189.2,1780.6 L191.7,1781.2 L194.3,1780.1 L196.8,1780.6 L199.3,1781.1 L201.8,1780.7 L204.3,1780.2 L206.8,1779.9 L209.3,1781.2 L211.8,1780.5 L214.3,1781.2 L216.8,1780.0 L219.4,1781.0 L221.9,1781.0 L224.4,1781.1 L226.9,1779.8 L229.4,1780.3 L231.9,1779.8 L234.4,1780.9 L236.9,1780.3 L239.4,1781.2 L241.9,1780.3 L244.5,1780.9 L247.0,1781.0 L249.5,1780.1 L252.0,1780.6 L254.5,1781.2 L257.0,1780.5 L259.5,1780.3 L262.0,1780.1 L264.5,1780.9 L267.0,1780.0 L269.6,1780.6 L272.1,1780.6 L274.6,1780.6 L277.1,1779.9 L279.6,1780.7 L282.1,1781.1 L284.6,1780.2 L287.1,1780.2 L289.6,1781.1 L292.1,1780.6 L294.7,1780.1 L297.2,1779.7 L299.7,1780.8 L302.2,1780.2 L304.7,1780.4 L307.2,1780.1 L309.7,1780.7 L312.2,1780.8 L314.7,1780.2 L317.2,1779.8 L319.8,1781.2 L322.3,1781.1 L324.8,1779.7 L327.3,1780.5 L329.8,1780.7 L332.3,1780.3 L334.8,1780.8 L337.3,1781.1 L339.8,1780.6 L342.3,1780.3 L344.9,1780.0 L347.4,1780.1 L349.9,1779.9 L352.4,1779.8 L354.9,1780.0 L357.4,1780.9 L359.9,1780.5 L362.4,1780.9 L364.9,1781.0 L367.4,1780.9 L370.0,1779.7 L372.5,1781.0 L375.0,1779.8 L377.5,1780.8 L380.0,1780.9 L382.6,1780.6 L385.2,1780.2 L387.7,1779.7 L390.3,1779.7 L392.9,1780.5 L395.5,1779.9 L398.1,1780.3 L400.7,1779.9 L403.2,1779.7 L405.8,1779.8 L408.4,1780.4 L411.0,1780.0 L413.6,1779.8 L416.2,1779.9 L418.7,1779.9 L421.3,1779.7 L423.9,1779.5 L426.5,1780.2 L429.1,1779.8 L431.7,1778.9 L434.2,1778.9 L436.8,1778.6 L439.4,1778.7 L441.9,1777.9 L444.5,1778.5 L447.0,1777.5 L449.6,1776.4 L452.1,1776.1 L454.7,1774.0 L457.2,1773.1 L460.2,1771.2 L463.1,1766.9 L466.1,1763.1 L469.1,1759.4 L472.1,1758.0 L475.1,1755.5 L478.0,1752.8 L481.0,1750.5 L484.0,1748.0 L486.9,1744.8 L489.9,1741.3 L492.9,1737.3 L497.3,1730.0 L501.0,1737.6 L504.7,1745.1 L507.3,1743.5 L509.9,1740.9 L512.5,1738.5 L515.1,1737.4 L517.7,1738.9 L520.3,1742.0 L522.9,1746.8 L525.5,1751.4 L528.0,1753.8 L530.5,1755.6 L533.0,1757.0 L535.7,1755.5 L538.3,1754.0 L541.0,1752.1 L543.6,1750.1 L546.3,1747.0 L548.8,1746.0 L551.4,1745.0 L553.9,1743.0 L556.5,1742.0 L559.0,1738.9 L561.6,1738.4 L564.1,1736.3 L567.1,1732.5 L570.1,1730.5 L573.0,1727.8 L576.0,1723.8 L579.0,1721.2 L582.0,1717.4 L584.9,1713.0 L587.9,1710.5 L590.9,1712.6 L593.8,1719.5 L596.8,1726.4 L599.8,1737.0 L602.7,1749.2 L605.7,1759.4 L608.7,1767.1 L611.6,1773.8 L614.6,1776.6 L617.2,1775.8 L619.9,1775.2 L622.5,1776.3 L625.2,1775.7 L627.8,1776.3 L630.5,1776.4 L633.1,1775.2 L635.8,1776.2 L638.4,1775.6 L641.0,1775.6 L643.7,1775.5 L646.3,1775.6 L648.9,1774.9 L651.6,1775.0 L654.2,1774.5 L656.8,1774.0 L659.5,1774.1 L662.1,1774.7 L664.7,1774.2 L667.4,1774.3 L670.0,1774.9 L672.6,1775.1 L675.3,1776.7 L677.9,1777.0 L680.5,1776.6 L683.2,1777.3 L685.8,1777.9 L688.4,1778.4 L691.1,1778.4 L693.7,1778.7 L696.3,1779.1 L698.9,1778.2 L701.5,1778.7 L704.0,1778.1 L706.6,1778.6 L709.2,1778.2 L711.8,1778.9 L714.4,1779.0 L717.0,1779.0 L719.5,1778.1 L722.1,1778.3 L724.7,1777.6 L727.3,1778.3 L729.8,1778.3 L732.3,1777.7 L734.9,1777.5 L737.4,1778.0 L739.9,1777.9 L742.5,1777.9 L745.0,1777.0 L747.5,1776.7 L750.0,1776.6 L752.5,1776.3 L755.1,1775.8 L757.6,1775.7 L760.4,1775.9 L763.2,1775.1 L766.0,1775.0 L768.8,1773.2 L771.6,1771.9 L774.4,1771.9 L777.1,1769.4 L779.8,1768.3 L782.5,1767.4 L785.2,1765.3 L787.9,1765.2 L790.7,1764.1 L793.5,1762.6 L796.3,1762.8 L799.1,1762.3 L801.9,1761.4 L804.7,1760.7 L807.4,1761.4 L810.1,1764.5 L812.8,1767.1 L815.5,1769.2 L818.2,1771.0 L820.8,1772.0 L823.4,1772.0 L826.1,1772.8 L828.7,1774.5 L831.3,1775.1 L833.9,1775.1 L836.6,1775.3 L839.2,1775.4 L841.8,1776.2 L844.4,1777.1 L846.9,1776.2 L849.5,1776.6 L852.0,1776.3 L854.6,1777.3 L857.2,1776.6 L859.7,1777.7 L862.3,1777.5 L864.9,1777.5 L867.4,1777.4 L870.0,1777.5 L872.5,1778.5 L875.1,1778.6 L877.7,1778.4 L880.2,1777.7 L882.8,1777.8 L885.4,1778.1 L887.9,1779.0 L890.5,1779.2 L893.0,1778.2 L895.6,1778.9 L898.2,1778.6 L900.8,1778.9 L903.4,1778.6 L906.0,1779.5 L908.5,1779.7 L911.1,1780.1 L913.7,1779.6 L916.3,1779.6 L918.9,1780.1 L921.5,1779.5 L924.1,1780.7 L926.7,1780.7 L929.2,1780.0 L931.8,1780.4 L934.4,1780.6 L937.0,1781.3 L939.6,1781.2 L942.2,1780.6 L944.8,1781.7 L947.4,1781.8 L950.0,1781.8 L952.5,1781.3 L955.1,1781.3 L957.7,1781.2 L960.3,1782.1 L962.9,1781.4 L965.5,1782.1 L968.2,1780.9 L970.9,1780.6 L973.5,1781.3 L976.1,1780.8 L978.8,1780.8 L981.5,1780.4 L984.1,1780.5 L986.8,1780.9 L989.4,1780.3 L992.0,1780.6 L994.7,1781.0 L997.4,1780.4 L1000.0,1780.4 L1002.5,1780.5 L1005.0,1780.3 L1007.5,1780.7 L1010.0,1781.0 L1012.5,1779.8 L1015.0,1780.5 L1017.5,1780.5 L1020.0,1781.0 L1022.5,1780.7 L1025.0,1780.0 L1027.5,1780.5 L1030.0,1780.9 L1032.5,1780.9 L1035.0,1780.6 L1037.5,1779.6 L1040.0,1780.0 L1042.5,1780.1 L1045.0,1779.9 L1047.5,1780.5 L1050.0,1780.1 L1052.5,1780.8 L1055.0,1779.3 L1057.5,1780.5 L1060.0,1779.4 L1062.5,1780.0 L1065.0,1779.4 L1067.5,1779.7 L1070.0,1780.1 L1072.5,1780.5 L1075.0,1779.1 L1077.5,1779.6 L1080.0,1779.2 L1082.5,1780.1 L1085.0,1779.2 L1087.5,1779.2 L1090.0,1780.1 L1092.5,1779.0 L1095.0,1780.2 L1097.5,1779.2 L1100.0,1780.3 L1102.5,1778.9 L1105.0,1778.8 L1107.5,1779.4 L1110.0,1779.1 L1112.5,1779.5 L1115.0,1779.0 L1117.5,1779.0 L1120.0,1778.5 L1122.5,1778.5 L1125.0,1778.3 L1127.5,1779.0 L1130.0,1779.5 L1132.5,1779.0 L1135.0,1778.6 L1137.5,1778.7 L1140.0,1779.1 L1142.5,1779.2 L1145.0,1777.9 L1147.5,1778.7 L1150.0,1778.1 L1152.5,1778.9 L1155.1,1778.4 L1157.6,1777.9 L1160.2,1777.6 L1162.7,1777.3 L1165.3,1775.9 L1167.8,1775.8 L1170.3,1774.9 L1172.9,1774.7 L1175.4,1775.4 L1178.0,1774.6 L1180.5,1773.8 L1183.1,1773.8 L1185.6,1773.9 L1188.1,1773.5 L1190.7,1774.8 L1193.2,1774.6 L1195.8,1774.6 L1198.3,1775.8 L1200.9,1776.3 L1203.4,1777.5 L1206.0,1777.4 L1208.5,1778.0 L1211.1,1779.0 L1213.6,1779.3 L1216.2,1779.3 L1218.8,1780.5 L1221.3,1780.7 L1224.0,1780.6 L1226.6,1780.0 L1229.3,1779.2 L1232.0,1779.1 L1234.7,1777.5 L1237.3,1776.7 L1240.0,1776.2 L1242.7,1776.2 L1245.3,1775.4 L1248.0,1775.6 L1251.0,1776.7 L1253.9,1777.9 L1256.9,1779.7 L1259.6,1801.7 L1262.3,1822.3 L1264.9,1801.1 L1267.6,1779.8 L1270.5,1779.9 L1273.3,1779.9 L1276.2,1779.1 L1279.0,1778.3 L1281.9,1778.5 L1284.6,1765.5 L1287.2,1751.7 L1290.8,1796.4 L1293.4,1785.4 L1296.1,1772.8 L1298.8,1782.1 L1301.5,1791.4 L1305.0,1768.8 L1308.6,1746.3 L1312.2,1774.9 L1316.0,1850.0 L1318.4,2022.6" stroke="#008080" stroke-width="6.6" fill="none" stroke-linejoin="round" stroke-linecap="butt"/>
<path d="M131.5,1704.4 L134.0,1705.2 L136.5,1704.6 L139.0,1704.4 L141.6,1704.8 L144.1,1704.8 L146.6,1704.8 L149.1,1704.7 L151.6,1704.4 L154.1,1704.4 L156.6,1705.1 L159.2,1704.5 L161.7,1705.1 L164.2,1705.2 L166.7,1705.4 L169.2,1705.5 L171.7,1704.3 L174.3,1704.3 L176.8,1705.1 L179.3,1704.8 L181.8,1704.2 L184.3,1705.0 L186.8,1705.3 L189.3,1705.2 L191.9,1704.2 L194.4,1704.3 L196.9,1703.8 L199.4,1705.4 L201.9,1704.2 L204.4,1705.0 L206.9,1704.7 L209.5,1704.8 L212.0,1704.7 L214.5,1705.2 L217.0,1704.8 L219.5,1704.3 L222.0,1703.9 L224.6,1704.5 L227.1,1705.3 L229.6,1704.0 L232.1,1704.9 L234.6,1704.8 L237.1,1704.0 L239.6,1704.1 L242.2,1704.9 L244.7,1704.4 L247.2,1704.4 L249.7,1704.5 L252.2,1703.9 L254.7,1704.9 L257.2,1704.7 L259.8,1704.6 L262.3,1704.2 L264.8,1705.0 L267.3,1705.1 L269.8,1704.6 L272.3,1703.8 L274.9,1703.9 L277.4,1703.9 L279.9,1703.8 L282.4,1704.8 L284.9,1704.6 L287.4,1704.0 L289.9,1705.2 L292.5,1704.7 L295.0,1705.0 L297.5,1705.0 L300.0,1704.8 L302.5,1704.5 L305.0,1705.3 L307.5,1703.9 L310.0,1704.8 L312.5,1705.2 L315.0,1704.5 L317.5,1705.1 L320.0,1704.0 L322.5,1704.4 L325.0,1704.1 L327.5,1704.4 L330.0,1704.9 L332.5,1703.9 L335.0,1704.3 L337.5,1705.1 L340.0,1704.2 L342.5,1703.9 L345.0,1705.4 L347.5,1704.6 L350.0,1703.7 L352.5,1704.7 L355.0,1704.0 L357.5,1704.0 L360.0,1705.0 L362.5,1704.8 L365.0,1704.5 L367.5,1704.6 L370.0,1704.7 L372.5,1704.5 L375.0,1703.9 L377.5,1705.1 L380.0,1705.1 L382.6,1704.5 L385.2,1704.4 L387.9,1704.7 L390.5,1704.5 L393.1,1704.3 L395.7,1705.1 L398.3,1705.0 L400.9,1703.7 L403.6,1703.6 L406.2,1704.6 L408.8,1704.8 L411.4,1704.3 L414.0,1703.4 L416.6,1702.9 L419.3,1704.0 L421.9,1704.1 L424.5,1703.6 L427.2,1703.4 L429.9,1703.5 L432.5,1702.4 L435.2,1702.6 L437.9,1701.0 L440.6,1700.0 L443.3,1700.6 L445.9,1699.5 L448.6,1698.7 L451.3,1696.6 L454.3,1694.9 L457.2,1692.2 L460.2,1687.4 L463.1,1683.5 L466.1,1679.6 L469.1,1675.5 L472.0,1670.0 L475.0,1664.3 L478.0,1659.5 L481.0,1654.9 L484.0,1650.1 L486.6,1645.5 L489.1,1638.4 L491.7,1634.6 L494.3,1628.9 L498.8,1620.7 L501.8,1629.2 L504.7,1637.4 L507.7,1631.4 L510.7,1625.3 L513.7,1626.9 L516.6,1632.0 L519.6,1637.4 L522.6,1643.1 L525.5,1654.8 L528.5,1662.2 L531.5,1660.6 L534.5,1660.2 L537.4,1658.1 L540.4,1655.7 L543.4,1652.4 L546.3,1650.4 L549.3,1647.4 L552.3,1644.5 L555.3,1642.1 L558.2,1638.7 L561.2,1637.9 L564.1,1634.1 L567.1,1631.7 L569.8,1628.5 L572.5,1624.4 L575.3,1619.6 L578.0,1615.7 L581.5,1608.6 L584.9,1604.6 L587.5,1607.0 L590.0,1611.9 L593.4,1619.9 L596.8,1632.1 L599.8,1644.7 L602.7,1657.2 L605.7,1671.3 L608.7,1682.2 L611.7,1691.1 L614.7,1694.3 L617.6,1696.3 L620.6,1697.6 L623.5,1698.0 L626.5,1698.3 L629.1,1698.0 L631.7,1698.5 L634.3,1696.9 L636.9,1696.6 L639.5,1697.0 L642.1,1696.1 L644.7,1695.0 L647.3,1695.6 L650.3,1696.5 L653.2,1696.0 L656.2,1695.8 L659.1,1696.0 L662.1,1697.0 L665.0,1697.6 L667.8,1699.3 L670.6,1700.6 L673.5,1702.5 L676.3,1703.1 L679.1,1702.8 L681.9,1703.2 L684.7,1702.8 L687.5,1704.1 L690.3,1702.9 L693.2,1703.2 L696.2,1699.8 L699.1,1699.0 L702.1,1698.5 L705.0,1698.3 L708.0,1698.5 L711.0,1699.3 L713.9,1701.4 L716.4,1702.0 L718.9,1701.2 L721.4,1702.1 L724.0,1703.4 L726.5,1703.9 L729.0,1702.9 L731.5,1704.0 L734.0,1703.6 L736.6,1703.2 L739.2,1704.1 L741.9,1703.5 L744.5,1702.7 L747.1,1703.2 L749.7,1702.0 L752.4,1701.4 L755.0,1700.9 L757.6,1700.1 L760.4,1700.4 L763.2,1698.4 L766.0,1698.1 L768.8,1696.1 L771.6,1694.1 L774.4,1692.9 L777.1,1689.6 L779.8,1685.8 L782.5,1683.5 L785.2,1679.7 L787.9,1679.4 L790.7,1678.6 L793.5,1676.8 L796.3,1675.6 L799.1,1676.5 L801.9,1675.0 L804.7,1676.1 L807.2,1676.5 L809.8,1680.2 L812.3,1683.5 L814.8,1684.8 L817.3,1686.9 L819.8,1688.7 L822.4,1689.5 L824.9,1691.2 L827.7,1689.8 L830.5,1689.5 L833.3,1689.3 L836.1,1691.6 L839.0,1697.3 L841.8,1699.4 L844.3,1701.0 L846.8,1700.9 L849.4,1702.8 L851.9,1703.3 L854.4,1704.0 L857.0,1702.8 L859.5,1704.1 L862.0,1704.4 L864.6,1703.9 L867.2,1704.6 L869.8,1704.1 L872.4,1704.6 L874.9,1705.2 L877.5,1705.2 L880.1,1704.5 L882.7,1704.4 L885.3,1705.7 L887.9,1704.6 L890.5,1705.0 L893.1,1705.0 L895.6,1705.0 L898.2,1705.3 L900.8,1704.7 L903.4,1705.3 L906.0,1705.7 L908.6,1706.0 L911.2,1705.5 L913.8,1705.1 L916.4,1705.2 L918.9,1705.0 L921.5,1705.0 L924.1,1705.3 L926.7,1705.4 L929.3,1706.4 L931.8,1706.0 L934.3,1706.3 L936.9,1705.6 L939.4,1705.1 L941.9,1705.7 L944.4,1705.9 L947.0,1706.4 L949.5,1705.1 L952.0,1706.0 L954.5,1706.4 L957.1,1705.4 L959.6,1705.6 L962.1,1704.9 L964.6,1705.9 L967.2,1704.8 L969.7,1706.0 L972.2,1706.0 L974.8,1706.1 L977.3,1706.1 L979.8,1704.8 L982.3,1706.2 L984.9,1705.9 L987.4,1706.3 L989.9,1706.2 L992.4,1705.5 L995.0,1706.1 L997.5,1705.0 L1000.0,1706.3 L1002.5,1705.8 L1005.0,1706.0 L1007.5,1705.5 L1010.1,1705.5 L1012.6,1704.9 L1015.1,1705.8 L1017.6,1705.3 L1020.1,1704.8 L1022.6,1705.6 L1025.1,1705.2 L1027.6,1704.9 L1030.2,1705.5 L1032.7,1704.7 L1035.2,1705.1 L1037.7,1704.8 L1040.2,1704.4 L1042.7,1704.3 L1045.2,1704.6 L1047.7,1703.8 L1050.3,1703.7 L1052.8,1703.8 L1055.3,1704.4 L1057.8,1703.4 L1060.3,1704.2 L1062.8,1703.4 L1065.3,1704.3 L1067.8,1702.8 L1070.4,1703.9 L1072.9,1703.8 L1075.4,1703.7 L1077.9,1703.2 L1080.4,1702.6 L1082.9,1703.6 L1085.4,1702.2 L1087.9,1702.9 L1090.5,1702.3 L1093.0,1701.7 L1095.5,1702.1 L1098.0,1701.9 L1100.5,1702.6 L1103.0,1701.5 L1105.5,1702.5 L1108.0,1701.0 L1110.5,1701.0 L1113.0,1701.8 L1115.5,1702.2 L1118.0,1701.5 L1120.5,1700.6 L1123.0,1701.8 L1125.5,1701.2 L1128.0,1700.0 L1130.5,1700.0 L1133.0,1700.4 L1135.5,1700.5 L1138.0,1700.4 L1140.5,1700.7 L1143.0,1700.2 L1145.5,1700.7 L1148.0,1699.7 L1150.5,1699.4 L1153.0,1699.9 L1155.5,1700.2 L1158.0,1699.3 L1160.5,1698.5 L1163.0,1699.0 L1165.5,1698.7 L1168.0,1699.8 L1170.5,1698.7 L1173.0,1698.9 L1175.5,1699.2 L1178.0,1698.2 L1180.5,1698.2 L1183.0,1698.9 L1185.5,1698.5 L1188.1,1698.3 L1190.6,1699.7 L1193.2,1699.9 L1195.7,1700.0 L1198.2,1699.5 L1200.8,1701.1 L1203.3,1701.8 L1205.8,1700.7 L1208.4,1702.1 L1210.9,1701.4 L1213.5,1701.9 L1216.0,1702.6 L1218.5,1704.0 L1221.1,1703.4 L1223.6,1703.7 L1226.2,1704.4 L1228.7,1703.6 L1231.2,1703.4 L1233.8,1703.0 L1236.3,1703.2 L1238.9,1703.7 L1241.5,1703.9 L1244.0,1703.8 L1247.0,1696.4 L1249.9,1691.1 L1252.5,1695.2 L1255.0,1702.1 L1258.2,1705.3 L1261.4,1709.4 L1264.1,1710.5 L1266.8,1711.6 L1269.6,1712.4 L1272.3,1712.7 L1275.0,1714.0 L1277.7,1713.6 L1280.4,1713.5 L1283.1,1711.7 L1285.8,1710.0 L1288.6,1709.2 L1291.3,1706.7 L1294.0,1704.7 L1296.8,1704.1 L1299.5,1703.4 L1302.2,1701.7 L1305.0,1700.0 L1308.7,1676.0 L1312.0,1707.0 L1314.0,1760.0 L1315.3,1816.0" stroke="#800000" stroke-width="6.6" fill="none" stroke-linejoin="round" stroke-linecap="butt"/>
<path d="M131.5,1621.5 L134.0,1621.7 L136.5,1621.1 L139.1,1621.1 L141.6,1620.8 L144.1,1622.2 L146.6,1620.6 L149.1,1620.3 L151.7,1620.5 L154.2,1620.5 L156.7,1620.6 L159.2,1620.5 L161.8,1620.1 L164.3,1620.6 L166.8,1620.6 L169.3,1621.1 L171.8,1620.3 L174.4,1620.0 L176.9,1620.3 L179.4,1621.0 L181.9,1620.7 L184.4,1621.4 L187.0,1621.5 L189.5,1620.7 L192.0,1620.0 L194.5,1621.3 L197.1,1621.4 L199.6,1620.6 L202.1,1621.1 L204.6,1620.3 L207.1,1621.7 L209.7,1621.5 L212.2,1621.4 L214.7,1621.7 L217.2,1620.1 L219.7,1620.8 L222.3,1621.2 L224.8,1621.3 L227.3,1620.4 L229.8,1619.8 L232.4,1620.9 L234.9,1619.7 L237.4,1621.0 L239.9,1619.5 L242.4,1620.4 L245.0,1620.5 L247.5,1619.7 L250.0,1620.5 L252.5,1620.5 L255.0,1620.2 L257.5,1621.3 L260.0,1621.2 L262.5,1621.3 L265.0,1619.8 L267.5,1619.3 L270.0,1620.1 L272.5,1619.5 L275.0,1620.8 L277.5,1619.8 L280.0,1619.5 L282.5,1619.8 L285.0,1620.1 L287.5,1620.8 L290.0,1620.2 L292.5,1619.8 L295.0,1620.6 L297.5,1619.2 L300.0,1619.6 L302.5,1620.6 L305.0,1620.7 L307.5,1619.3 L310.0,1619.2 L312.5,1620.1 L315.0,1620.4 L317.5,1619.0 L320.0,1619.9 L322.5,1619.5 L325.0,1619.1 L327.5,1619.3 L330.0,1619.5 L332.5,1619.9 L335.0,1619.1 L337.5,1620.2 L340.0,1620.7 L342.5,1620.2 L345.0,1618.9 L347.5,1620.1 L350.0,1620.0 L352.5,1618.6 L355.0,1619.4 L357.5,1620.0 L360.0,1620.6 L362.5,1620.5 L365.0,1619.7 L367.5,1619.7 L370.0,1620.5 L372.5,1618.8 L375.0,1619.4 L377.5,1618.4 L380.0,1619.9 L382.7,1619.6 L385.4,1618.5 L388.1,1618.4 L390.8,1619.0 L393.5,1619.4 L396.2,1617.9 L398.9,1618.2 L401.6,1618.4 L404.3,1617.7 L407.0,1618.9 L409.7,1618.3 L412.4,1618.6 L415.1,1617.6 L417.8,1617.3 L420.5,1616.1 L423.2,1616.1 L425.9,1615.4 L428.6,1614.9 L431.3,1613.4 L434.0,1614.3 L436.7,1612.0 L439.4,1611.7 L442.4,1611.1 L445.4,1607.6 L448.3,1605.1 L451.3,1600.2 L454.3,1596.9 L457.3,1592.7 L460.2,1587.9 L463.2,1583.0 L466.1,1578.1 L469.1,1574.0 L472.1,1569.7 L475.0,1563.2 L478.0,1558.8 L481.0,1549.8 L483.9,1538.7 L486.9,1527.7 L489.9,1518.3 L492.8,1508.7 L495.8,1504.6 L498.3,1509.0 L500.8,1515.6 L503.3,1519.4 L507.0,1511.9 L510.7,1506.0 L513.7,1510.0 L516.6,1522.5 L519.6,1531.0 L522.2,1539.2 L524.8,1546.2 L527.4,1552.1 L530.0,1553.9 L532.7,1554.1 L535.3,1551.7 L538.0,1548.1 L540.6,1546.7 L543.3,1543.7 L546.3,1539.5 L549.3,1536.4 L552.2,1532.2 L555.2,1526.5 L558.2,1522.0 L561.2,1518.7 L564.1,1515.9 L567.1,1512.2 L570.0,1507.9 L573.0,1504.8 L575.7,1500.3 L578.4,1494.6 L581.0,1488.4 L583.7,1485.0 L586.4,1483.1 L589.0,1484.2 L591.6,1490.0 L594.2,1499.3 L596.8,1507.3 L599.8,1530.4 L602.7,1562.3 L605.7,1585.3 L608.7,1596.0 L611.6,1602.1 L614.6,1605.2 L617.2,1604.9 L619.7,1605.1 L622.3,1605.9 L624.8,1605.9 L627.4,1606.9 L629.9,1605.8 L632.5,1606.0 L635.2,1604.8 L637.9,1605.2 L640.6,1605.2 L643.3,1604.9 L646.0,1605.9 L648.6,1604.9 L651.3,1604.1 L654.0,1604.7 L656.7,1603.8 L659.4,1603.7 L662.1,1604.6 L664.9,1603.9 L667.6,1606.4 L670.4,1607.1 L673.1,1608.0 L675.9,1611.2 L678.6,1613.6 L681.4,1614.5 L684.1,1615.8 L686.9,1616.4 L689.5,1614.7 L692.1,1614.5 L694.8,1614.2 L697.4,1612.4 L700.0,1612.5 L702.6,1610.3 L705.3,1608.5 L707.9,1608.0 L710.5,1608.5 L713.2,1607.9 L715.9,1609.9 L718.6,1611.8 L721.3,1613.0 L724.0,1614.5 L726.6,1614.2 L729.3,1615.4 L732.0,1616.2 L734.7,1618.8 L737.4,1617.1 L740.0,1616.9 L742.6,1617.4 L745.3,1616.9 L747.9,1614.5 L750.5,1611.8 L753.1,1609.9 L755.8,1609.7 L758.4,1607.5 L761.0,1604.9 L763.8,1604.4 L766.6,1600.8 L769.4,1598.2 L772.2,1597.7 L775.0,1593.3 L777.8,1591.6 L780.5,1588.7 L783.2,1587.0 L785.9,1584.0 L788.6,1581.2 L791.3,1580.4 L793.8,1578.1 L796.3,1579.0 L798.8,1577.7 L801.4,1575.7 L803.9,1576.1 L806.4,1575.2 L809.4,1578.3 L812.3,1583.2 L815.2,1589.0 L818.2,1593.5 L821.0,1594.1 L823.8,1597.3 L826.6,1597.7 L829.4,1597.4 L832.2,1599.2 L835.0,1599.6 L837.7,1601.5 L840.4,1604.6 L843.1,1608.1 L845.8,1609.2 L848.5,1613.0 L851.2,1612.8 L853.9,1613.9 L856.6,1615.8 L859.3,1617.5 L862.0,1616.9 L864.6,1617.5 L867.2,1618.7 L869.8,1617.9 L872.4,1617.7 L874.9,1617.6 L877.5,1618.5 L880.1,1619.0 L882.7,1619.0 L885.3,1618.3 L887.9,1618.1 L890.5,1620.3 L893.1,1619.8 L895.6,1620.3 L898.2,1620.4 L900.8,1619.6 L903.4,1619.1 L906.0,1620.9 L908.6,1620.9 L911.2,1619.1 L913.8,1620.4 L916.4,1620.2 L918.9,1619.2 L921.5,1620.5 L924.1,1620.7 L926.7,1620.3 L929.3,1620.0 L931.8,1621.4 L934.3,1621.0 L936.9,1620.2 L939.4,1621.3 L941.9,1621.7 L944.4,1620.6 L947.0,1621.0 L949.5,1620.0 L952.0,1620.2 L954.5,1621.8 L957.1,1622.1 L959.6,1622.1 L962.1,1620.4 L964.6,1621.6 L967.2,1621.0 L969.7,1620.6 L972.2,1622.2 L974.8,1620.4 L977.3,1620.4 L979.8,1621.1 L982.3,1620.6 L984.9,1621.2 L987.4,1621.7 L989.9,1621.5 L992.4,1622.4 L995.0,1621.5 L997.5,1620.7 L1000.0,1621.6 L1002.5,1620.4 L1005.0,1621.8 L1007.5,1620.7 L1010.0,1621.5 L1012.6,1621.3 L1015.1,1622.4 L1017.6,1620.6 L1020.1,1620.9 L1022.6,1621.0 L1025.1,1621.4 L1027.6,1621.1 L1030.1,1622.4 L1032.7,1622.2 L1035.2,1622.2 L1037.7,1621.6 L1040.2,1621.8 L1042.7,1621.2 L1045.2,1620.4 L1047.7,1620.2 L1050.2,1620.2 L1052.7,1621.4 L1055.3,1621.2 L1057.8,1619.7 L1060.3,1620.2 L1062.8,1619.6 L1065.3,1620.6 L1067.8,1619.9 L1070.3,1619.8 L1072.8,1619.0 L1075.4,1618.3 L1077.9,1617.6 L1080.4,1617.4 L1082.9,1614.9 L1085.4,1615.5 L1087.9,1614.3 L1090.5,1614.1 L1093.0,1612.1 L1095.5,1612.1 L1098.0,1613.3 L1100.5,1613.4 L1103.1,1611.9 L1105.6,1612.1 L1108.2,1612.0 L1110.7,1612.0 L1113.2,1613.4 L1115.8,1612.4 L1118.3,1612.2 L1120.8,1613.3 L1123.4,1612.7 L1125.9,1613.4 L1128.5,1612.7 L1131.0,1612.3 L1133.5,1611.5 L1136.1,1612.4 L1138.6,1612.4 L1141.2,1612.7 L1143.7,1613.2 L1146.3,1612.1 L1148.8,1612.5 L1151.4,1613.1 L1154.0,1613.4 L1156.6,1613.1 L1159.1,1611.9 L1161.7,1613.1 L1164.3,1612.8 L1166.8,1612.0 L1169.4,1612.5 L1172.0,1613.0 L1174.6,1613.1 L1177.1,1611.8 L1179.7,1612.4 L1182.2,1612.7 L1184.7,1611.4 L1187.2,1612.3 L1189.7,1611.9 L1192.2,1610.9 L1194.7,1611.2 L1197.3,1609.2 L1199.8,1608.6 L1202.3,1609.6 L1204.8,1608.3 L1207.3,1606.6 L1209.8,1607.3 L1212.3,1607.0 L1214.8,1608.4 L1217.4,1609.5 L1219.9,1608.7 L1222.5,1611.2 L1225.0,1613.0 L1227.6,1612.6 L1230.1,1614.4 L1232.7,1614.3 L1235.2,1615.3 L1238.1,1614.6 L1241.1,1612.0 L1244.0,1607.7 L1247.0,1605.7 L1249.9,1604.3 L1252.8,1608.2 L1255.7,1618.1 L1258.5,1628.3 L1261.4,1632.6 L1264.3,1628.6 L1267.3,1621.7 L1270.2,1611.7 L1273.2,1604.1 L1276.1,1600.3 L1278.8,1607.2 L1281.5,1618.1 L1284.2,1625.4 L1289.1,1591.1 L1294.0,1625.1 L1296.9,1626.0 L1299.8,1625.2 L1302.6,1623.7 L1305.5,1622.2 L1309.0,1560.0 L1311.5,1400.0 L1313.5,1337.0 L1316.0,1340.0 L1317.5,1450.0 L1318.5,1640.0" stroke="#FF8000" stroke-width="6.6" fill="none" stroke-linejoin="round" stroke-linecap="butt"/>
<path d="M131.5,1546.9 L134.0,1546.1 L136.6,1546.4 L139.1,1546.9 L141.6,1544.7 L144.2,1545.9 L146.7,1546.8 L149.3,1546.7 L151.8,1545.7 L154.3,1544.3 L156.9,1545.1 L159.4,1547.0 L161.9,1544.0 L164.5,1544.7 L167.0,1546.8 L169.6,1545.1 L172.1,1544.3 L174.6,1544.6 L177.2,1546.6 L179.7,1544.6 L182.2,1544.9 L184.8,1545.6 L187.3,1546.2 L189.9,1545.1 L192.4,1543.7 L194.9,1545.3 L197.5,1543.4 L200.0,1543.6 L202.5,1543.9 L205.0,1545.6 L207.5,1544.2 L210.0,1545.5 L212.5,1543.7 L215.0,1543.5 L217.5,1543.2 L220.0,1545.5 L222.5,1545.9 L225.0,1543.7 L227.5,1543.7 L230.0,1542.9 L232.5,1545.0 L235.0,1543.8 L237.5,1543.2 L240.0,1544.9 L242.5,1544.7 L245.0,1544.2 L247.5,1543.1 L250.0,1544.7 L252.5,1544.4 L255.0,1543.9 L257.5,1542.9 L260.0,1545.5 L262.5,1545.2 L265.0,1544.6 L267.5,1545.5 L270.0,1544.1 L272.5,1543.2 L275.0,1542.4 L277.5,1544.0 L280.0,1543.6 L282.5,1543.3 L285.0,1545.1 L287.5,1544.5 L290.0,1542.0 L292.5,1544.5 L295.0,1541.4 L297.5,1543.6 L300.0,1542.4 L302.5,1543.7 L305.0,1544.4 L307.5,1542.9 L310.0,1543.6 L312.5,1541.1 L315.0,1543.2 L317.5,1541.2 L320.0,1542.3 L322.5,1541.8 L325.0,1540.8 L327.5,1543.1 L330.0,1540.8 L332.5,1541.2 L335.0,1540.6 L337.5,1542.4 L340.0,1541.1 L342.5,1540.1 L345.0,1539.9 L347.5,1540.5 L350.0,1541.3 L352.5,1539.5 L355.0,1539.4 L357.5,1541.5 L360.0,1540.8 L362.5,1539.3 L365.0,1539.8 L367.5,1538.9 L370.0,1539.2 L372.5,1539.4 L375.0,1538.6 L377.5,1538.3 L380.0,1538.2 L382.6,1537.9 L385.2,1537.8 L387.8,1537.8 L390.4,1535.6 L393.0,1533.7 L395.6,1531.1 L398.2,1530.9 L400.8,1532.2 L403.3,1531.5 L405.9,1533.5 L408.4,1534.2 L411.0,1532.8 L413.5,1533.6 L416.1,1533.8 L418.6,1535.2 L421.1,1532.8 L423.7,1532.1 L426.2,1532.3 L428.8,1528.4 L431.3,1528.2 L433.9,1524.2 L436.4,1523.9 L439.0,1521.4 L441.5,1519.1 L444.1,1519.7 L446.6,1517.5 L449.2,1518.7 L451.7,1516.5 L454.3,1513.9 L457.2,1511.2 L460.2,1503.3 L463.2,1496.0 L466.1,1484.8 L469.1,1463.8 L472.1,1447.8 L475.1,1446.1 L478.0,1441.6 L481.0,1441.2 L483.9,1426.9 L486.9,1413.7 L489.9,1398.4 L492.9,1383.2 L497.3,1364.3 L500.3,1368.8 L503.3,1373.0 L508.0,1366.3 L510.9,1369.4 L513.7,1380.2 L516.6,1390.4 L519.6,1398.8 L522.5,1411.4 L525.5,1418.5 L528.0,1423.4 L530.5,1429.8 L533.0,1432.1 L536.0,1428.5 L538.9,1429.0 L541.9,1424.1 L544.8,1417.5 L547.8,1406.2 L550.5,1403.5 L553.2,1397.3 L555.8,1393.2 L558.5,1389.0 L561.2,1384.9 L564.9,1375.6 L568.6,1370.9 L571.6,1366.4 L574.5,1365.7 L577.5,1364.4 L580.1,1359.1 L582.7,1353.0 L585.3,1342.7 L587.9,1341.6 L590.8,1345.4 L593.8,1355.2 L596.8,1372.6 L599.8,1398.1 L602.8,1433.1 L605.7,1465.9 L608.7,1481.3 L611.6,1493.0 L614.6,1502.7 L617.6,1510.9 L620.6,1517.2 L623.6,1517.2 L626.5,1514.9 L629.5,1515.5 L632.5,1512.4 L635.5,1513.1 L638.4,1511.8 L641.4,1510.3 L644.3,1511.6 L647.3,1512.1 L650.3,1513.2 L653.2,1517.0 L656.2,1521.2 L659.2,1513.3 L662.1,1503.8 L665.1,1514.6 L668.1,1526.2 L670.8,1526.7 L673.5,1526.8 L676.3,1527.1 L679.1,1529.2 L681.9,1530.7 L684.7,1531.9 L687.5,1532.6 L690.3,1532.6 L693.2,1529.9 L696.2,1526.3 L699.1,1521.0 L702.1,1519.4 L705.0,1518.7 L708.0,1521.9 L711.0,1520.4 L713.9,1524.2 L716.4,1524.9 L719.0,1528.6 L721.5,1531.0 L724.0,1530.2 L726.5,1531.4 L729.0,1534.6 L731.5,1534.2 L734.1,1532.7 L736.6,1533.7 L739.1,1533.2 L741.7,1533.3 L744.4,1530.6 L747.0,1527.8 L749.7,1524.6 L752.3,1522.6 L755.0,1519.9 L757.6,1516.1 L760.1,1514.0 L762.6,1511.3 L765.2,1506.9 L767.7,1506.2 L770.2,1502.6 L772.8,1499.3 L775.3,1497.8 L777.8,1492.4 L780.3,1488.2 L782.8,1482.4 L785.4,1475.7 L787.9,1471.2 L790.6,1469.7 L793.3,1468.6 L796.0,1467.2 L798.7,1467.2 L801.4,1465.8 L804.3,1468.3 L807.2,1468.6 L810.2,1468.6 L813.1,1469.0 L816.5,1489.9 L819.1,1494.5 L821.8,1495.8 L824.4,1496.0 L827.1,1497.0 L829.7,1495.4 L832.4,1496.8 L835.0,1499.1 L838.4,1507.9 L841.8,1517.3 L844.3,1520.6 L846.8,1525.9 L849.4,1526.8 L851.9,1530.8 L854.4,1533.9 L857.0,1533.3 L859.5,1535.2 L862.0,1535.9 L864.6,1535.8 L867.2,1538.2 L869.8,1538.2 L872.3,1535.8 L874.9,1535.7 L877.5,1537.5 L880.1,1537.3 L882.7,1535.8 L885.3,1538.7 L887.8,1538.8 L890.4,1537.9 L893.0,1536.4 L895.6,1537.0 L898.2,1539.4 L900.8,1539.1 L903.4,1538.7 L906.0,1540.7 L908.6,1538.1 L911.2,1540.7 L913.7,1541.7 L916.3,1542.1 L918.9,1540.1 L921.5,1542.6 L924.1,1542.5 L926.7,1543.1 L929.3,1541.8 L931.8,1544.9 L934.3,1545.2 L936.9,1542.7 L939.4,1544.5 L941.9,1544.8 L944.4,1544.8 L947.0,1544.8 L949.5,1544.8 L952.0,1546.8 L954.5,1546.4 L957.1,1546.5 L959.6,1546.9 L962.1,1546.4 L964.6,1548.7 L967.2,1548.5 L969.7,1547.0 L972.2,1547.3 L974.8,1548.1 L977.3,1548.5 L979.8,1549.5 L982.3,1549.5 L984.8,1546.3 L987.4,1548.7 L989.9,1545.4 L992.4,1546.9 L995.0,1547.1 L997.5,1544.6 L1000.0,1544.5 L1002.5,1543.7 L1005.0,1544.7 L1007.5,1545.7 L1010.1,1542.7 L1012.6,1545.0 L1015.1,1543.5 L1017.6,1545.1 L1020.1,1543.6 L1022.6,1543.0 L1025.2,1542.2 L1027.7,1543.9 L1030.2,1542.3 L1032.7,1542.8 L1035.2,1542.3 L1037.7,1542.5 L1040.2,1540.4 L1042.7,1539.4 L1045.2,1539.3 L1047.7,1540.4 L1050.3,1538.3 L1052.8,1537.6 L1055.3,1538.3 L1057.8,1538.9 L1060.3,1536.9 L1062.8,1536.9 L1065.3,1535.9 L1067.8,1538.4 L1070.3,1537.7 L1072.8,1537.5 L1075.4,1535.8 L1077.9,1534.5 L1080.4,1533.6 L1082.9,1533.4 L1085.4,1534.4 L1087.9,1533.2 L1090.5,1531.5 L1093.0,1533.8 L1095.5,1533.6 L1098.0,1530.6 L1100.5,1530.9 L1103.0,1532.3 L1105.5,1532.2 L1108.1,1533.4 L1110.6,1531.3 L1113.1,1533.9 L1115.6,1531.8 L1118.1,1531.1 L1120.6,1533.9 L1123.2,1533.2 L1125.7,1533.3 L1128.2,1531.2 L1130.7,1533.9 L1133.6,1532.0 L1136.4,1533.5 L1139.3,1536.0 L1142.1,1534.3 L1145.0,1534.4 L1147.5,1535.5 L1150.0,1533.0 L1152.5,1532.5 L1155.0,1531.6 L1157.8,1530.7 L1160.5,1534.4 L1163.3,1534.4 L1166.6,1539.6 L1169.9,1540.3 L1173.2,1530.1 L1176.4,1520.2 L1179.2,1525.9 L1182.0,1532.8 L1184.5,1535.8 L1187.0,1537.7 L1189.5,1538.9 L1192.8,1528.2 L1196.0,1520.4 L1198.5,1525.4 L1201.0,1535.0 L1205.8,1545.1 L1209.0,1530.9 L1212.3,1520.9 L1217.0,1536.3 L1219.6,1540.5 L1222.2,1544.4 L1225.5,1532.3 L1228.7,1523.7 L1231.3,1528.6 L1234.0,1538.8 L1236.6,1542.4 L1239.1,1544.4 L1241.7,1543.7 L1246.0,1531.1 L1248.8,1518.9 L1251.6,1509.4 L1254.9,1520.6 L1258.1,1538.8 L1261.4,1550.1 L1264.1,1549.2 L1266.8,1546.8 L1269.6,1544.6 L1272.3,1542.3 L1275.0,1540.7 L1277.7,1538.3 L1281.0,1532.9 L1284.2,1526.6 L1287.5,1514.3 L1292.0,1470.0 L1295.7,1456.0 L1299.0,1540.0 L1303.6,1562.0 L1308.0,1520.0 L1312.4,1440.0 L1315.5,1480.0 L1318.2,1795.0" stroke="#80FFFF" stroke-width="6.6" fill="none" stroke-linejoin="round" stroke-linecap="butt"/>
<path d="M138.0,3362.2V3379.6M248.7,3362.2V3371.0M359.4,3362.2V3379.6M470.0,3362.2V3371.0M580.7,3362.2V3379.6M691.4,3362.2V3371.0M802.1,3362.2V3379.6M912.8,3362.2V3371.0M1023.4,3362.2V3379.6M1134.1,3362.2V3371.0M1244.8,3362.2V3379.6M1355.5,3362.2V3371.0" stroke="#000" stroke-width="5.5" fill="none"/>
<rect x="138" y="2447.8" width="1218" height="914.3999999999996" fill="none" stroke="#000" stroke-width="5.8"/>
<text x="84.92" y="3433.49" font-size="50.67" textLength="105.89" lengthAdjust="spacingAndGlyphs">2000</text>
<text x="305.29" y="3433.49" font-size="50.67" textLength="105.89" lengthAdjust="spacingAndGlyphs">1800</text>
<text x="526.65" y="3433.49" font-size="50.67" textLength="105.89" lengthAdjust="spacingAndGlyphs">1600</text>
<text x="748.01" y="3433.49" font-size="50.67" textLength="105.89" lengthAdjust="spacingAndGlyphs">1400</text>
<text x="969.37" y="3433.49" font-size="50.67" textLength="105.89" lengthAdjust="spacingAndGlyphs">1200</text>
<text x="1190.73" y="3433.49" font-size="50.67" textLength="105.89" lengthAdjust="spacingAndGlyphs">1000</text>
<g transform="translate(513.20,0) scale(1.0152,1)"><text x="-0.89" y="3510.70" font-size="59.50">Wavenumber (cm</text><rect x="455.38" y="3471.49" width="28.80" height="5.53" fill="#000"/><text x="478.93" y="3486.60" font-size="39.57">1</text><text x="496.53" y="3510.70" font-size="59.50">)</text></g>
<text transform="translate(75.40,3095.07) rotate(-90)" font-size="60.74">Intensity (a.u.)</text>
<text x="146.49" y="2529.51" font-size="78.66" textLength="60.81" lengthAdjust="spacingAndGlyphs">C</text>
<path d="M266,2479.6V2592" stroke="#000" stroke-width="5.7"/>
<text x="283.93" y="2550.92" font-size="38.97" textLength="107.53" lengthAdjust="spacingAndGlyphs">0.0025</text>
<text x="165.19" y="2850.51" font-size="39.11" textLength="40.32" lengthAdjust="spacingAndGlyphs">60</text>
<text x="164.98" y="2908.51" font-size="38.67" textLength="40.54" lengthAdjust="spacingAndGlyphs">50</text>
<text x="166.11" y="2963.22" font-size="38.37" textLength="39.37" lengthAdjust="spacingAndGlyphs">40</text>
<text x="165.08" y="3016.71" font-size="38.96" textLength="40.43" lengthAdjust="spacingAndGlyphs">30</text>
<text x="163.27" y="3076.42" font-size="38.37" textLength="40.65" lengthAdjust="spacingAndGlyphs">20</text>
<text x="162.61" y="3134.01" font-size="39.11" textLength="42.38" lengthAdjust="spacingAndGlyphs">10</text>
<text x="174.02" y="3182.80" font-size="40.30" textLength="20.95" lengthAdjust="spacingAndGlyphs">5</text>
<text x="175.13" y="3231.50" font-size="38.79" textLength="20.84" lengthAdjust="spacingAndGlyphs">2</text>
<text x="175.42" y="3279.90" font-size="38.94" textLength="18.64" lengthAdjust="spacingAndGlyphs">1</text>
<text x="173.38" y="3326.82" font-size="38.07" textLength="20.24" lengthAdjust="spacingAndGlyphs">0</text>
<path d="M515.7,2720V3092.1" stroke="#000" stroke-width="5.5" stroke-dasharray="23.6 20.2"/>
<path d="M580.8,2528V3162.4" stroke="#000" stroke-width="5.5" stroke-dasharray="23.6 20.2"/>
<path d="M607,2562V3153.9" stroke="#000" stroke-width="5.5" stroke-dasharray="23.6 20.2"/>
<path d="M729.2,2826.7V3067.4" stroke="#000" stroke-width="5.5" stroke-dasharray="23.6 20.2"/>
<path d="M828,2781.7V3153.9" stroke="#000" stroke-width="5.5" stroke-dasharray="23.6 20.2"/>
<path d="M858.6,2717.3V3176.7" stroke="#000" stroke-width="5.5" stroke-dasharray="23.6 20.2"/>
<path d="M1049,2820.5V3172.8" stroke="#000" stroke-width="5.5" stroke-dasharray="23.6 20.2"/>
<path d="M1300.2,2830.1V3160.7" stroke="#000" stroke-width="5.5" stroke-dasharray="23.6 20.2"/>
<path d="M1332.8,2795.1V3168.3" stroke="#000" stroke-width="5.5" stroke-dasharray="23.6 20.2"/>
<text x="467.21" y="2709.43" font-size="37.17" textLength="79.79" lengthAdjust="spacingAndGlyphs">1655</text>
<text x="532.18" y="2513.01" font-size="38.96" textLength="78.09" lengthAdjust="spacingAndGlyphs">1599</text>
<text x="603.59" y="2551.11" font-size="39.10" textLength="77.78" lengthAdjust="spacingAndGlyphs">1577</text>
<text x="687.16" y="2812.24" font-size="36.30" textLength="78.52" lengthAdjust="spacingAndGlyphs">1468</text>
<text x="758.78" y="2767.14" font-size="36.28" textLength="77.89" lengthAdjust="spacingAndGlyphs">1377</text>
<text x="819.72" y="2700.23" font-size="37.17" textLength="79.47" lengthAdjust="spacingAndGlyphs">1352</text>
<text x="1006.16" y="2803.83" font-size="36.73" textLength="78.85" lengthAdjust="spacingAndGlyphs">1176</text>
<text x="1251.54" y="2818.42" font-size="38.22" textLength="57.92" lengthAdjust="spacingAndGlyphs">968</text>
<text x="1289.73" y="2777.81" font-size="39.11" textLength="58.54" lengthAdjust="spacingAndGlyphs">930</text>
<path d="M141.0,3333.4 L143.5,3333.4 L146.0,3333.4 L148.5,3333.4 L151.0,3333.4 L153.5,3333.4 L156.0,3333.4 L158.5,3333.4 L161.0,3333.4 L163.5,3333.4 L166.0,3333.4 L168.5,3333.5 L171.0,3333.5 L173.5,3333.5 L176.0,3333.5 L178.6,3333.5 L181.1,3333.5 L183.6,3333.5 L186.1,3333.5 L188.6,3333.5 L191.1,3333.5 L193.6,3333.5 L196.1,3333.5 L198.6,3333.5 L201.1,3333.5 L203.6,3333.5 L206.1,3333.5 L208.6,3333.5 L211.1,3333.5 L213.6,3333.5 L216.1,3333.5 L218.6,3333.5 L221.1,3333.5 L223.6,3333.6 L226.1,3333.6 L228.6,3333.6 L231.1,3333.6 L233.6,3333.6 L236.1,3333.6 L238.6,3333.6 L241.1,3333.6 L243.6,3333.6 L246.1,3333.6 L248.7,3333.6 L251.2,3333.6 L253.7,3333.6 L256.2,3333.6 L258.7,3333.6 L261.2,3333.6 L263.7,3333.6 L266.2,3333.6 L268.7,3333.6 L271.2,3333.6 L273.7,3333.6 L276.2,3333.6 L278.7,3333.6 L281.2,3333.6 L283.7,3333.6 L286.2,3333.7 L288.7,3333.7 L291.2,3333.7 L293.7,3333.7 L296.2,3333.7 L298.7,3333.7 L301.2,3333.7 L303.7,3333.7 L306.2,3333.7 L308.7,3333.7 L311.2,3333.7 L313.7,3333.7 L316.2,3333.7 L318.8,3333.7 L321.3,3333.7 L323.8,3333.7 L326.3,3333.7 L328.8,3333.7 L331.3,3333.7 L333.8,3333.7 L336.3,3333.7 L338.8,3333.7 L341.3,3333.7 L343.8,3333.7 L346.3,3333.7 L348.8,3333.7 L351.3,3333.7 L353.8,3333.7 L356.3,3333.7 L358.8,3333.7 L361.3,3333.8 L363.8,3333.8 L366.3,3333.8 L368.8,3333.8 L371.3,3333.8 L373.8,3333.8 L376.3,3333.8 L378.8,3333.8 L381.3,3333.8 L383.8,3333.8 L386.3,3333.8 L388.9,3333.8 L391.4,3333.8 L393.9,3333.8 L396.4,3333.8 L398.9,3333.8 L401.4,3333.8 L403.9,3333.8 L406.4,3333.8 L408.9,3333.8 L411.4,3333.8 L413.9,3333.8 L416.4,3333.8 L418.9,3333.8 L421.4,3333.8 L423.9,3333.8 L426.4,3333.8 L428.9,3333.8 L431.4,3333.8 L433.9,3333.8 L436.4,3333.8 L438.9,3333.8 L441.4,3333.8 L443.9,3333.8 L446.4,3333.8 L448.9,3333.9 L451.4,3333.9 L453.9,3333.9 L456.4,3333.9 L459.0,3333.9 L461.5,3333.9 L464.0,3333.9 L466.5,3333.9 L469.0,3333.9 L471.5,3333.9 L474.0,3333.9 L476.5,3333.9 L479.0,3333.9 L481.5,3333.9 L484.0,3333.9 L486.5,3333.9 L489.0,3333.9 L491.5,3333.9 L494.0,3333.9 L496.5,3333.9 L499.0,3333.9 L501.5,3333.9 L504.0,3333.9 L506.5,3333.9 L509.0,3333.9 L511.5,3333.9 L514.0,3333.9 L516.5,3333.9 L519.0,3333.9 L521.5,3333.9 L524.0,3333.9 L526.5,3333.9 L529.0,3333.9 L531.6,3333.9 L534.1,3333.9 L536.6,3333.9 L539.1,3333.9 L541.6,3333.9 L544.1,3333.9 L546.6,3333.9 L549.1,3333.9 L551.6,3333.9 L554.1,3333.9 L556.6,3333.9 L559.1,3333.9 L561.6,3333.9 L564.1,3333.9 L566.6,3334.0 L569.1,3334.0 L571.6,3334.0 L574.1,3334.0 L576.6,3334.0 L579.1,3334.0 L581.6,3334.0 L584.1,3334.0 L586.6,3334.0 L589.1,3334.0 L591.6,3334.0 L594.1,3334.0 L596.6,3334.0 L599.1,3334.0 L601.7,3334.0 L604.2,3334.0 L606.7,3334.0 L609.2,3334.0 L611.7,3334.0 L614.2,3334.0 L616.7,3334.0 L619.2,3334.0 L621.7,3334.0 L624.2,3334.0 L626.7,3334.0 L629.2,3334.0 L631.7,3334.0 L634.2,3334.0 L636.7,3334.0 L639.2,3334.0 L641.7,3334.0 L644.2,3334.0 L646.7,3334.0 L649.2,3334.0 L651.7,3334.0 L654.2,3334.0 L656.7,3334.0 L659.2,3334.0 L661.7,3334.0 L664.2,3334.0 L666.7,3334.0 L669.2,3334.0 L671.8,3334.0 L674.3,3334.0 L676.8,3334.0 L679.3,3334.0 L681.8,3334.0 L684.3,3334.0 L686.8,3334.0 L689.3,3334.0 L691.8,3334.0 L694.3,3334.0 L696.8,3334.0 L699.3,3334.0 L701.8,3334.0 L704.3,3334.0 L706.8,3334.0 L709.3,3334.0 L711.8,3334.0 L714.3,3334.0 L716.8,3334.0 L719.3,3334.0 L721.8,3334.0 L724.3,3334.0 L726.8,3334.0 L729.3,3334.0 L731.8,3334.0 L734.3,3334.0 L736.8,3334.0 L739.3,3334.0 L741.9,3334.0 L744.4,3334.0 L746.9,3334.0 L749.4,3334.0 L751.9,3334.0 L754.4,3334.0 L756.9,3334.0 L759.4,3334.0 L761.9,3334.1 L764.4,3334.1 L766.9,3334.1 L769.4,3334.1 L771.9,3334.1 L774.4,3334.1 L776.9,3334.1 L779.4,3334.1 L781.9,3334.1 L784.4,3334.1 L786.9,3334.1 L789.4,3334.1 L791.9,3334.1 L794.4,3334.1 L796.9,3334.1 L799.4,3334.1 L801.9,3334.1 L804.4,3334.1 L806.9,3334.1 L809.4,3334.1 L812.0,3334.1 L814.5,3334.1 L817.0,3334.1 L819.5,3334.1 L822.0,3334.1 L824.5,3334.1 L827.0,3334.1 L829.5,3334.1 L832.0,3334.1 L834.5,3334.1 L837.0,3334.1 L839.5,3334.1 L842.0,3334.1 L844.5,3334.1 L847.0,3334.1 L849.5,3334.1 L852.0,3334.1 L854.5,3334.1 L857.0,3334.1 L859.5,3334.1 L862.0,3334.1 L864.5,3334.1 L867.0,3334.1 L869.5,3334.1 L872.0,3334.1 L874.5,3334.1 L877.0,3334.1 L879.5,3334.1 L882.0,3334.1 L884.6,3334.1 L887.1,3334.1 L889.6,3334.1 L892.1,3334.1 L894.6,3334.1 L897.1,3334.1 L899.6,3334.1 L902.1,3334.1 L904.6,3334.1 L907.1,3334.1 L909.6,3334.0 L912.1,3334.2 L914.6,3334.2 L917.1,3334.3 L919.6,3334.3 L922.1,3333.8 L924.6,3334.1 L927.1,3333.7 L929.6,3334.4 L932.1,3334.3 L934.6,3334.4 L937.1,3333.7 L939.6,3333.6 L942.1,3334.5 L944.6,3334.2 L947.1,3334.2 L949.6,3334.1 L952.1,3334.5 L954.7,3333.9 L957.2,3333.8 L959.7,3333.9 L962.2,3333.8 L964.7,3334.2 L967.2,3334.6 L969.7,3333.6 L972.2,3333.6 L974.7,3334.1 L977.2,3334.3 L979.7,3333.7 L982.2,3333.8 L984.7,3333.6 L987.2,3333.5 L989.7,3334.1 L992.2,3334.3 L994.7,3334.3 L997.2,3333.7 L999.7,3333.6 L1002.2,3334.6 L1004.7,3334.1 L1007.2,3334.0 L1009.7,3334.3 L1012.2,3334.4 L1014.7,3334.1 L1017.2,3333.6 L1019.7,3334.5 L1022.2,3333.8 L1024.8,3333.5 L1027.3,3333.9 L1029.8,3334.1 L1032.3,3334.3 L1034.8,3333.7 L1037.3,3334.3 L1039.8,3334.1 L1042.3,3333.7 L1044.8,3334.5 L1047.3,3334.5 L1049.8,3334.6 L1052.3,3334.3 L1054.8,3333.8 L1057.3,3334.4 L1059.8,3334.6 L1062.3,3334.1 L1064.8,3334.6 L1067.3,3334.7 L1069.8,3334.0 L1072.3,3334.6 L1074.8,3334.6 L1077.3,3334.5 L1079.8,3333.5 L1082.3,3333.9 L1084.8,3334.2 L1087.3,3334.2 L1089.8,3334.4 L1092.3,3334.3 L1094.9,3333.7 L1097.4,3334.6 L1099.9,3334.1 L1102.4,3334.6 L1104.9,3333.7 L1107.4,3334.7 L1109.9,3334.2 L1112.4,3334.4 L1114.9,3334.4 L1117.4,3334.6 L1119.9,3333.9 L1122.4,3333.6 L1124.9,3334.0 L1127.4,3333.7 L1129.9,3334.1 L1132.4,3334.5 L1134.9,3333.9 L1137.4,3333.7 L1139.9,3333.5 L1142.4,3334.0 L1144.9,3334.2 L1147.4,3333.5 L1149.9,3334.3 L1152.4,3333.8 L1154.9,3333.6 L1157.4,3334.6 L1159.9,3334.1 L1162.4,3334.6 L1165.0,3334.1 L1167.5,3333.6 L1170.0,3333.8 L1172.5,3334.0 L1175.0,3334.3 L1177.5,3334.4 L1180.0,3334.4 L1182.5,3334.3 L1185.0,3333.8 L1187.5,3334.0 L1190.0,3334.0 L1192.5,3334.1 L1195.0,3333.8 L1197.5,3334.1 L1200.0,3334.1 L1202.5,3333.5 L1205.0,3334.5 L1207.5,3334.2 L1210.0,3334.5 L1212.5,3334.4 L1215.0,3334.4 L1217.5,3334.7 L1220.0,3333.9 L1222.5,3334.0 L1225.0,3333.5 L1227.5,3334.3 L1230.0,3334.2 L1232.5,3334.2 L1235.0,3334.7 L1237.5,3333.7 L1240.0,3333.7 L1242.5,3334.3 L1245.0,3334.4 L1247.5,3334.0 L1250.0,3333.5 L1252.5,3333.9 L1255.0,3334.4 L1257.5,3334.0 L1260.0,3334.0 L1262.5,3333.9 L1265.0,3334.2 L1267.5,3334.1 L1270.0,3334.2 L1272.5,3334.4 L1275.0,3334.3 L1277.5,3333.9 L1280.0,3333.7 L1282.7,3334.4 L1285.3,3334.4 L1288.0,3334.7 L1290.7,3333.9 L1293.3,3334.9 L1296.0,3335.1 L1298.7,3334.4 L1301.4,3334.9 L1304.0,3335.6 L1306.7,3335.4 L1310.3,3337.6 L1313.9,3338.1 L1316.9,3336.5 L1319.8,3332.2 L1322.8,3330.1 L1325.4,3334.0 L1328.1,3338.4 L1331.7,3337.3 L1335.3,3334.6 L1338.8,3333.6 L1342.4,3332.0 L1344.9,3331.7 L1347.5,3330.8 L1350.0,3330.1 L1353.0,3329.7 L1356.0,3330.0" stroke="#000000" stroke-width="6.6" fill="none" stroke-linejoin="round" stroke-linecap="butt"/>
<path d="M141.0,3290.9 L143.5,3290.9 L146.0,3290.9 L148.5,3290.9 L151.0,3290.9 L153.5,3290.9 L156.0,3290.9 L158.5,3290.9 L161.0,3290.9 L163.5,3290.9 L166.0,3290.9 L168.5,3290.9 L171.0,3290.9 L173.5,3290.9 L176.0,3290.9 L178.6,3290.9 L181.1,3290.9 L183.6,3290.9 L186.1,3290.9 L188.6,3290.9 L191.1,3290.9 L193.6,3290.9 L196.1,3290.9 L198.6,3290.9 L201.1,3290.9 L203.6,3290.9 L206.1,3290.9 L208.6,3290.9 L211.1,3290.9 L213.6,3290.9 L216.1,3290.9 L218.6,3290.9 L221.1,3290.9 L223.6,3290.9 L226.1,3290.9 L228.6,3290.9 L231.1,3290.9 L233.6,3290.9 L236.1,3290.9 L238.6,3290.9 L241.1,3290.9 L243.6,3290.9 L246.1,3290.9 L248.7,3290.9 L251.2,3290.9 L253.7,3290.9 L256.2,3290.9 L258.7,3290.9 L261.2,3290.9 L263.7,3290.9 L266.2,3290.9 L268.7,3290.9 L271.2,3290.9 L273.7,3290.9 L276.2,3290.9 L278.7,3290.9 L281.2,3290.9 L283.7,3290.9 L286.2,3290.9 L288.7,3290.9 L291.2,3290.9 L293.7,3290.9 L296.2,3290.9 L298.7,3290.9 L301.2,3290.9 L303.7,3290.9 L306.2,3290.9 L308.7,3290.9 L311.2,3290.9 L313.7,3290.9 L316.2,3290.9 L318.8,3290.9 L321.3,3290.9 L323.8,3290.9 L326.3,3290.9 L328.8,3290.9 L331.3,3290.9 L333.8,3290.9 L336.3,3290.9 L338.8,3290.9 L341.3,3290.9 L343.8,3290.9 L346.3,3290.9 L348.8,3290.9 L351.3,3290.9 L353.8,3290.9 L356.3,3290.9 L358.8,3290.9 L361.3,3290.9 L363.8,3290.9 L366.3,3290.9 L368.8,3290.9 L371.3,3290.9 L373.8,3290.9 L376.3,3290.9 L378.8,3290.9 L381.3,3290.9 L383.8,3290.9 L386.3,3290.9 L388.9,3290.9 L391.4,3290.9 L393.9,3290.9 L396.4,3290.9 L398.9,3290.9 L401.4,3290.9 L403.9,3290.9 L406.4,3290.9 L408.9,3290.9 L411.4,3290.9 L413.9,3290.9 L416.4,3290.9 L418.9,3290.9 L421.4,3290.9 L423.9,3290.9 L426.4,3290.9 L428.9,3290.9 L431.4,3290.9 L433.9,3290.9 L436.4,3290.9 L438.9,3290.9 L441.4,3290.9 L443.9,3290.9 L446.4,3290.9 L448.9,3290.9 L451.4,3290.9 L453.9,3290.9 L456.4,3290.9 L459.0,3290.9 L461.5,3290.9 L464.0,3290.9 L466.5,3290.9 L469.0,3290.9 L471.5,3290.9 L474.0,3290.9 L476.5,3290.9 L479.0,3290.9 L481.5,3290.9 L484.0,3290.9 L486.5,3290.9 L489.0,3290.9 L491.5,3290.9 L494.0,3290.9 L496.5,3290.9 L499.0,3290.9 L501.5,3290.9 L504.0,3290.9 L506.5,3290.9 L509.0,3290.9 L511.5,3290.9 L514.0,3290.9 L516.5,3290.9 L519.0,3290.9 L521.5,3290.9 L524.0,3290.9 L526.5,3290.9 L529.0,3290.9 L531.6,3290.9 L534.1,3290.9 L536.6,3290.9 L539.1,3290.9 L541.6,3290.9 L544.1,3290.9 L546.6,3290.9 L549.1,3290.9 L551.6,3290.9 L554.1,3290.9 L556.6,3290.9 L559.1,3290.9 L561.6,3290.9 L564.1,3290.9 L566.6,3290.9 L569.1,3290.9 L571.6,3290.9 L574.1,3290.9 L576.6,3290.9 L579.1,3290.9 L581.6,3290.9 L584.1,3290.9 L586.6,3290.9 L589.1,3290.9 L591.6,3290.9 L594.1,3290.9 L596.6,3290.9 L599.1,3290.9 L601.7,3290.9 L604.2,3290.9 L606.7,3290.9 L609.2,3290.9 L611.7,3290.9 L614.2,3290.9 L616.7,3290.9 L619.2,3290.9 L621.7,3290.9 L624.2,3290.9 L626.7,3290.9 L629.2,3290.9 L631.7,3290.9 L634.2,3290.9 L636.7,3290.9 L639.2,3290.9 L641.7,3290.9 L644.2,3290.9 L646.7,3290.9 L649.2,3290.9 L651.7,3290.9 L654.2,3290.9 L656.7,3290.9 L659.2,3291.0 L661.7,3291.0 L664.2,3291.0 L666.7,3291.0 L669.2,3291.0 L671.8,3291.0 L674.3,3291.0 L676.8,3291.0 L679.3,3291.0 L681.8,3291.0 L684.3,3291.0 L686.8,3291.0 L689.3,3291.0 L691.8,3291.0 L694.3,3291.0 L696.8,3291.0 L699.3,3291.0 L701.8,3291.0 L704.3,3291.0 L706.8,3291.0 L709.3,3291.0 L711.8,3291.0 L714.3,3291.0 L716.8,3291.0 L719.3,3291.0 L721.8,3291.0 L724.3,3291.0 L726.8,3291.0 L729.3,3291.0 L731.8,3291.0 L734.3,3291.0 L736.8,3291.0 L739.3,3291.0 L741.9,3291.0 L744.4,3291.0 L746.9,3291.0 L749.4,3291.0 L751.9,3291.0 L754.4,3291.0 L756.9,3291.0 L759.4,3291.0 L761.9,3291.0 L764.4,3291.0 L766.9,3291.0 L769.4,3291.0 L771.9,3291.0 L774.4,3291.0 L776.9,3291.0 L779.4,3291.0 L781.9,3291.0 L784.4,3291.0 L786.9,3291.0 L789.4,3291.0 L791.9,3291.0 L794.4,3291.0 L796.9,3291.0 L799.4,3291.0 L801.9,3291.0 L804.4,3291.0 L806.9,3291.0 L809.4,3291.0 L812.0,3291.0 L814.5,3291.0 L817.0,3291.0 L819.5,3291.0 L822.0,3291.0 L824.5,3291.0 L827.0,3291.0 L829.5,3291.0 L832.0,3291.0 L834.5,3291.0 L837.0,3291.0 L839.5,3291.0 L842.0,3291.0 L844.5,3291.0 L847.0,3291.0 L849.5,3291.0 L852.0,3291.0 L854.5,3291.0 L857.0,3291.0 L859.5,3291.0 L862.0,3291.0 L864.5,3291.0 L867.0,3291.0 L869.5,3291.0 L872.0,3291.0 L874.5,3291.0 L877.0,3291.0 L879.5,3291.0 L882.0,3291.0 L884.6,3291.0 L887.1,3291.0 L889.6,3291.0 L892.1,3291.0 L894.6,3291.0 L897.1,3291.0 L899.6,3291.0 L902.1,3291.0 L904.6,3291.0 L907.1,3291.0 L909.6,3290.9 L912.1,3291.1 L914.6,3290.8 L917.1,3291.1 L919.6,3290.9 L922.1,3291.2 L924.6,3290.8 L927.1,3291.2 L929.6,3291.2 L932.1,3290.8 L934.6,3290.7 L937.1,3290.9 L939.6,3291.2 L942.1,3290.8 L944.6,3290.5 L947.1,3291.0 L949.6,3291.4 L952.1,3290.6 L954.7,3291.6 L957.2,3291.1 L959.7,3290.6 L962.2,3290.6 L964.7,3290.9 L967.2,3291.0 L969.7,3290.7 L972.2,3290.6 L974.7,3291.1 L977.2,3290.8 L979.7,3291.0 L982.2,3291.0 L984.7,3291.3 L987.2,3291.2 L989.7,3290.7 L992.2,3290.7 L994.7,3291.5 L997.2,3290.5 L999.7,3290.6 L1002.2,3290.6 L1004.7,3291.5 L1007.2,3291.1 L1009.7,3291.6 L1012.2,3291.2 L1014.7,3290.9 L1017.2,3291.0 L1019.7,3291.4 L1022.2,3290.8 L1024.8,3291.5 L1027.3,3291.0 L1029.8,3290.5 L1032.3,3290.9 L1034.8,3291.2 L1037.3,3290.7 L1039.8,3291.6 L1042.3,3291.6 L1044.8,3291.1 L1047.3,3291.6 L1049.8,3291.3 L1052.3,3291.1 L1054.8,3290.7 L1057.3,3291.7 L1059.8,3291.6 L1062.3,3291.1 L1064.8,3291.0 L1067.3,3290.6 L1069.8,3291.3 L1072.3,3291.5 L1074.8,3291.0 L1077.3,3290.9 L1079.8,3291.3 L1082.3,3291.5 L1084.8,3290.7 L1087.3,3290.9 L1089.8,3291.3 L1092.3,3290.6 L1094.9,3291.5 L1097.4,3290.9 L1099.9,3291.5 L1102.4,3291.1 L1104.9,3290.7 L1107.4,3290.6 L1109.9,3290.7 L1112.4,3290.9 L1114.9,3291.5 L1117.4,3291.5 L1119.9,3291.3 L1122.4,3290.9 L1124.9,3291.3 L1127.4,3291.4 L1129.9,3291.0 L1132.4,3290.7 L1134.9,3291.1 L1137.4,3290.8 L1139.9,3290.8 L1142.4,3291.0 L1144.9,3290.7 L1147.4,3291.6 L1149.9,3290.9 L1152.4,3291.6 L1154.9,3291.5 L1157.4,3290.6 L1159.9,3291.7 L1162.4,3291.5 L1165.0,3291.2 L1167.5,3291.6 L1170.0,3291.2 L1172.5,3290.6 L1175.0,3290.8 L1177.5,3291.0 L1180.0,3291.6 L1182.5,3291.6 L1185.0,3290.7 L1187.5,3291.0 L1190.0,3290.7 L1192.5,3290.9 L1195.0,3291.0 L1197.5,3291.1 L1200.0,3290.8 L1202.5,3291.4 L1205.1,3290.9 L1207.6,3291.7 L1210.1,3291.2 L1212.7,3291.1 L1215.2,3291.5 L1217.8,3291.0 L1220.3,3290.9 L1222.8,3290.8 L1225.4,3291.0 L1227.9,3290.9 L1230.4,3291.5 L1233.0,3291.1 L1235.5,3291.5 L1238.0,3291.0 L1240.6,3290.8 L1243.1,3291.1 L1245.7,3291.2 L1248.2,3291.8 L1250.7,3291.0 L1253.3,3291.0 L1255.8,3290.9 L1258.3,3291.1 L1260.9,3292.0 L1263.4,3291.9 L1266.0,3291.1 L1268.5,3290.9 L1271.0,3291.5 L1273.6,3291.6 L1276.1,3291.1 L1278.6,3291.5 L1281.2,3291.9 L1283.7,3291.0 L1286.2,3291.9 L1288.8,3291.9 L1291.3,3292.1 L1293.9,3291.8 L1296.4,3291.8 L1298.9,3291.9 L1301.5,3291.5 L1304.0,3292.0 L1306.7,3292.3 L1309.3,3293.8 L1312.0,3295.5 L1315.2,3303.2 L1318.3,3309.4 L1321.0,3299.7 L1323.7,3289.4 L1328.0,3296.1 L1330.8,3300.9 L1333.5,3303.7 L1337.9,3291.7 L1341.5,3287.8 L1345.1,3285.8 L1348.0,3295.0 L1351.0,3318.0 L1355.3,3329.0" stroke="#FF0000" stroke-width="6.6" fill="none" stroke-linejoin="round" stroke-linecap="butt"/>
<path d="M141.0,3238.2 L143.5,3238.2 L146.0,3238.2 L148.5,3238.2 L151.0,3238.2 L153.5,3238.2 L156.0,3238.2 L158.5,3238.2 L161.0,3238.2 L163.5,3238.2 L166.0,3238.2 L168.5,3238.2 L171.0,3238.2 L173.5,3238.2 L176.0,3238.2 L178.6,3238.2 L181.1,3238.2 L183.6,3238.2 L186.1,3238.2 L188.6,3238.2 L191.1,3238.2 L193.6,3238.2 L196.1,3238.2 L198.6,3238.2 L201.1,3238.2 L203.6,3238.2 L206.1,3238.2 L208.6,3238.2 L211.1,3238.2 L213.6,3238.2 L216.1,3238.2 L218.6,3238.2 L221.1,3238.2 L223.6,3238.2 L226.1,3238.2 L228.6,3238.2 L231.1,3238.2 L233.6,3238.2 L236.1,3238.2 L238.6,3238.2 L241.1,3238.2 L243.6,3238.2 L246.1,3238.2 L248.7,3238.2 L251.2,3238.2 L253.7,3238.2 L256.2,3238.2 L258.7,3238.2 L261.2,3238.2 L263.7,3238.2 L266.2,3238.2 L268.7,3238.2 L271.2,3238.2 L273.7,3238.2 L276.2,3238.2 L278.7,3238.2 L281.2,3238.2 L283.7,3238.2 L286.2,3238.2 L288.7,3238.2 L291.2,3238.2 L293.7,3238.2 L296.2,3238.2 L298.7,3238.2 L301.2,3238.2 L303.7,3238.2 L306.2,3238.2 L308.7,3238.2 L311.2,3238.2 L313.7,3238.2 L316.2,3238.2 L318.8,3238.2 L321.3,3238.2 L323.8,3238.2 L326.3,3238.2 L328.8,3238.2 L331.3,3238.2 L333.8,3238.2 L336.3,3238.2 L338.8,3238.2 L341.3,3238.2 L343.8,3238.2 L346.3,3238.2 L348.8,3238.2 L351.3,3238.2 L353.8,3238.2 L356.3,3238.2 L358.8,3238.2 L361.3,3238.2 L363.8,3238.2 L366.3,3238.2 L368.8,3238.2 L371.3,3238.2 L373.8,3238.2 L376.3,3238.2 L378.8,3238.2 L381.3,3238.2 L383.8,3238.2 L386.3,3238.2 L388.9,3238.2 L391.4,3238.2 L393.9,3238.2 L396.4,3238.2 L398.9,3238.2 L401.4,3238.2 L403.9,3238.2 L406.4,3238.2 L408.9,3238.2 L411.4,3238.2 L413.9,3238.2 L416.4,3238.2 L418.9,3238.2 L421.4,3238.2 L423.9,3238.2 L426.4,3238.2 L428.9,3238.2 L431.4,3238.2 L433.9,3238.2 L436.4,3238.2 L438.9,3238.2 L441.4,3238.2 L443.9,3238.2 L446.4,3238.2 L448.9,3238.2 L451.4,3238.2 L453.9,3238.2 L456.4,3238.2 L459.0,3238.2 L461.5,3238.2 L464.0,3238.2 L466.5,3238.2 L469.0,3238.2 L471.5,3238.2 L474.0,3238.2 L476.5,3238.2 L479.0,3238.2 L481.5,3238.2 L484.0,3238.2 L486.5,3238.2 L489.0,3238.2 L491.5,3238.2 L494.0,3238.2 L496.5,3238.2 L499.0,3238.2 L501.5,3238.2 L504.0,3238.2 L506.5,3238.2 L509.0,3238.2 L511.5,3238.2 L514.0,3238.2 L516.5,3238.2 L519.0,3238.2 L521.5,3238.2 L524.0,3238.2 L526.5,3238.2 L529.0,3238.2 L531.6,3238.2 L534.1,3238.2 L536.6,3238.2 L539.1,3238.2 L541.6,3238.2 L544.1,3238.2 L546.6,3238.2 L549.1,3238.2 L551.6,3238.2 L554.1,3238.2 L556.6,3238.2 L559.1,3238.2 L561.6,3238.2 L564.1,3238.2 L566.6,3238.2 L569.1,3238.2 L571.6,3238.2 L574.1,3238.2 L576.6,3238.2 L579.1,3238.2 L581.6,3238.2 L584.1,3238.2 L586.6,3238.2 L589.1,3238.2 L591.6,3238.2 L594.1,3238.2 L596.6,3238.2 L599.1,3238.2 L601.7,3238.2 L604.2,3238.2 L606.7,3238.2 L609.2,3238.2 L611.7,3238.2 L614.2,3238.2 L616.7,3238.2 L619.2,3238.2 L621.7,3238.2 L624.2,3238.2 L626.7,3238.2 L629.2,3238.2 L631.7,3238.2 L634.2,3238.2 L636.7,3238.2 L639.2,3238.2 L641.7,3238.2 L644.2,3238.2 L646.7,3238.2 L649.2,3238.2 L651.7,3238.2 L654.2,3238.2 L656.7,3238.2 L659.2,3238.2 L661.7,3238.2 L664.2,3238.2 L666.7,3238.2 L669.2,3238.2 L671.8,3238.2 L674.3,3238.2 L676.8,3238.2 L679.3,3238.2 L681.8,3238.2 L684.3,3238.2 L686.8,3238.2 L689.3,3238.2 L691.8,3238.2 L694.3,3238.2 L696.8,3238.2 L699.3,3238.2 L701.8,3238.2 L704.3,3238.2 L706.8,3238.2 L709.3,3238.2 L711.8,3238.2 L714.3,3238.2 L716.8,3238.2 L719.3,3238.2 L721.8,3238.2 L724.3,3238.2 L726.8,3238.2 L729.3,3238.2 L731.8,3238.2 L734.3,3238.2 L736.8,3238.2 L739.3,3238.2 L741.9,3238.2 L744.4,3238.2 L746.9,3238.2 L749.4,3238.2 L751.9,3238.2 L754.4,3238.2 L756.9,3238.2 L759.4,3238.2 L761.9,3238.2 L764.4,3238.2 L766.9,3238.2 L769.4,3238.2 L771.9,3238.2 L774.4,3238.2 L776.9,3238.2 L779.4,3238.2 L781.9,3238.2 L784.4,3238.2 L786.9,3238.2 L789.4,3238.2 L791.9,3238.2 L794.4,3238.2 L796.9,3238.2 L799.4,3238.2 L801.9,3238.2 L804.4,3238.2 L806.9,3238.2 L809.4,3238.2 L812.0,3238.2 L814.5,3238.2 L817.0,3238.2 L819.5,3238.2 L822.0,3238.2 L824.5,3238.2 L827.0,3238.2 L829.5,3238.2 L832.0,3238.2 L834.5,3238.2 L837.0,3238.2 L839.5,3238.2 L842.0,3238.2 L844.5,3238.2 L847.0,3238.2 L849.5,3238.2 L852.0,3238.2 L854.5,3238.2 L857.0,3238.2 L859.5,3238.2 L862.0,3238.2 L864.5,3238.2 L867.0,3238.2 L869.5,3238.2 L872.0,3238.2 L874.5,3238.2 L877.0,3238.2 L879.5,3238.2 L882.0,3238.2 L884.6,3238.2 L887.1,3238.2 L889.6,3238.2 L892.1,3238.2 L894.6,3238.2 L897.1,3238.2 L899.6,3238.2 L902.1,3238.2 L904.6,3238.1 L907.1,3238.2 L909.6,3238.4 L912.1,3238.3 L914.6,3238.0 L917.1,3238.5 L919.6,3238.5 L922.1,3237.9 L924.6,3238.5 L927.1,3237.8 L929.6,3237.8 L932.1,3238.5 L934.6,3238.5 L937.1,3238.8 L939.6,3238.4 L942.1,3238.2 L944.6,3237.9 L947.1,3238.3 L949.6,3238.9 L952.1,3238.4 L954.7,3238.7 L957.2,3237.8 L959.7,3238.5 L962.2,3238.5 L964.7,3237.6 L967.2,3238.6 L969.7,3237.7 L972.2,3237.8 L974.7,3237.6 L977.2,3238.4 L979.7,3237.7 L982.2,3238.9 L984.7,3237.5 L987.2,3238.6 L989.7,3238.6 L992.2,3238.3 L994.7,3238.3 L997.2,3238.6 L999.7,3238.4 L1002.2,3237.7 L1004.7,3238.6 L1007.2,3238.0 L1009.7,3238.3 L1012.2,3238.2 L1014.7,3238.8 L1017.2,3238.1 L1019.7,3238.7 L1022.2,3237.6 L1024.8,3238.0 L1027.3,3238.4 L1029.8,3238.4 L1032.3,3238.7 L1034.8,3237.8 L1037.3,3238.6 L1039.8,3238.6 L1042.3,3237.7 L1044.8,3237.7 L1047.3,3238.3 L1049.8,3238.9 L1052.3,3238.4 L1054.8,3238.1 L1057.3,3238.2 L1059.8,3238.6 L1062.3,3238.2 L1064.8,3238.3 L1067.3,3238.3 L1069.8,3238.8 L1072.3,3238.6 L1074.8,3238.7 L1077.3,3237.9 L1079.8,3238.3 L1082.3,3238.7 L1084.8,3238.5 L1087.3,3238.8 L1089.8,3238.8 L1092.3,3237.7 L1094.9,3238.2 L1097.4,3238.0 L1099.9,3237.8 L1102.4,3238.2 L1104.9,3238.9 L1107.4,3238.6 L1109.9,3237.6 L1112.4,3237.8 L1114.9,3238.0 L1117.4,3238.7 L1119.9,3238.1 L1122.4,3237.7 L1124.9,3238.3 L1127.4,3237.8 L1129.9,3237.6 L1132.4,3238.3 L1134.9,3238.9 L1137.4,3238.6 L1139.9,3238.5 L1142.4,3237.7 L1144.9,3238.3 L1147.4,3238.4 L1149.9,3238.6 L1152.4,3238.1 L1154.9,3237.6 L1157.4,3238.8 L1159.9,3237.9 L1162.4,3238.5 L1165.0,3238.1 L1167.5,3238.6 L1170.0,3238.0 L1172.5,3237.6 L1175.0,3238.1 L1177.5,3238.2 L1180.0,3238.6 L1182.5,3238.1 L1185.0,3238.4 L1187.5,3238.0 L1190.0,3238.5 L1192.5,3237.7 L1195.0,3238.7 L1197.5,3238.8 L1200.0,3237.5 L1202.6,3238.7 L1205.1,3238.6 L1207.7,3238.5 L1210.2,3237.7 L1212.8,3238.6 L1215.3,3238.7 L1217.9,3238.5 L1220.4,3239.0 L1223.0,3239.0 L1225.5,3238.7 L1228.1,3239.1 L1230.6,3238.1 L1233.2,3238.4 L1235.7,3238.8 L1238.3,3238.8 L1240.8,3239.5 L1243.4,3239.1 L1245.9,3239.2 L1248.5,3239.3 L1251.0,3239.8 L1253.6,3239.2 L1256.1,3239.7 L1258.7,3239.6 L1261.2,3239.5 L1263.8,3239.5 L1266.3,3239.3 L1268.9,3239.3 L1271.4,3239.8 L1274.0,3239.9 L1276.5,3239.7 L1279.1,3240.4 L1281.6,3240.4 L1284.2,3241.3 L1286.8,3241.2 L1289.4,3241.3 L1292.0,3241.8 L1294.6,3241.2 L1297.3,3241.3 L1299.9,3242.3 L1302.5,3242.1 L1305.1,3243.5 L1307.7,3243.1 L1310.3,3244.2 L1312.9,3243.7 L1315.6,3244.0 L1318.2,3245.3 L1320.8,3246.0 L1323.4,3246.1 L1326.1,3247.8 L1328.7,3248.8 L1331.3,3249.4 L1334.0,3250.9 L1336.7,3252.4 L1339.4,3253.1 L1342.1,3256.3 L1344.8,3259.2 L1348.5,3270.0 L1350.5,3302.0 L1353.5,3302.0 L1355.0,3260.0" stroke="#0000FF" stroke-width="6.6" fill="none" stroke-linejoin="round" stroke-linecap="butt"/>
<path d="M141.0,3196.0 L143.5,3196.0 L146.0,3196.0 L148.5,3196.0 L151.0,3196.0 L153.5,3196.0 L156.0,3196.0 L158.5,3196.0 L161.1,3196.0 L163.6,3196.0 L166.1,3196.0 L168.6,3196.0 L171.1,3196.0 L173.6,3196.0 L176.1,3196.0 L178.6,3196.0 L181.1,3196.0 L183.6,3196.0 L186.1,3196.0 L188.6,3196.0 L191.1,3196.0 L193.6,3196.0 L196.1,3196.0 L198.7,3196.0 L201.2,3196.0 L203.7,3196.0 L206.2,3196.0 L208.7,3196.0 L211.2,3196.0 L213.7,3196.0 L216.2,3196.0 L218.7,3196.0 L221.2,3196.0 L223.7,3196.0 L226.2,3196.0 L228.7,3196.0 L231.2,3196.0 L233.7,3196.0 L236.3,3196.0 L238.8,3196.0 L241.3,3196.0 L243.8,3196.0 L246.3,3196.0 L248.8,3196.0 L251.3,3196.0 L253.8,3196.0 L256.3,3196.0 L258.8,3196.0 L261.3,3196.0 L263.8,3196.0 L266.3,3196.0 L268.8,3196.0 L271.3,3196.0 L273.9,3196.0 L276.4,3196.0 L278.9,3196.0 L281.4,3196.0 L283.9,3196.0 L286.4,3196.0 L288.9,3196.0 L291.4,3196.0 L293.9,3196.0 L296.4,3196.0 L298.9,3196.0 L301.4,3196.0 L303.9,3196.0 L306.4,3196.0 L309.0,3196.0 L311.5,3196.0 L314.0,3196.0 L316.5,3196.0 L319.0,3196.0 L321.5,3196.0 L324.0,3196.0 L326.5,3196.0 L329.0,3196.0 L331.5,3196.0 L334.0,3196.0 L336.5,3196.0 L339.0,3196.0 L341.5,3196.0 L344.0,3196.0 L346.6,3196.0 L349.1,3196.0 L351.6,3196.0 L354.1,3196.0 L356.6,3196.0 L359.1,3196.0 L361.6,3196.0 L364.1,3196.0 L366.6,3196.0 L369.1,3196.0 L371.6,3196.0 L374.1,3196.0 L376.6,3196.0 L379.1,3196.0 L381.6,3196.0 L384.2,3196.0 L386.7,3196.0 L389.2,3196.0 L391.7,3196.0 L394.2,3196.0 L396.7,3196.0 L399.2,3196.0 L401.7,3196.0 L404.2,3196.0 L406.7,3196.0 L409.2,3196.0 L411.7,3196.0 L414.2,3196.0 L416.7,3196.0 L419.2,3196.0 L421.8,3196.0 L424.3,3196.0 L426.8,3196.0 L429.3,3196.0 L431.8,3196.0 L434.3,3196.0 L436.8,3196.0 L439.3,3196.0 L441.8,3196.0 L444.3,3196.0 L446.8,3196.0 L449.3,3196.0 L451.8,3196.0 L454.3,3196.0 L456.8,3196.0 L459.4,3196.0 L461.9,3196.0 L464.4,3196.0 L466.9,3196.0 L469.4,3196.0 L471.9,3196.0 L474.4,3196.0 L476.9,3196.0 L479.4,3196.0 L481.9,3196.0 L484.4,3196.0 L486.9,3196.0 L489.4,3196.0 L491.9,3196.0 L494.4,3196.0 L497.0,3196.0 L499.5,3196.0 L502.0,3196.0 L504.5,3196.0 L507.0,3196.0 L509.5,3196.0 L512.0,3196.0 L514.5,3196.0 L517.0,3196.0 L519.5,3196.0 L522.0,3196.0 L524.5,3196.0 L527.0,3196.0 L529.5,3196.0 L532.0,3196.0 L534.6,3196.0 L537.1,3196.0 L539.6,3196.0 L542.1,3196.0 L544.6,3196.0 L547.1,3196.0 L549.6,3196.0 L552.1,3196.0 L554.6,3196.0 L557.1,3196.0 L559.6,3196.0 L562.1,3196.0 L564.6,3196.0 L567.1,3196.0 L569.7,3196.0 L572.2,3196.0 L574.7,3196.0 L577.2,3196.0 L579.7,3196.0 L582.2,3196.0 L584.7,3196.0 L587.2,3196.0 L589.7,3196.0 L592.2,3196.0 L594.7,3196.0 L597.2,3196.0 L599.7,3196.0 L602.2,3196.0 L604.7,3196.0 L607.3,3196.0 L609.8,3196.0 L612.3,3196.0 L614.8,3196.0 L617.3,3196.0 L619.8,3196.0 L622.3,3196.0 L624.8,3196.0 L627.3,3196.0 L629.8,3196.0 L632.3,3196.0 L634.8,3196.0 L637.3,3196.0 L639.8,3196.0 L642.3,3196.0 L644.9,3196.0 L647.4,3196.0 L649.9,3196.0 L652.4,3196.0 L654.9,3196.0 L657.4,3196.0 L659.9,3196.0 L662.4,3196.0 L664.9,3196.0 L667.4,3196.0 L669.9,3196.0 L672.4,3196.0 L674.9,3196.0 L677.4,3196.0 L679.9,3196.0 L682.5,3196.0 L685.0,3196.0 L687.5,3196.0 L690.0,3196.0 L692.5,3196.0 L695.0,3196.0 L697.5,3196.0 L700.0,3196.0 L702.6,3196.0 L705.2,3196.1 L707.8,3196.2 L710.4,3196.4 L712.9,3196.6 L715.5,3196.9 L718.1,3197.1 L720.7,3197.4 L723.3,3197.6 L725.9,3197.9 L728.5,3198.1 L731.1,3198.4 L733.6,3198.6 L736.2,3198.8 L738.8,3198.9 L741.4,3199.0 L744.0,3199.0 L746.5,3199.0 L749.1,3198.9 L751.6,3198.9 L754.2,3198.7 L756.7,3198.6 L759.3,3198.5 L761.8,3198.3 L764.4,3198.1 L766.9,3197.9 L769.5,3197.7 L772.0,3197.5 L774.5,3197.3 L777.1,3197.1 L779.6,3196.9 L782.2,3196.8 L784.7,3196.6 L787.3,3196.4 L789.8,3196.3 L792.4,3196.2 L794.9,3196.1 L797.5,3196.0 L800.0,3196.0 L802.5,3196.0 L805.0,3196.0 L807.5,3196.0 L810.0,3195.9 L812.5,3195.9 L815.0,3195.9 L817.5,3195.9 L820.0,3195.9 L822.5,3195.9 L825.0,3195.9 L827.5,3195.9 L830.0,3195.9 L832.5,3195.9 L835.0,3195.8 L837.5,3195.8 L840.0,3195.8 L842.5,3195.8 L845.0,3195.8 L847.5,3195.8 L850.0,3195.8 L852.5,3195.8 L855.0,3195.8 L857.5,3195.8 L860.0,3195.8 L862.5,3195.8 L865.0,3195.8 L867.5,3195.8 L870.0,3195.8 L872.5,3195.8 L875.0,3195.8 L877.5,3195.7 L880.0,3195.7 L882.5,3195.7 L885.0,3195.7 L887.5,3195.7 L890.0,3195.7 L892.5,3195.7 L895.0,3195.7 L897.5,3195.7 L900.0,3195.7 L902.5,3195.7 L905.0,3195.8 L907.5,3195.6 L910.0,3195.5 L912.5,3195.9 L915.0,3195.5 L917.5,3195.7 L920.0,3195.6 L922.5,3195.4 L925.0,3195.5 L927.5,3195.3 L930.0,3196.0 L932.5,3196.0 L935.0,3196.0 L937.5,3195.2 L940.0,3195.4 L942.5,3195.1 L945.0,3196.2 L947.5,3196.3 L950.0,3196.3 L952.5,3196.1 L955.0,3195.8 L957.5,3195.6 L960.0,3195.1 L962.5,3195.0 L965.0,3195.8 L967.5,3196.3 L970.0,3196.3 L972.5,3195.5 L975.0,3195.6 L977.5,3196.1 L980.0,3195.3 L982.5,3195.9 L985.0,3195.7 L987.5,3195.5 L990.0,3195.4 L992.5,3195.1 L995.0,3195.0 L997.5,3195.2 L1000.0,3196.2 L1002.6,3195.9 L1005.2,3194.8 L1007.7,3195.8 L1010.3,3194.9 L1012.9,3195.5 L1015.5,3195.9 L1018.1,3195.9 L1020.6,3195.8 L1023.2,3195.9 L1025.8,3195.4 L1028.4,3194.5 L1030.9,3194.8 L1033.5,3195.3 L1036.1,3195.2 L1038.7,3195.6 L1041.3,3194.6 L1043.8,3195.6 L1046.4,3195.1 L1049.0,3195.1 L1051.5,3194.5 L1054.0,3194.8 L1056.5,3195.0 L1059.1,3195.4 L1061.6,3195.3 L1064.1,3195.3 L1066.6,3195.4 L1069.1,3194.9 L1071.7,3194.9 L1074.2,3195.8 L1076.7,3195.4 L1079.2,3195.3 L1081.7,3195.9 L1084.2,3195.8 L1086.8,3195.6 L1089.3,3196.0 L1091.8,3195.2 L1094.3,3196.0 L1096.8,3195.6 L1099.3,3195.4 L1101.8,3195.4 L1104.4,3194.9 L1106.9,3196.2 L1109.4,3196.3 L1111.9,3195.5 L1114.4,3196.4 L1117.0,3195.3 L1119.5,3195.8 L1122.0,3196.6 L1124.5,3196.1 L1127.0,3195.5 L1129.5,3196.2 L1132.0,3195.4 L1134.6,3196.4 L1137.1,3196.3 L1139.6,3196.4 L1142.1,3196.5 L1144.6,3195.8 L1147.2,3196.9 L1149.7,3196.8 L1152.2,3197.0 L1154.7,3196.1 L1157.2,3196.1 L1159.7,3196.9 L1162.2,3197.2 L1164.8,3196.7 L1167.3,3196.3 L1169.8,3196.6 L1172.3,3196.4 L1174.8,3196.7 L1177.3,3197.4 L1179.9,3197.1 L1182.4,3196.4 L1184.9,3197.4 L1187.4,3197.4 L1189.9,3196.7 L1192.5,3196.2 L1195.0,3197.1 L1197.5,3196.7 L1200.0,3196.4 L1202.5,3197.5 L1205.0,3196.8 L1207.6,3196.4 L1210.1,3196.6 L1212.6,3197.6 L1215.2,3196.6 L1217.7,3196.8 L1220.2,3196.5 L1222.7,3196.2 L1225.2,3196.3 L1227.8,3196.1 L1230.3,3196.7 L1232.8,3196.6 L1235.3,3197.0 L1237.9,3197.1 L1240.4,3197.1 L1242.9,3196.1 L1245.5,3196.6 L1248.0,3196.0 L1250.5,3196.2 L1253.0,3196.3 L1255.5,3196.3 L1258.1,3196.9 L1260.6,3196.3 L1263.1,3195.9 L1265.7,3196.5 L1268.2,3196.0 L1270.7,3196.8 L1273.2,3195.7 L1275.8,3195.7 L1278.3,3195.6 L1280.8,3195.9 L1283.3,3196.6 L1285.8,3195.6 L1288.4,3196.3 L1290.9,3196.7 L1293.4,3195.7 L1296.0,3196.4 L1298.5,3196.4 L1301.0,3196.7 L1303.6,3196.6 L1306.2,3196.5 L1308.9,3196.5 L1311.5,3196.7 L1314.1,3196.9 L1316.7,3197.3 L1319.4,3198.8 L1322.0,3199.1 L1324.6,3199.8 L1327.7,3202.9 L1330.9,3207.5 L1334.0,3215.0 L1338.0,3232.3 L1342.0,3215.0 L1346.4,3191.9 L1349.0,3200.0 L1351.0,3276.0 L1353.5,3276.0 L1355.0,3200.0" stroke="#008000" stroke-width="6.6" fill="none" stroke-linejoin="round" stroke-linecap="butt"/>
<path d="M141.0,3142.3 L143.5,3142.3 L146.0,3142.3 L148.5,3142.3 L151.0,3142.3 L153.5,3142.3 L156.1,3142.3 L158.6,3142.3 L161.1,3142.3 L163.6,3142.3 L166.1,3142.3 L168.6,3142.3 L171.1,3142.3 L173.6,3142.3 L176.1,3142.3 L178.6,3142.3 L181.1,3142.3 L183.7,3142.3 L186.2,3142.3 L188.7,3142.3 L191.2,3142.3 L193.7,3142.3 L196.2,3142.3 L198.7,3142.3 L201.2,3142.3 L203.7,3142.3 L206.2,3142.3 L208.7,3142.3 L211.3,3142.3 L213.8,3142.3 L216.3,3142.3 L218.8,3142.3 L221.3,3142.3 L223.8,3142.3 L226.3,3142.3 L228.8,3142.3 L231.3,3142.3 L233.8,3142.3 L236.3,3142.3 L238.9,3142.3 L241.4,3142.3 L243.9,3142.3 L246.4,3142.3 L248.9,3142.3 L251.4,3142.3 L253.9,3142.3 L256.4,3142.3 L258.9,3142.3 L261.4,3142.3 L263.9,3142.3 L266.4,3142.3 L269.0,3142.3 L271.5,3142.3 L274.0,3142.3 L276.5,3142.3 L279.0,3142.3 L281.5,3142.3 L284.0,3142.3 L286.5,3142.3 L289.0,3142.3 L291.5,3142.3 L294.0,3142.3 L296.6,3142.3 L299.1,3142.3 L301.6,3142.3 L304.1,3142.3 L306.6,3142.3 L309.1,3142.3 L311.6,3142.3 L314.1,3142.3 L316.6,3142.3 L319.1,3142.3 L321.6,3142.3 L324.2,3142.3 L326.7,3142.3 L329.2,3142.3 L331.7,3142.3 L334.2,3142.3 L336.7,3142.3 L339.2,3142.3 L341.7,3142.3 L344.2,3142.3 L346.7,3142.3 L349.2,3142.3 L351.8,3142.3 L354.3,3142.3 L356.8,3142.2 L359.3,3142.2 L361.8,3142.2 L364.3,3142.2 L366.8,3142.2 L369.3,3142.2 L371.8,3142.2 L374.3,3142.2 L376.8,3142.2 L379.4,3142.2 L381.9,3142.2 L384.4,3142.2 L386.9,3142.2 L389.4,3142.2 L391.9,3142.2 L394.4,3142.2 L396.9,3142.2 L399.4,3142.2 L401.9,3142.2 L404.4,3142.2 L407.0,3142.2 L409.5,3142.2 L412.0,3142.2 L414.5,3142.2 L417.0,3142.2 L419.5,3142.2 L422.0,3142.2 L424.5,3142.2 L427.0,3142.2 L429.5,3142.2 L432.0,3142.2 L434.6,3142.2 L437.1,3142.2 L439.6,3142.2 L442.1,3142.2 L444.6,3142.2 L447.1,3142.2 L449.6,3142.2 L452.1,3142.2 L454.6,3142.2 L457.1,3142.2 L459.6,3142.2 L462.1,3142.2 L464.7,3142.2 L467.2,3142.1 L469.7,3142.1 L472.2,3142.1 L474.7,3142.1 L477.2,3142.1 L479.7,3142.1 L482.2,3142.1 L484.7,3142.1 L487.2,3142.1 L489.7,3142.1 L492.3,3142.1 L494.8,3142.1 L497.3,3142.1 L499.8,3142.1 L502.3,3142.1 L504.8,3142.1 L507.3,3142.1 L509.8,3142.1 L512.3,3142.1 L514.8,3142.1 L517.3,3142.1 L519.9,3142.1 L522.4,3142.1 L524.9,3142.1 L527.4,3142.1 L529.9,3142.1 L532.4,3142.1 L534.9,3142.0 L537.4,3142.0 L539.9,3142.0 L542.4,3142.0 L544.9,3142.0 L547.5,3142.0 L550.0,3142.0 L552.5,3142.0 L555.0,3142.0 L557.5,3142.0 L560.0,3142.0 L562.5,3142.0 L565.0,3141.9 L567.5,3141.8 L570.0,3141.6 L572.5,3141.5 L575.0,3141.3 L577.5,3141.1 L580.0,3140.8 L582.5,3140.6 L585.0,3140.4 L587.5,3140.2 L590.0,3140.0 L592.7,3139.8 L595.4,3139.5 L598.1,3139.2 L600.9,3138.9 L603.6,3138.8 L606.3,3138.7 L609.0,3138.9 L611.8,3139.5 L614.5,3140.2 L617.3,3140.7 L620.0,3141.0 L622.5,3141.0 L625.0,3141.1 L627.5,3141.1 L630.0,3141.1 L632.5,3141.2 L635.0,3141.2 L637.5,3141.2 L640.0,3141.3 L642.5,3141.3 L645.0,3141.3 L647.5,3141.4 L650.0,3141.4 L652.5,3141.4 L655.0,3141.4 L657.5,3141.5 L660.0,3141.5 L662.5,3141.5 L665.0,3141.5 L667.5,3141.6 L670.0,3141.6 L672.5,3141.6 L675.0,3141.6 L677.5,3141.6 L680.0,3141.7 L682.5,3141.7 L685.0,3141.7 L687.5,3141.7 L690.0,3141.7 L692.5,3141.7 L695.0,3141.8 L697.5,3141.8 L700.0,3141.8 L702.5,3141.8 L705.0,3141.8 L707.5,3141.8 L710.0,3141.8 L712.5,3141.8 L715.0,3141.9 L717.5,3141.9 L720.0,3141.9 L722.5,3141.9 L725.0,3141.9 L727.5,3141.9 L730.0,3141.9 L732.5,3141.9 L735.0,3141.9 L737.5,3141.9 L740.0,3141.9 L742.5,3141.9 L745.0,3141.9 L747.5,3142.0 L750.0,3142.0 L752.5,3142.0 L755.0,3142.0 L757.5,3142.0 L760.0,3142.0 L762.5,3142.0 L765.0,3142.0 L767.5,3142.0 L770.0,3142.0 L772.5,3142.0 L775.0,3142.0 L777.5,3142.0 L780.0,3142.0 L782.5,3142.0 L785.0,3142.0 L787.5,3142.0 L790.0,3142.0 L792.5,3142.0 L795.0,3142.0 L797.5,3142.0 L800.0,3142.0 L802.5,3142.0 L805.0,3141.9 L807.6,3141.8 L810.1,3141.7 L812.6,3141.6 L815.1,3141.4 L817.7,3141.3 L820.2,3141.1 L822.7,3140.9 L825.2,3140.7 L827.7,3140.5 L830.3,3140.2 L832.8,3140.0 L835.3,3139.8 L837.8,3139.6 L840.3,3139.4 L842.9,3139.3 L845.4,3139.1 L847.9,3139.0 L850.4,3138.9 L853.0,3138.8 L855.5,3138.7 L858.0,3138.7 L860.8,3138.8 L863.5,3139.1 L866.2,3139.6 L869.0,3140.1 L871.8,3140.6 L874.5,3141.1 L877.2,3141.4 L880.0,3141.5 L882.5,3141.5 L885.0,3141.5 L887.5,3141.5 L890.0,3141.5 L892.5,3141.5 L895.0,3141.5 L897.5,3141.5 L900.0,3141.5 L902.5,3141.4 L905.0,3141.5 L907.5,3141.4 L910.0,3141.5 L912.5,3141.5 L915.0,3141.2 L917.5,3141.4 L920.0,3141.4 L922.5,3141.5 L925.0,3141.2 L927.5,3141.8 L930.0,3141.6 L932.5,3140.8 L935.0,3141.8 L937.5,3141.4 L940.0,3141.9 L942.5,3140.8 L945.0,3141.6 L947.5,3141.5 L950.0,3141.0 L952.5,3140.9 L955.0,3141.2 L957.5,3141.7 L960.0,3141.3 L962.5,3141.2 L965.0,3141.3 L967.5,3141.4 L970.0,3141.1 L972.5,3141.2 L975.0,3140.2 L977.5,3141.3 L980.0,3141.4 L982.5,3140.9 L985.0,3140.8 L987.5,3141.3 L990.0,3140.7 L992.5,3141.2 L995.0,3140.6 L997.5,3140.6 L1000.0,3141.1 L1002.6,3141.0 L1005.2,3140.5 L1007.7,3140.3 L1010.3,3140.1 L1012.9,3139.8 L1015.5,3139.5 L1018.1,3139.1 L1020.6,3139.0 L1023.2,3138.7 L1025.8,3139.5 L1028.4,3138.5 L1030.9,3138.9 L1033.5,3138.2 L1036.1,3138.8 L1038.7,3138.0 L1041.3,3137.6 L1043.8,3137.6 L1046.4,3137.3 L1049.0,3137.4 L1051.5,3137.3 L1054.1,3137.4 L1056.7,3137.6 L1059.2,3137.2 L1061.8,3138.6 L1064.3,3138.5 L1066.8,3138.0 L1069.4,3138.9 L1072.0,3138.0 L1074.5,3139.0 L1077.0,3139.1 L1079.6,3139.7 L1082.2,3140.1 L1084.7,3139.7 L1087.2,3140.2 L1089.8,3140.2 L1092.3,3139.5 L1094.9,3139.7 L1097.5,3139.9 L1100.0,3140.9 L1102.5,3140.6 L1105.0,3140.5 L1107.5,3140.8 L1110.0,3141.5 L1112.5,3140.9 L1115.0,3141.5 L1117.5,3140.9 L1120.0,3141.4 L1122.5,3141.7 L1125.0,3140.9 L1127.5,3142.0 L1130.0,3141.1 L1132.5,3141.1 L1135.0,3142.3 L1137.5,3141.4 L1140.0,3141.7 L1142.5,3142.5 L1145.0,3141.6 L1147.5,3142.3 L1150.0,3142.4 L1152.5,3141.6 L1155.0,3141.7 L1157.5,3143.0 L1160.0,3142.8 L1162.5,3142.7 L1165.0,3142.7 L1167.5,3142.5 L1170.0,3143.2 L1172.5,3142.0 L1175.0,3142.4 L1177.5,3142.4 L1180.0,3143.0 L1182.5,3143.4 L1185.0,3142.5 L1187.5,3142.4 L1190.0,3142.6 L1192.5,3143.5 L1195.0,3143.2 L1197.5,3142.6 L1200.0,3143.4 L1202.5,3143.0 L1205.0,3142.5 L1207.5,3142.9 L1210.0,3143.7 L1212.5,3143.9 L1215.0,3143.1 L1217.5,3143.7 L1220.0,3143.9 L1222.5,3142.7 L1225.0,3142.9 L1227.5,3143.1 L1230.0,3143.1 L1232.5,3143.5 L1235.0,3144.0 L1237.5,3142.9 L1240.0,3143.1 L1242.5,3143.4 L1245.0,3143.7 L1247.5,3142.9 L1250.1,3143.5 L1252.6,3143.6 L1255.1,3143.8 L1257.6,3143.2 L1260.1,3143.2 L1262.6,3143.6 L1265.1,3143.3 L1267.6,3143.4 L1270.1,3143.9 L1272.6,3144.2 L1275.1,3144.3 L1277.6,3143.1 L1280.1,3143.7 L1282.6,3143.7 L1285.1,3143.8 L1287.6,3143.3 L1290.1,3143.5 L1292.6,3143.7 L1295.1,3143.4 L1297.6,3143.9 L1300.4,3145.1 L1303.2,3146.1 L1306.0,3147.3 L1308.9,3149.2 L1311.7,3150.8 L1314.5,3152.0 L1317.3,3148.7 L1320.1,3144.7 L1322.9,3143.6 L1325.4,3144.3 L1328.0,3147.3 L1330.5,3150.9 L1333.0,3151.7 L1336.0,3150.8 L1338.9,3146.9 L1341.8,3141.7 L1344.8,3140.5 L1347.3,3146.6 L1349.8,3151.2 L1352.3,3149.3 L1354.9,3143.1" stroke="#FF00FF" stroke-width="6.6" fill="none" stroke-linejoin="round" stroke-linecap="butt"/>
<path d="M141.0,3083.9 L143.5,3083.9 L146.0,3083.9 L148.5,3083.9 L151.1,3083.9 L153.6,3083.9 L156.1,3083.9 L158.6,3083.9 L161.1,3083.9 L163.6,3083.9 L166.1,3083.9 L168.6,3083.9 L171.2,3083.9 L173.7,3083.9 L176.2,3083.9 L178.7,3083.9 L181.2,3083.9 L183.7,3083.9 L186.2,3083.9 L188.7,3083.9 L191.3,3083.8 L193.8,3083.8 L196.3,3083.8 L198.8,3083.8 L201.3,3083.8 L203.8,3083.8 L206.3,3083.8 L208.8,3083.8 L211.4,3083.8 L213.9,3083.8 L216.4,3083.8 L218.9,3083.8 L221.4,3083.8 L223.9,3083.8 L226.4,3083.8 L228.9,3083.7 L231.5,3083.7 L234.0,3083.7 L236.5,3083.7 L239.0,3083.7 L241.5,3083.7 L244.0,3083.7 L246.5,3083.7 L249.0,3083.7 L251.6,3083.7 L254.1,3083.7 L256.6,3083.6 L259.1,3083.6 L261.6,3083.6 L264.1,3083.6 L266.6,3083.6 L269.1,3083.6 L271.7,3083.6 L274.2,3083.6 L276.7,3083.6 L279.2,3083.6 L281.7,3083.5 L284.2,3083.5 L286.7,3083.5 L289.2,3083.5 L291.8,3083.5 L294.3,3083.5 L296.8,3083.5 L299.3,3083.5 L301.8,3083.4 L304.3,3083.4 L306.8,3083.4 L309.3,3083.4 L311.9,3083.4 L314.4,3083.4 L316.9,3083.4 L319.4,3083.3 L321.9,3083.3 L324.4,3083.3 L326.9,3083.3 L329.4,3083.3 L332.0,3083.3 L334.5,3083.3 L337.0,3083.2 L339.5,3083.2 L342.0,3083.2 L344.5,3083.2 L347.0,3083.2 L349.5,3083.2 L352.1,3083.2 L354.6,3083.1 L357.1,3083.1 L359.6,3083.1 L362.1,3083.1 L364.6,3083.1 L367.1,3083.1 L369.6,3083.1 L372.2,3083.0 L374.7,3083.0 L377.2,3083.0 L379.7,3083.0 L382.2,3083.0 L384.7,3083.0 L387.2,3082.9 L389.7,3082.9 L392.3,3082.9 L394.8,3082.9 L397.3,3082.9 L399.8,3082.9 L402.3,3082.8 L404.8,3082.8 L407.3,3082.8 L409.8,3082.8 L412.4,3082.8 L414.9,3082.8 L417.4,3082.7 L419.9,3082.7 L422.4,3082.7 L424.9,3082.7 L427.4,3082.7 L429.9,3082.7 L432.5,3082.6 L435.0,3082.6 L437.5,3082.6 L440.0,3082.6 L442.5,3082.6 L445.0,3082.6 L447.5,3082.6 L450.0,3082.5 L452.5,3082.5 L455.0,3082.5 L457.5,3082.5 L460.0,3082.5 L462.5,3082.5 L465.0,3082.5 L467.5,3082.4 L470.0,3082.4 L472.5,3082.4 L475.0,3082.4 L477.5,3082.4 L480.0,3082.4 L482.5,3082.3 L485.0,3082.3 L487.6,3082.3 L490.1,3082.3 L492.6,3082.3 L495.1,3082.2 L497.6,3082.2 L500.1,3082.2 L502.6,3082.2 L505.1,3082.1 L507.6,3082.1 L510.1,3082.1 L512.6,3082.0 L515.1,3082.0 L517.6,3082.0 L520.1,3081.9 L522.6,3081.9 L525.1,3081.8 L527.6,3081.8 L530.1,3081.7 L532.6,3081.7 L535.1,3081.6 L537.7,3081.5 L540.3,3081.2 L542.9,3080.8 L545.5,3080.3 L548.1,3079.8 L550.6,3079.1 L553.2,3078.4 L555.8,3077.7 L558.4,3077.0 L561.0,3076.2 L563.6,3075.5 L566.3,3074.6 L569.0,3073.6 L571.7,3072.5 L574.5,3071.3 L577.2,3070.2 L579.9,3069.2 L582.6,3068.3 L585.4,3067.6 L588.1,3067.0 L590.9,3066.5 L593.7,3065.9 L596.4,3065.3 L599.2,3064.5 L602.2,3063.1 L605.2,3061.2 L608.1,3059.5 L611.1,3058.8 L614.1,3059.7 L617.0,3061.9 L620.0,3065.0 L623.0,3068.3 L626.5,3075.0 L630.1,3080.2 L632.7,3080.8 L635.4,3081.2 L638.0,3081.6 L640.7,3081.9 L643.3,3082.2 L646.0,3082.4 L648.6,3082.5 L651.3,3082.6 L653.9,3082.6 L656.4,3082.6 L658.9,3082.6 L661.4,3082.6 L663.9,3082.6 L666.4,3082.6 L668.9,3082.6 L671.4,3082.6 L673.9,3082.6 L676.4,3082.6 L678.9,3082.6 L681.4,3082.6 L683.9,3082.6 L686.4,3082.6 L688.9,3082.6 L691.4,3082.6 L693.9,3082.6 L696.4,3082.6 L698.9,3082.6 L701.4,3082.6 L703.9,3082.6 L706.4,3082.6 L708.9,3082.6 L711.4,3082.6 L713.9,3082.6 L716.4,3082.6 L718.9,3082.6 L721.4,3082.6 L723.9,3082.6 L726.5,3082.6 L729.0,3082.6 L731.5,3082.6 L734.0,3082.6 L736.5,3082.6 L739.0,3082.6 L741.5,3082.6 L744.0,3082.6 L746.5,3082.6 L749.0,3082.6 L751.5,3082.6 L754.0,3082.6 L756.5,3082.6 L759.0,3082.6 L761.5,3082.6 L764.0,3082.6 L766.5,3082.6 L769.0,3082.6 L771.5,3082.6 L774.0,3082.6 L776.5,3082.6 L779.0,3082.6 L781.5,3082.6 L784.0,3082.6 L786.5,3082.6 L789.0,3082.6 L791.5,3082.6 L794.0,3082.6 L796.5,3082.6 L799.1,3082.5 L801.6,3082.1 L804.2,3081.5 L806.8,3080.8 L809.4,3079.9 L812.0,3079.1 L814.5,3078.2 L817.1,3077.3 L819.7,3076.6 L822.2,3076.0 L824.8,3075.6 L827.4,3075.5 L830.2,3075.7 L832.9,3076.1 L835.7,3076.7 L838.5,3077.2 L841.2,3077.6 L844.0,3077.8 L846.9,3076.9 L849.7,3074.8 L852.6,3072.3 L855.4,3070.2 L858.3,3069.3 L861.0,3069.9 L863.7,3071.3 L866.4,3073.4 L869.2,3075.6 L871.9,3077.7 L874.6,3079.4 L877.3,3080.2 L879.8,3080.5 L882.3,3080.7 L884.8,3081.0 L887.3,3081.2 L889.9,3081.4 L892.4,3081.6 L894.9,3081.8 L897.4,3081.9 L899.9,3082.1 L902.4,3082.2 L904.9,3082.2 L907.4,3082.3 L910.0,3082.5 L912.5,3082.5 L915.0,3082.5 L917.5,3082.4 L920.0,3082.6 L922.5,3082.3 L925.0,3082.7 L927.5,3082.2 L930.0,3082.2 L932.5,3083.1 L935.0,3081.9 L937.5,3082.3 L940.0,3082.5 L942.5,3081.9 L945.0,3082.2 L947.5,3083.1 L950.0,3082.8 L952.5,3082.1 L955.0,3082.2 L957.5,3082.0 L960.0,3082.8 L962.5,3081.9 L965.0,3082.6 L967.5,3082.9 L970.0,3081.8 L972.5,3082.3 L975.0,3082.5 L977.5,3082.0 L980.0,3082.6 L982.5,3081.5 L985.0,3081.8 L987.5,3081.5 L990.0,3081.4 L992.5,3082.4 L995.0,3080.9 L997.5,3081.3 L1000.0,3082.3 L1002.6,3081.0 L1005.1,3081.6 L1007.7,3081.8 L1010.3,3080.6 L1012.9,3080.4 L1015.4,3081.0 L1018.0,3079.8 L1020.6,3080.5 L1023.2,3080.7 L1025.7,3080.6 L1028.3,3080.4 L1030.9,3079.5 L1033.5,3079.9 L1036.0,3079.9 L1038.6,3079.4 L1041.2,3078.6 L1043.8,3079.3 L1046.3,3078.8 L1048.9,3078.7 L1051.5,3078.3 L1054.0,3079.4 L1056.6,3079.2 L1059.1,3078.3 L1061.7,3078.7 L1064.2,3078.6 L1066.8,3079.6 L1069.3,3080.1 L1071.9,3079.7 L1074.5,3079.7 L1077.0,3080.2 L1079.6,3080.8 L1082.1,3080.1 L1084.7,3080.4 L1087.2,3081.5 L1089.8,3082.1 L1092.3,3081.7 L1094.9,3081.1 L1097.4,3081.9 L1100.0,3081.6 L1102.5,3082.2 L1105.0,3081.8 L1107.5,3081.9 L1110.0,3083.1 L1112.5,3082.2 L1115.0,3082.4 L1117.5,3083.3 L1120.0,3082.5 L1122.5,3082.4 L1125.0,3082.3 L1127.5,3082.2 L1130.0,3083.3 L1132.5,3083.6 L1135.0,3083.1 L1137.5,3083.2 L1140.0,3082.4 L1142.5,3082.4 L1145.0,3082.9 L1147.5,3082.4 L1150.0,3083.5 L1152.5,3083.6 L1155.0,3083.8 L1157.5,3083.1 L1160.0,3083.4 L1162.5,3082.7 L1165.0,3083.3 L1167.5,3084.2 L1170.0,3083.1 L1172.5,3083.7 L1175.0,3083.7 L1177.5,3083.3 L1180.0,3083.4 L1182.5,3083.1 L1185.0,3084.4 L1187.5,3084.5 L1190.0,3084.5 L1192.5,3084.6 L1195.0,3083.3 L1197.5,3083.5 L1200.0,3083.9 L1202.5,3083.7 L1205.1,3084.6 L1207.6,3084.6 L1210.2,3084.2 L1212.7,3085.3 L1215.3,3083.8 L1217.8,3084.2 L1220.4,3084.1 L1222.9,3084.0 L1225.5,3084.4 L1228.0,3085.1 L1230.6,3085.6 L1233.1,3085.0 L1235.7,3084.5 L1238.2,3085.1 L1240.8,3085.2 L1243.3,3084.7 L1245.9,3085.5 L1248.4,3085.9 L1251.0,3085.6 L1253.5,3084.8 L1256.1,3085.6 L1258.6,3086.3 L1261.2,3086.0 L1263.7,3085.5 L1266.3,3085.5 L1268.8,3086.5 L1271.4,3085.8 L1273.9,3087.0 L1276.5,3087.1 L1279.0,3086.6 L1281.6,3086.1 L1284.1,3087.0 L1286.7,3087.0 L1289.2,3086.3 L1291.8,3086.6 L1294.3,3087.5 L1297.0,3087.9 L1299.8,3088.5 L1302.5,3090.8 L1305.2,3092.1 L1307.9,3093.0 L1310.6,3095.1 L1313.4,3095.7 L1316.1,3095.7 L1318.9,3093.1 L1321.8,3086.6 L1324.6,3083.5 L1327.3,3085.9 L1330.0,3088.9 L1332.6,3092.7 L1335.3,3096.1 L1338.0,3097.8 L1341.4,3090.3 L1344.8,3084.2 L1348.5,3095.0 L1350.5,3132.0 L1353.5,3132.0 L1355.5,3090.0" stroke="#808000" stroke-width="6.6" fill="none" stroke-linejoin="round" stroke-linecap="butt"/>
<path d="M141.0,3030.7 L143.5,3030.7 L146.0,3030.7 L148.6,3030.7 L151.1,3030.7 L153.6,3030.7 L156.1,3030.7 L158.7,3030.7 L161.2,3030.7 L163.7,3030.7 L166.2,3030.7 L168.8,3030.7 L171.3,3030.7 L173.8,3030.7 L176.3,3030.7 L178.9,3030.7 L181.4,3030.7 L183.9,3030.6 L186.4,3030.6 L189.0,3030.6 L191.5,3030.6 L194.0,3030.6 L196.5,3030.6 L199.0,3030.6 L201.6,3030.6 L204.1,3030.6 L206.6,3030.6 L209.1,3030.6 L211.7,3030.6 L214.2,3030.6 L216.7,3030.6 L219.2,3030.6 L221.8,3030.6 L224.3,3030.6 L226.8,3030.6 L229.3,3030.6 L231.9,3030.6 L234.4,3030.6 L236.9,3030.6 L239.4,3030.6 L242.0,3030.6 L244.5,3030.6 L247.0,3030.6 L249.5,3030.6 L252.0,3030.6 L254.6,3030.6 L257.1,3030.6 L259.6,3030.6 L262.1,3030.6 L264.7,3030.5 L267.2,3030.5 L269.7,3030.5 L272.2,3030.5 L274.8,3030.5 L277.3,3030.5 L279.8,3030.5 L282.3,3030.5 L284.9,3030.5 L287.4,3030.5 L289.9,3030.5 L292.4,3030.5 L295.0,3030.5 L297.5,3030.5 L300.0,3030.5 L302.5,3030.5 L305.0,3030.5 L307.5,3030.5 L310.0,3030.5 L312.5,3030.5 L315.0,3030.5 L317.5,3030.5 L320.0,3030.5 L322.5,3030.5 L325.0,3030.5 L327.5,3030.5 L330.0,3030.5 L332.5,3030.5 L335.0,3030.5 L337.5,3030.5 L340.0,3030.5 L342.5,3030.5 L345.0,3030.5 L347.5,3030.5 L350.0,3030.5 L352.5,3030.5 L355.0,3030.5 L357.5,3030.4 L360.0,3030.4 L362.5,3030.4 L365.0,3030.4 L367.5,3030.4 L370.0,3030.4 L372.5,3030.4 L375.0,3030.4 L377.5,3030.4 L380.0,3030.4 L382.5,3030.4 L385.0,3030.4 L387.5,3030.4 L390.0,3030.4 L392.5,3030.4 L395.0,3030.4 L397.5,3030.4 L400.0,3030.4 L402.5,3030.4 L405.0,3030.4 L407.5,3030.4 L410.0,3030.4 L412.5,3030.4 L415.0,3030.4 L417.5,3030.4 L420.0,3030.4 L422.5,3030.4 L425.0,3030.3 L427.5,3030.3 L430.0,3030.3 L432.5,3030.3 L435.0,3030.3 L437.5,3030.3 L440.0,3030.3 L442.6,3030.3 L445.2,3030.2 L447.8,3030.1 L450.4,3029.9 L453.0,3029.7 L455.5,3029.4 L458.1,3029.2 L460.7,3028.9 L463.3,3028.6 L465.9,3028.2 L468.5,3027.9 L471.1,3027.4 L473.7,3026.7 L476.3,3025.7 L478.9,3024.7 L481.5,3023.5 L484.0,3022.4 L486.6,3021.3 L489.2,3020.3 L491.8,3019.4 L494.4,3018.8 L497.0,3018.4 L499.7,3018.2 L502.4,3018.0 L505.1,3017.8 L507.9,3017.7 L510.6,3017.6 L513.3,3017.5 L516.0,3017.5 L518.6,3017.8 L521.3,3018.6 L523.9,3019.8 L526.6,3021.3 L529.2,3022.7 L531.9,3024.2 L534.5,3025.4 L537.2,3026.2 L539.8,3026.5 L542.7,3026.2 L545.5,3025.4 L548.4,3024.2 L551.2,3022.6 L554.1,3020.8 L556.9,3017.5 L559.8,3012.0 L562.6,3005.3 L565.5,2998.4 L568.3,2992.3 L571.3,2986.4 L574.2,2980.3 L577.2,2974.9 L580.2,2970.9 L583.0,2968.3 L585.7,2966.3 L588.5,2964.5 L591.3,2962.9 L594.0,2961.1 L596.8,2959.0 L599.8,2955.7 L602.8,2951.8 L605.7,2948.5 L608.7,2947.1 L611.9,2948.8 L615.0,2953.2 L618.2,2959.0 L621.8,2970.5 L625.4,2985.2 L628.6,2999.0 L631.7,3012.9 L634.9,3020.8 L637.7,3023.2 L640.6,3025.1 L643.4,3026.6 L646.3,3027.5 L649.1,3027.9 L651.6,3028.0 L654.2,3028.1 L656.7,3028.2 L659.3,3028.3 L661.8,3028.4 L664.4,3028.5 L666.9,3028.6 L669.5,3028.7 L672.0,3028.7 L674.5,3028.8 L677.1,3028.8 L679.6,3028.9 L682.2,3028.9 L684.7,3028.9 L687.3,3028.9 L689.8,3029.0 L692.4,3029.0 L694.9,3029.0 L697.5,3029.0 L700.0,3029.0 L702.5,3029.0 L705.0,3028.9 L707.6,3028.8 L710.1,3028.6 L712.6,3028.4 L715.1,3028.3 L717.6,3028.1 L720.2,3028.0 L722.7,3027.9 L725.2,3027.9 L727.7,3027.9 L730.2,3028.0 L732.7,3028.1 L735.2,3028.2 L737.7,3028.3 L740.2,3028.5 L742.7,3028.6 L745.2,3028.8 L747.7,3029.0 L750.2,3029.2 L752.7,3029.4 L755.2,3029.6 L757.7,3029.7 L760.2,3029.9 L762.7,3030.0 L765.2,3030.1 L767.7,3030.2 L770.2,3030.3 L772.7,3030.3 L775.3,3030.2 L777.8,3030.0 L780.4,3029.6 L782.9,3029.1 L785.5,3028.4 L788.1,3027.7 L790.6,3026.8 L793.2,3025.9 L795.8,3025.0 L798.3,3024.0 L800.9,3022.9 L803.4,3021.9 L806.0,3020.8 L808.7,3019.3 L811.4,3017.3 L814.0,3015.0 L816.7,3012.5 L819.4,3010.2 L822.0,3008.3 L824.7,3007.0 L827.4,3006.5 L830.2,3007.0 L833.1,3008.2 L835.9,3009.6 L838.8,3010.8 L841.6,3011.3 L844.2,3009.9 L846.8,3006.4 L849.5,3001.8 L852.1,2997.2 L854.7,2993.7 L857.3,2992.3 L859.8,2993.7 L862.4,2997.4 L864.9,3002.4 L867.4,3007.8 L870.0,3012.6 L872.5,3016.0 L875.2,3018.4 L877.9,3020.7 L880.6,3022.8 L883.4,3024.6 L886.1,3026.1 L888.8,3027.2 L891.5,3027.9 L894.1,3028.3 L896.7,3028.7 L899.3,3029.0 L901.9,3029.3 L904.5,3029.5 L907.0,3029.8 L909.6,3030.1 L912.2,3029.9 L914.8,3030.3 L917.4,3030.5 L920.0,3030.3 L922.5,3030.0 L925.1,3030.3 L927.6,3030.5 L930.1,3030.3 L932.6,3030.3 L935.2,3029.9 L937.7,3029.9 L940.2,3029.7 L942.7,3030.4 L945.3,3029.2 L947.8,3030.1 L950.3,3030.2 L952.9,3029.8 L955.4,3029.7 L957.9,3030.2 L960.4,3029.7 L963.0,3028.9 L965.5,3029.9 L968.0,3030.2 L970.5,3030.2 L973.1,3029.9 L975.6,3028.5 L978.1,3029.2 L980.7,3028.6 L983.2,3029.5 L985.7,3028.3 L988.2,3028.8 L990.8,3029.4 L993.3,3028.2 L995.8,3029.0 L998.4,3029.3 L1000.9,3028.3 L1003.4,3028.4 L1005.9,3027.6 L1008.5,3028.9 L1011.0,3027.6 L1013.5,3028.5 L1016.0,3028.4 L1018.6,3027.6 L1021.1,3028.7 L1023.6,3028.6 L1026.2,3028.0 L1028.7,3027.6 L1031.2,3027.7 L1033.7,3027.6 L1036.3,3027.9 L1038.8,3028.4 L1041.3,3027.0 L1043.8,3027.3 L1046.4,3027.7 L1048.9,3027.8 L1051.4,3027.9 L1053.9,3028.3 L1056.5,3028.2 L1059.0,3027.4 L1061.5,3027.5 L1064.0,3027.8 L1066.5,3028.4 L1069.0,3027.3 L1071.6,3027.2 L1074.1,3027.6 L1076.6,3028.2 L1079.1,3028.2 L1081.6,3027.9 L1084.2,3028.1 L1086.7,3028.4 L1089.2,3028.8 L1091.7,3027.5 L1094.2,3028.4 L1096.7,3027.7 L1099.3,3028.9 L1101.8,3028.6 L1104.3,3029.3 L1106.8,3029.1 L1109.3,3029.3 L1111.9,3028.9 L1114.4,3029.4 L1116.9,3028.7 L1119.4,3028.6 L1121.9,3029.4 L1124.5,3029.3 L1127.0,3029.5 L1129.5,3030.0 L1132.0,3029.7 L1134.5,3030.0 L1137.0,3030.1 L1139.6,3029.7 L1142.1,3030.4 L1144.6,3030.3 L1147.1,3030.3 L1149.6,3030.8 L1152.2,3030.5 L1154.7,3030.3 L1157.2,3030.0 L1159.7,3031.1 L1162.2,3031.3 L1164.7,3030.5 L1167.3,3030.8 L1169.8,3030.9 L1172.3,3031.2 L1174.8,3030.9 L1177.3,3031.2 L1179.9,3031.4 L1182.4,3030.6 L1184.9,3031.3 L1187.4,3031.5 L1189.9,3031.2 L1192.4,3031.8 L1195.0,3031.8 L1197.5,3030.7 L1200.0,3031.0 L1202.6,3031.7 L1205.2,3031.7 L1207.7,3030.6 L1210.3,3030.6 L1212.9,3030.5 L1215.5,3031.7 L1218.1,3030.2 L1220.7,3031.4 L1223.2,3031.2 L1225.8,3030.7 L1228.4,3030.0 L1231.0,3030.5 L1233.6,3031.3 L1236.2,3029.9 L1238.7,3030.3 L1241.3,3030.8 L1243.9,3029.9 L1246.5,3030.0 L1249.1,3030.2 L1251.6,3030.0 L1254.2,3030.3 L1256.8,3030.8 L1259.4,3029.2 L1262.0,3030.3 L1264.6,3029.8 L1267.1,3029.3 L1269.7,3030.2 L1272.3,3030.2 L1274.9,3030.3 L1277.5,3030.1 L1280.1,3029.3 L1282.7,3029.8 L1285.3,3030.7 L1288.0,3030.0 L1290.6,3031.0 L1293.2,3030.7 L1295.8,3031.4 L1298.4,3032.0 L1301.0,3031.7 L1303.5,3032.9 L1306.0,3037.1 L1308.6,3039.1 L1311.1,3040.9 L1313.6,3038.2 L1316.2,3035.6 L1318.7,3032.4 L1321.2,3030.4 L1323.7,3032.3 L1326.2,3036.5 L1328.8,3038.7 L1331.3,3041.4 L1334.2,3040.0 L1337.2,3036.7 L1340.1,3032.9 L1343.1,3031.3 L1345.8,3033.5 L1348.5,3040.0 L1350.5,3102.0 L1353.5,3102.0 L1355.5,3040.0" stroke="#008080" stroke-width="6.6" fill="none" stroke-linejoin="round" stroke-linecap="butt"/>
<path d="M141.0,2973.8 L143.5,2973.8 L146.0,2973.8 L148.6,2973.8 L151.1,2973.8 L153.6,2973.8 L156.1,2973.8 L158.7,2973.8 L161.2,2973.8 L163.7,2973.8 L166.2,2973.8 L168.8,2973.8 L171.3,2973.8 L173.8,2973.8 L176.3,2973.8 L178.9,2973.8 L181.4,2973.8 L183.9,2973.8 L186.4,2973.8 L189.0,2973.8 L191.5,2973.8 L194.0,2973.8 L196.5,2973.8 L199.0,2973.8 L201.6,2973.7 L204.1,2973.7 L206.6,2973.7 L209.1,2973.7 L211.7,2973.7 L214.2,2973.7 L216.7,2973.7 L219.2,2973.7 L221.8,2973.7 L224.3,2973.7 L226.8,2973.7 L229.3,2973.7 L231.9,2973.7 L234.4,2973.7 L236.9,2973.7 L239.4,2973.7 L242.0,2973.7 L244.5,2973.7 L247.0,2973.7 L249.5,2973.6 L252.0,2973.6 L254.6,2973.6 L257.1,2973.6 L259.6,2973.6 L262.1,2973.6 L264.7,2973.6 L267.2,2973.6 L269.7,2973.6 L272.2,2973.6 L274.8,2973.6 L277.3,2973.6 L279.8,2973.6 L282.3,2973.6 L284.9,2973.5 L287.4,2973.5 L289.9,2973.5 L292.4,2973.5 L295.0,2973.5 L297.5,2973.5 L300.0,2973.5 L302.5,2973.5 L305.0,2973.5 L307.5,2973.5 L310.0,2973.5 L312.5,2973.5 L315.0,2973.5 L317.5,2973.4 L320.0,2973.4 L322.5,2973.4 L325.0,2973.4 L327.5,2973.4 L330.0,2973.4 L332.5,2973.4 L335.0,2973.4 L337.5,2973.4 L340.0,2973.3 L342.5,2973.3 L345.0,2973.3 L347.5,2973.3 L350.0,2973.3 L352.5,2973.3 L355.0,2973.3 L357.5,2973.2 L360.0,2973.2 L362.5,2973.2 L365.0,2973.2 L367.5,2973.2 L370.0,2973.2 L372.5,2973.1 L375.0,2973.1 L377.5,2973.1 L380.0,2973.1 L382.5,2973.1 L385.0,2973.0 L387.5,2973.0 L390.0,2973.0 L392.5,2973.0 L395.0,2972.9 L397.5,2972.9 L400.0,2972.9 L402.5,2972.9 L405.0,2972.8 L407.5,2972.8 L410.0,2972.8 L412.5,2972.7 L415.0,2972.7 L417.5,2972.7 L420.0,2972.6 L422.5,2972.6 L425.0,2972.6 L427.5,2972.5 L430.0,2972.5 L432.5,2972.4 L435.0,2972.4 L437.5,2972.3 L440.0,2972.3 L442.6,2972.2 L445.3,2972.2 L447.9,2972.1 L450.6,2971.9 L453.2,2971.8 L455.9,2971.6 L458.5,2971.4 L461.2,2971.2 L463.8,2970.9 L466.5,2970.3 L469.2,2969.1 L471.9,2967.5 L474.7,2965.5 L477.4,2963.4 L480.1,2961.2 L482.8,2959.0 L485.6,2956.4 L488.5,2953.3 L491.3,2950.0 L494.2,2947.1 L497.0,2944.8 L499.5,2943.2 L502.0,2941.8 L504.5,2940.7 L507.0,2940.0 L510.0,2939.5 L513.0,2939.1 L516.0,2939.0 L519.0,2939.7 L522.0,2941.4 L525.0,2943.7 L528.0,2946.0 L531.0,2948.8 L533.9,2952.3 L536.8,2955.3 L539.8,2956.6 L542.3,2955.8 L544.9,2953.8 L547.5,2951.1 L550.0,2948.0 L553.2,2943.2 L556.4,2936.0 L560.0,2919.8 L563.6,2900.0 L566.1,2888.1 L568.7,2876.6 L571.2,2865.6 L573.8,2855.2 L577.0,2840.4 L580.3,2832.0 L583.3,2832.3 L586.3,2833.0 L589.3,2833.3 L591.9,2832.3 L594.4,2829.9 L597.0,2826.9 L599.6,2821.9 L602.1,2815.7 L604.7,2812.7 L607.3,2813.1 L609.9,2814.3 L612.4,2816.3 L615.0,2819.2 L617.6,2835.5 L620.2,2860.4 L622.8,2880.0 L625.3,2900.0 L630.0,2940.0 L632.5,2949.8 L635.0,2957.6 L637.5,2963.1 L640.0,2966.0 L642.5,2967.4 L645.0,2968.6 L647.5,2969.6 L650.0,2970.5 L652.5,2971.1 L655.0,2971.6 L657.5,2971.9 L660.0,2972.0 L662.5,2972.0 L665.0,2972.0 L667.5,2972.1 L670.0,2972.1 L672.5,2972.1 L675.0,2972.1 L677.5,2972.1 L680.0,2972.1 L682.6,2972.1 L685.1,2972.1 L687.7,2972.0 L690.3,2972.0 L692.9,2972.0 L695.4,2971.9 L698.0,2971.8 L700.6,2971.7 L703.1,2971.6 L705.7,2971.5 L708.3,2971.4 L710.9,2971.2 L713.4,2971.1 L716.0,2970.9 L718.9,2970.2 L721.8,2968.8 L724.7,2967.6 L727.6,2967.0 L730.5,2967.8 L733.4,2969.6 L736.3,2971.3 L739.2,2972.1 L741.8,2972.1 L744.3,2972.1 L746.9,2972.1 L749.5,2972.0 L752.1,2972.0 L754.6,2971.9 L757.2,2971.8 L759.8,2971.8 L762.4,2971.7 L764.9,2971.6 L767.5,2971.5 L770.1,2971.3 L772.7,2971.2 L775.2,2971.1 L777.8,2970.9 L780.4,2970.6 L782.9,2970.2 L785.5,2969.5 L788.1,2968.7 L790.7,2967.8 L793.2,2966.7 L795.8,2965.6 L798.4,2964.4 L801.0,2962.9 L803.5,2960.8 L806.1,2958.4 L808.7,2955.7 L811.2,2953.0 L813.8,2950.3 L816.7,2946.6 L819.6,2942.4 L822.5,2938.9 L825.4,2937.4 L828.6,2937.4 L831.9,2937.4 L834.5,2938.7 L837.0,2941.2 L839.6,2942.5 L842.2,2939.1 L844.7,2931.7 L847.3,2924.5 L850.3,2916.5 L853.3,2908.7 L856.3,2905.2 L858.9,2907.5 L861.4,2913.0 L864.0,2919.4 L867.2,2929.8 L870.5,2940.0 L873.1,2945.8 L875.6,2951.3 L878.2,2956.4 L880.8,2960.6 L883.3,2963.8 L885.9,2965.7 L888.5,2966.8 L891.1,2967.8 L893.6,2968.6 L896.2,2969.3 L898.8,2970.0 L901.4,2970.5 L904.0,2970.9 L906.5,2971.2 L909.1,2971.8 L911.7,2972.3 L914.3,2972.3 L916.8,2972.7 L919.4,2972.8 L922.0,2973.1 L924.6,2973.0 L927.1,2973.8 L929.7,2974.1 L932.3,2974.5 L934.9,2974.7 L937.4,2974.7 L940.0,2974.8 L942.6,2975.6 L945.3,2975.7 L947.9,2976.1 L950.5,2976.2 L953.2,2977.0 L955.8,2976.6 L958.3,2977.0 L960.8,2976.5 L963.3,2975.8 L965.9,2976.3 L968.4,2976.8 L970.9,2975.5 L973.4,2976.8 L975.9,2976.2 L978.4,2975.8 L981.0,2975.5 L983.5,2975.7 L986.0,2976.0 L988.5,2975.4 L991.0,2974.6 L993.5,2974.9 L996.1,2974.3 L998.6,2975.1 L1001.1,2975.2 L1003.6,2974.3 L1006.1,2975.1 L1008.6,2974.8 L1011.2,2974.5 L1013.7,2974.2 L1016.2,2973.1 L1018.7,2972.9 L1021.2,2972.9 L1023.7,2972.8 L1026.3,2973.5 L1028.8,2973.7 L1031.3,2973.8 L1033.8,2973.0 L1036.3,2973.2 L1038.8,2972.4 L1041.4,2972.6 L1043.9,2973.0 L1046.4,2973.4 L1048.9,2973.0 L1051.4,2973.0 L1054.0,2973.1 L1056.5,2972.1 L1059.1,2972.3 L1061.6,2972.1 L1064.1,2973.5 L1066.7,2972.3 L1069.2,2972.1 L1071.8,2971.9 L1074.3,2972.3 L1076.8,2972.4 L1079.4,2972.3 L1081.9,2972.4 L1084.5,2972.1 L1087.0,2972.0 L1089.5,2972.1 L1092.1,2972.7 L1094.6,2973.0 L1097.1,2973.2 L1099.7,2972.8 L1102.2,2971.9 L1104.8,2971.9 L1107.3,2972.8 L1109.8,2972.5 L1112.4,2973.4 L1114.9,2972.9 L1117.5,2973.4 L1120.0,2972.2 L1122.5,2972.1 L1125.1,2972.2 L1127.6,2973.5 L1130.2,2972.8 L1132.7,2972.8 L1135.3,2973.0 L1137.8,2972.1 L1140.4,2972.6 L1142.9,2972.8 L1145.5,2972.0 L1148.0,2972.2 L1150.6,2972.0 L1153.1,2972.5 L1155.7,2972.0 L1158.2,2972.0 L1160.8,2973.2 L1163.4,2973.2 L1165.9,2972.1 L1168.5,2973.3 L1171.0,2972.1 L1173.6,2972.7 L1176.1,2972.6 L1178.7,2972.2 L1181.2,2972.6 L1183.8,2972.4 L1186.3,2972.1 L1188.9,2973.3 L1191.5,2973.2 L1194.0,2972.6 L1196.6,2972.8 L1199.1,2972.3 L1201.7,2973.2 L1204.2,2973.4 L1206.8,2972.7 L1209.3,2972.7 L1211.9,2972.9 L1214.5,2973.1 L1217.0,2973.6 L1219.6,2973.5 L1222.1,2973.7 L1224.7,2972.7 L1227.2,2973.5 L1229.8,2972.8 L1232.3,2972.6 L1234.9,2972.7 L1237.4,2972.4 L1240.0,2972.3 L1242.5,2973.8 L1245.0,2973.7 L1247.6,2972.7 L1250.1,2973.5 L1252.6,2972.5 L1255.1,2973.7 L1257.6,2972.6 L1260.1,2973.1 L1262.7,2972.6 L1265.2,2974.0 L1267.7,2972.8 L1270.2,2974.1 L1272.7,2973.6 L1275.2,2972.8 L1277.8,2973.2 L1280.3,2973.6 L1282.8,2974.3 L1285.3,2974.5 L1287.8,2973.5 L1290.3,2973.8 L1292.9,2974.2 L1295.4,2973.4 L1297.9,2974.0 L1300.5,2975.2 L1303.1,2976.9 L1305.6,2976.8 L1308.2,2978.3 L1311.0,2976.7 L1313.9,2975.2 L1316.7,2973.7 L1319.6,2971.6 L1322.4,2969.7 L1325.0,2971.2 L1327.6,2972.9 L1330.1,2974.3 L1332.7,2977.6 L1335.3,2977.2 L1337.8,2979.8 L1340.4,2979.5 L1343.0,2982.0 L1347.5,2990.0 L1349.5,3066.0 L1353.0,3066.0 L1355.0,2990.0" stroke="#800000" stroke-width="6.6" fill="none" stroke-linejoin="round" stroke-linecap="butt"/>
<path d="M141.0,2917.2 L143.5,2917.2 L146.0,2917.2 L148.6,2917.2 L151.1,2917.2 L153.6,2917.2 L156.1,2917.2 L158.7,2917.2 L161.2,2917.2 L163.7,2917.2 L166.2,2917.2 L168.8,2917.2 L171.3,2917.2 L173.8,2917.2 L176.3,2917.2 L178.9,2917.2 L181.4,2917.2 L183.9,2917.2 L186.4,2917.2 L189.0,2917.2 L191.5,2917.2 L194.0,2917.2 L196.5,2917.2 L199.0,2917.2 L201.6,2917.2 L204.1,2917.2 L206.6,2917.2 L209.1,2917.2 L211.7,2917.2 L214.2,2917.2 L216.7,2917.1 L219.2,2917.1 L221.8,2917.1 L224.3,2917.1 L226.8,2917.1 L229.3,2917.1 L231.9,2917.1 L234.4,2917.1 L236.9,2917.1 L239.4,2917.1 L242.0,2917.1 L244.5,2917.1 L247.0,2917.1 L249.5,2917.1 L252.0,2917.1 L254.6,2917.1 L257.1,2917.1 L259.6,2917.1 L262.1,2917.1 L264.7,2917.1 L267.2,2917.1 L269.7,2917.1 L272.2,2917.1 L274.8,2917.1 L277.3,2917.0 L279.8,2917.0 L282.3,2917.0 L284.9,2917.0 L287.4,2917.0 L289.9,2917.0 L292.4,2917.0 L295.0,2917.0 L297.5,2917.0 L300.0,2917.0 L302.5,2917.0 L305.0,2917.0 L307.5,2917.0 L310.0,2917.0 L312.5,2917.0 L315.0,2917.0 L317.5,2917.0 L320.0,2917.0 L322.5,2917.0 L325.0,2916.9 L327.5,2916.9 L330.0,2916.9 L332.5,2916.9 L335.0,2916.9 L337.5,2916.9 L340.0,2916.9 L342.5,2916.9 L345.0,2916.9 L347.5,2916.9 L350.0,2916.9 L352.5,2916.9 L355.0,2916.9 L357.5,2916.8 L360.0,2916.8 L362.5,2916.8 L365.0,2916.8 L367.5,2916.8 L370.0,2916.8 L372.5,2916.8 L375.0,2916.7 L377.5,2916.7 L380.0,2916.7 L382.5,2916.7 L385.0,2916.7 L387.5,2916.7 L390.0,2916.6 L392.5,2916.6 L395.0,2916.6 L397.5,2916.6 L400.0,2916.5 L402.5,2916.5 L405.0,2916.5 L407.5,2916.5 L410.0,2916.4 L412.5,2916.4 L415.0,2916.4 L417.5,2916.3 L420.0,2916.3 L422.5,2916.3 L425.0,2916.2 L427.5,2916.2 L430.0,2916.2 L432.5,2916.1 L435.0,2916.1 L437.5,2916.0 L440.0,2916.0 L442.5,2915.9 L445.0,2915.6 L447.5,2915.2 L450.0,2914.7 L452.5,2914.1 L455.0,2913.5 L457.5,2912.8 L460.0,2912.0 L462.7,2911.0 L465.3,2909.8 L468.0,2908.3 L470.6,2906.6 L473.3,2904.6 L475.9,2902.4 L478.6,2900.0 L481.2,2896.8 L483.8,2892.6 L486.3,2887.8 L488.9,2882.9 L491.5,2878.4 L494.1,2874.3 L496.6,2870.3 L499.2,2866.5 L501.8,2862.9 L504.4,2859.6 L506.9,2856.6 L509.5,2853.9 L512.1,2851.0 L514.6,2848.1 L517.2,2845.8 L519.8,2844.9 L522.4,2847.8 L524.9,2854.1 L527.5,2860.4 L530.1,2865.8 L532.6,2871.1 L535.2,2875.8 L537.8,2880.3 L540.4,2884.3 L543.0,2886.1 L545.6,2883.9 L548.1,2878.3 L550.7,2870.7 L553.3,2855.2 L555.8,2831.4 L558.4,2808.9 L561.0,2790.5 L563.5,2773.1 L566.1,2757.4 L568.7,2742.6 L571.2,2729.0 L573.8,2718.8 L576.4,2711.0 L579.0,2704.7 L581.6,2702.1 L584.2,2703.3 L586.7,2706.1 L589.3,2709.6 L591.8,2712.4 L594.4,2713.6 L597.0,2711.8 L599.5,2707.8 L602.1,2703.9 L604.7,2702.1 L607.3,2702.8 L609.9,2705.0 L612.5,2708.5 L615.0,2727.1 L617.6,2757.4 L620.2,2790.7 L622.8,2821.8 L625.4,2843.7 L627.9,2862.0 L630.5,2875.8 L633.1,2886.2 L635.6,2894.6 L638.2,2900.0 L641.2,2903.7 L644.1,2906.7 L647.0,2908.8 L650.0,2910.0 L652.5,2910.6 L655.0,2911.2 L657.5,2911.8 L660.0,2912.3 L662.5,2912.7 L665.0,2913.1 L667.5,2913.4 L670.0,2913.7 L672.5,2913.9 L675.0,2914.1 L677.5,2914.2 L680.0,2914.2 L682.6,2914.2 L685.2,2914.2 L687.7,2914.1 L690.3,2914.1 L692.9,2914.0 L695.5,2913.9 L698.0,2913.8 L700.6,2913.7 L703.2,2913.6 L705.8,2913.4 L708.3,2913.3 L710.9,2913.1 L713.5,2912.9 L716.3,2912.2 L719.1,2910.9 L722.0,2909.5 L724.8,2908.3 L727.6,2907.8 L730.5,2908.9 L733.4,2911.2 L736.3,2913.6 L739.2,2914.7 L741.8,2914.7 L744.3,2914.7 L746.9,2914.6 L749.5,2914.6 L752.1,2914.5 L754.6,2914.4 L757.2,2914.3 L759.8,2914.2 L762.4,2914.0 L764.9,2913.9 L767.5,2913.7 L770.1,2913.5 L772.7,2913.3 L775.2,2913.1 L777.8,2912.9 L780.4,2912.5 L782.9,2911.9 L785.5,2911.1 L788.1,2910.1 L790.7,2909.0 L793.2,2907.8 L795.8,2906.5 L798.4,2905.1 L800.9,2903.4 L803.5,2901.4 L806.1,2899.2 L808.7,2896.7 L811.2,2894.0 L813.8,2891.1 L816.4,2886.7 L819.0,2880.9 L821.5,2875.6 L824.1,2873.0 L826.7,2872.4 L829.3,2872.0 L831.9,2871.8 L835.1,2874.4 L838.3,2876.9 L840.9,2874.1 L843.4,2867.6 L846.0,2860.2 L849.2,2847.9 L852.5,2837.0 L855.0,2832.6 L857.6,2830.6 L860.8,2835.2 L864.0,2844.7 L867.2,2860.2 L870.5,2875.6 L873.1,2882.6 L875.6,2888.7 L878.2,2893.8 L880.7,2898.0 L883.3,2901.4 L885.9,2904.4 L888.5,2907.2 L891.0,2909.7 L893.6,2911.8 L896.2,2913.3 L898.8,2914.2 L901.4,2914.7 L903.9,2915.1 L906.5,2915.4 L909.1,2915.8 L911.7,2916.1 L914.2,2916.0 L916.8,2916.5 L919.4,2916.5 L922.0,2917.4 L924.5,2916.7 L927.1,2916.8 L929.7,2917.2 L932.3,2917.2 L934.9,2918.3 L937.4,2917.1 L940.0,2918.9 L942.6,2918.5 L945.2,2918.9 L947.8,2918.3 L950.4,2919.0 L953.0,2918.6 L955.6,2919.8 L958.2,2919.6 L960.9,2919.3 L963.5,2919.6 L966.1,2919.2 L968.7,2919.5 L971.3,2920.5 L973.9,2921.3 L976.5,2921.2 L979.1,2920.2 L981.7,2920.2 L984.3,2920.7 L986.9,2920.2 L989.4,2920.6 L992.0,2919.3 L994.6,2919.4 L997.2,2920.1 L999.8,2918.7 L1002.4,2919.0 L1005.0,2918.3 L1007.5,2918.0 L1010.1,2918.2 L1012.7,2918.1 L1015.3,2917.0 L1017.9,2917.4 L1020.5,2915.7 L1023.0,2915.4 L1025.6,2915.1 L1028.2,2914.8 L1030.8,2915.6 L1033.4,2913.8 L1036.0,2914.9 L1038.6,2914.4 L1041.1,2914.0 L1043.7,2913.7 L1046.3,2914.3 L1048.9,2912.7 L1051.4,2914.4 L1054.0,2913.4 L1056.5,2913.1 L1059.0,2912.7 L1061.5,2914.1 L1064.1,2912.7 L1066.6,2914.2 L1069.1,2913.1 L1071.6,2914.5 L1074.2,2913.8 L1076.7,2914.5 L1079.2,2912.8 L1081.7,2913.3 L1084.3,2914.5 L1086.8,2912.8 L1089.3,2913.2 L1091.8,2913.3 L1094.4,2913.6 L1096.9,2913.9 L1099.4,2913.4 L1101.9,2913.4 L1104.5,2913.3 L1107.0,2913.4 L1109.5,2913.9 L1112.0,2914.3 L1114.6,2913.7 L1117.1,2913.2 L1119.6,2914.4 L1122.1,2913.2 L1124.7,2914.0 L1127.2,2914.0 L1129.7,2913.6 L1132.2,2913.2 L1134.8,2913.3 L1137.3,2914.0 L1139.8,2914.4 L1142.4,2914.4 L1144.9,2913.5 L1147.4,2913.8 L1149.9,2913.5 L1152.5,2913.2 L1155.0,2914.2 L1157.5,2913.8 L1160.0,2913.3 L1162.6,2913.0 L1165.1,2913.9 L1167.6,2912.7 L1170.1,2914.1 L1172.7,2912.8 L1175.2,2914.3 L1177.7,2912.8 L1180.2,2912.8 L1182.8,2914.3 L1185.3,2913.9 L1187.8,2913.5 L1190.3,2913.1 L1192.9,2914.0 L1195.4,2913.0 L1197.9,2914.4 L1200.4,2914.1 L1203.0,2914.1 L1205.5,2914.5 L1208.0,2914.4 L1210.5,2914.3 L1213.1,2912.7 L1215.6,2913.3 L1218.1,2912.9 L1220.6,2913.5 L1223.2,2914.2 L1225.7,2914.2 L1228.3,2913.8 L1230.9,2913.6 L1233.4,2913.5 L1236.0,2915.0 L1238.6,2914.9 L1241.2,2915.7 L1243.8,2915.7 L1246.4,2917.8 L1248.9,2917.3 L1251.5,2918.0 L1254.1,2919.2 L1256.7,2919.2 L1259.3,2920.2 L1261.9,2921.6 L1264.4,2921.2 L1267.0,2920.5 L1269.6,2921.5 L1272.2,2921.8 L1274.7,2922.0 L1277.3,2921.3 L1279.9,2921.6 L1282.5,2920.8 L1285.0,2920.1 L1287.6,2920.2 L1290.2,2920.2 L1292.8,2919.8 L1295.3,2918.4 L1297.9,2919.7 L1300.9,2921.6 L1303.9,2927.8 L1306.9,2933.3 L1309.9,2937.8 L1313.0,2943.7 L1316.0,2945.1 L1319.2,2929.9 L1322.4,2913.3 L1325.0,2919.5 L1327.5,2928.0 L1330.1,2930.2 L1332.7,2931.1 L1335.2,2933.6 L1337.8,2934.9 L1340.4,2934.4 L1344.3,2912.5 L1348.0,2930.0 L1350.0,2994.0 L1353.0,2994.0 L1355.0,2920.0" stroke="#FF8000" stroke-width="6.6" fill="none" stroke-linejoin="round" stroke-linecap="butt"/>
<path d="M141.0,2864.8 L143.5,2864.8 L146.0,2864.8 L148.6,2864.8 L151.1,2864.8 L153.6,2864.8 L156.1,2864.8 L158.7,2864.8 L161.2,2864.8 L163.7,2864.8 L166.2,2864.8 L168.8,2864.8 L171.3,2864.8 L173.8,2864.8 L176.3,2864.8 L178.9,2864.8 L181.4,2864.8 L183.9,2864.8 L186.4,2864.8 L189.0,2864.8 L191.5,2864.8 L194.0,2864.8 L196.5,2864.8 L199.0,2864.8 L201.6,2864.8 L204.1,2864.7 L206.6,2864.7 L209.1,2864.7 L211.7,2864.7 L214.2,2864.7 L216.7,2864.7 L219.2,2864.7 L221.8,2864.7 L224.3,2864.7 L226.8,2864.7 L229.3,2864.7 L231.9,2864.7 L234.4,2864.7 L236.9,2864.7 L239.4,2864.7 L242.0,2864.7 L244.5,2864.7 L247.0,2864.7 L249.5,2864.7 L252.0,2864.6 L254.6,2864.6 L257.1,2864.6 L259.6,2864.6 L262.1,2864.6 L264.7,2864.6 L267.2,2864.6 L269.7,2864.6 L272.2,2864.6 L274.8,2864.6 L277.3,2864.6 L279.8,2864.6 L282.3,2864.6 L284.9,2864.6 L287.4,2864.5 L289.9,2864.5 L292.4,2864.5 L295.0,2864.5 L297.5,2864.5 L300.0,2864.5 L302.5,2864.5 L305.0,2864.5 L307.5,2864.5 L310.0,2864.5 L312.5,2864.4 L315.0,2864.4 L317.5,2864.4 L320.0,2864.4 L322.5,2864.3 L325.0,2864.3 L327.5,2864.3 L330.0,2864.3 L332.5,2864.2 L335.0,2864.2 L337.5,2864.2 L340.0,2864.1 L342.5,2864.1 L345.0,2864.1 L347.5,2864.0 L350.0,2864.0 L352.5,2863.9 L355.0,2863.9 L357.5,2863.8 L360.0,2863.8 L362.5,2863.7 L365.0,2863.7 L367.5,2863.6 L370.0,2863.6 L372.5,2863.5 L375.0,2863.5 L377.5,2863.4 L380.0,2863.4 L382.5,2863.3 L385.0,2863.2 L387.5,2863.2 L390.0,2863.1 L392.5,2863.1 L395.0,2863.0 L397.5,2862.9 L400.0,2862.9 L402.5,2862.8 L405.0,2862.7 L407.5,2862.6 L410.0,2862.6 L412.5,2862.5 L415.0,2862.4 L417.5,2862.3 L420.0,2862.3 L422.5,2862.2 L425.0,2862.1 L427.5,2862.0 L430.0,2861.9 L432.5,2861.9 L435.0,2861.8 L437.5,2861.7 L440.0,2861.6 L442.6,2861.5 L445.1,2861.4 L447.7,2861.3 L450.3,2861.2 L452.9,2861.1 L455.5,2860.9 L458.0,2860.7 L460.6,2860.4 L463.2,2859.4 L465.8,2857.1 L468.3,2854.1 L470.9,2850.8 L473.5,2847.5 L476.1,2844.0 L478.6,2840.0 L481.2,2835.9 L483.8,2832.0 L486.4,2828.9 L488.9,2825.9 L491.5,2821.8 L494.1,2813.6 L496.6,2801.9 L499.2,2790.9 L501.8,2781.3 L504.3,2772.1 L506.9,2765.1 L510.1,2759.4 L513.4,2754.8 L516.6,2749.1 L519.8,2745.8 L522.4,2750.3 L524.9,2760.2 L527.5,2770.3 L530.1,2779.2 L532.6,2788.2 L535.2,2796.0 L538.5,2805.2 L541.7,2810.2 L544.3,2808.6 L546.8,2804.4 L549.4,2798.6 L552.6,2782.3 L555.8,2757.4 L558.4,2733.0 L561.0,2705.9 L563.5,2680.1 L566.1,2654.4 L568.7,2627.1 L571.3,2603.0 L573.8,2584.6 L576.4,2572.1 L579.0,2565.5 L581.6,2562.5 L584.8,2564.7 L588.0,2569.5 L591.2,2579.0 L594.4,2587.5 L597.6,2590.3 L600.9,2591.4 L603.5,2590.4 L606.0,2588.5 L608.6,2587.5 L611.8,2591.2 L615.0,2600.4 L617.6,2622.2 L620.2,2654.4 L622.8,2685.2 L625.3,2718.8 L627.9,2759.8 L630.5,2796.0 L633.0,2819.3 L635.6,2834.6 L638.2,2843.1 L640.7,2849.2 L643.3,2852.6 L645.9,2854.4 L648.5,2855.8 L651.0,2857.0 L653.6,2857.9 L656.2,2858.6 L658.8,2859.1 L661.4,2859.6 L664.1,2860.0 L666.8,2860.4 L669.4,2860.8 L672.0,2861.1 L674.7,2861.3 L677.4,2861.5 L680.0,2861.5 L682.6,2861.5 L685.1,2861.4 L687.7,2861.4 L690.3,2861.3 L692.9,2861.1 L695.4,2861.0 L698.0,2860.8 L700.6,2860.6 L703.1,2860.4 L705.7,2860.2 L708.3,2859.9 L710.9,2859.5 L713.4,2859.0 L716.0,2858.3 L718.6,2857.6 L721.6,2856.0 L724.6,2854.0 L727.6,2853.0 L730.6,2854.8 L733.6,2858.2 L736.6,2860.2 L739.2,2860.4 L741.8,2860.6 L744.3,2860.8 L746.9,2860.9 L749.5,2861.1 L752.1,2861.2 L754.6,2861.3 L757.2,2861.3 L759.8,2861.4 L762.4,2861.4 L764.9,2861.5 L767.5,2861.5 L770.1,2861.5 L772.7,2861.4 L775.2,2860.9 L777.8,2860.3 L780.4,2859.5 L783.0,2858.5 L785.5,2857.4 L788.1,2856.3 L790.7,2854.9 L793.3,2853.0 L795.9,2850.7 L798.4,2848.0 L801.0,2845.2 L803.6,2842.2 L806.2,2838.9 L808.7,2835.0 L811.3,2830.7 L813.8,2826.2 L816.4,2821.6 L819.0,2815.7 L821.5,2809.4 L824.1,2806.1 L826.7,2805.5 L829.2,2805.1 L831.8,2804.9 L834.4,2804.8 L837.6,2806.8 L840.9,2808.7 L844.1,2802.7 L847.3,2790.7 L849.9,2775.8 L852.5,2762.4 L855.0,2756.2 L857.6,2753.4 L860.8,2757.0 L864.0,2764.9 L867.2,2782.3 L870.5,2801.0 L873.1,2809.1 L875.6,2815.5 L878.2,2821.2 L880.8,2826.7 L883.4,2832.8 L885.9,2839.0 L888.5,2844.8 L891.0,2849.5 L893.6,2852.5 L896.2,2854.2 L898.8,2855.7 L901.4,2857.0 L903.9,2858.0 L906.5,2859.0 L909.1,2859.6 L911.7,2860.2 L914.3,2860.8 L916.8,2860.9 L919.4,2861.7 L922.0,2861.9 L924.6,2861.9 L927.1,2862.2 L929.7,2862.2 L932.3,2862.9 L934.9,2863.3 L937.4,2863.8 L940.0,2864.6 L942.6,2863.5 L945.2,2864.0 L947.8,2864.2 L950.4,2865.3 L953.0,2865.6 L955.6,2865.2 L958.2,2866.1 L960.9,2866.3 L963.5,2866.4 L966.1,2867.2 L968.7,2866.8 L971.3,2867.1 L973.9,2867.5 L976.5,2867.6 L979.1,2867.9 L981.8,2867.7 L984.4,2868.1 L987.1,2867.2 L989.7,2867.2 L992.4,2866.3 L995.0,2867.4 L997.7,2866.8 L1000.4,2865.0 L1003.0,2865.8 L1005.7,2865.1 L1008.3,2865.1 L1011.0,2864.7 L1013.6,2864.2 L1016.3,2863.8 L1018.8,2862.9 L1021.3,2862.5 L1023.8,2862.5 L1026.3,2862.3 L1028.8,2861.5 L1031.3,2862.2 L1033.9,2861.0 L1036.4,2860.6 L1038.9,2861.0 L1041.4,2860.3 L1043.9,2860.0 L1046.4,2859.8 L1048.9,2860.4 L1051.4,2859.5 L1054.0,2860.5 L1056.5,2859.7 L1059.1,2859.3 L1061.6,2859.3 L1064.1,2859.8 L1066.7,2860.3 L1069.2,2860.6 L1071.8,2859.1 L1074.3,2860.7 L1076.8,2860.1 L1079.4,2859.2 L1081.9,2859.9 L1084.5,2859.4 L1087.0,2860.8 L1089.5,2859.8 L1092.1,2859.3 L1094.6,2859.2 L1097.1,2859.7 L1099.7,2859.4 L1102.2,2860.0 L1104.8,2860.1 L1107.3,2860.3 L1109.8,2859.9 L1112.4,2859.8 L1114.9,2859.9 L1117.5,2860.0 L1120.0,2859.3 L1122.5,2859.4 L1125.1,2859.3 L1127.6,2860.4 L1130.2,2860.4 L1132.7,2859.2 L1135.2,2859.5 L1137.7,2860.8 L1140.2,2860.4 L1142.8,2859.1 L1145.3,2859.9 L1147.8,2860.8 L1150.3,2860.4 L1152.8,2859.8 L1155.3,2860.7 L1157.8,2860.4 L1160.3,2860.9 L1162.9,2860.7 L1165.4,2859.4 L1167.9,2860.2 L1170.4,2860.6 L1172.9,2860.9 L1175.4,2860.8 L1177.9,2860.8 L1180.5,2859.9 L1183.0,2860.3 L1185.5,2859.9 L1188.0,2861.2 L1190.5,2861.4 L1193.0,2860.3 L1195.5,2860.4 L1198.1,2860.2 L1200.6,2860.0 L1203.1,2860.0 L1205.6,2860.1 L1208.1,2861.7 L1210.6,2861.3 L1213.1,2860.6 L1215.6,2861.9 L1218.2,2860.4 L1220.7,2862.0 L1223.2,2860.5 L1225.7,2861.1 L1228.3,2860.7 L1230.9,2861.7 L1233.5,2862.5 L1236.0,2863.3 L1238.6,2863.3 L1241.2,2862.8 L1243.8,2864.2 L1246.4,2865.6 L1249.0,2865.7 L1251.5,2865.3 L1254.1,2867.4 L1256.7,2866.1 L1259.3,2868.2 L1262.0,2868.0 L1264.7,2867.6 L1267.3,2868.6 L1270.0,2868.9 L1272.7,2869.3 L1275.4,2869.7 L1278.0,2869.4 L1280.7,2870.1 L1283.4,2869.1 L1286.1,2869.3 L1288.7,2870.5 L1291.4,2871.3 L1294.1,2871.8 L1296.9,2872.5 L1299.7,2876.1 L1302.6,2878.5 L1305.4,2879.9 L1308.2,2882.3 L1311.0,2880.3 L1313.9,2876.5 L1316.7,2872.9 L1319.6,2868.2 L1322.4,2867.2 L1325.6,2872.1 L1328.8,2881.1 L1331.4,2886.4 L1333.9,2891.0 L1336.5,2895.6 L1339.1,2897.0 L1343.0,2870.0 L1347.0,2880.0 L1349.0,2968.0 L1352.0,2968.0 L1354.5,2862.0" stroke="#80FFFF" stroke-width="6.6" fill="none" stroke-linejoin="round" stroke-linecap="butt"/>
<path d="M1338,3338 L1344,3331 L1356,3329 L1358.5,3329 L1358.5,3359 L1341,3359 Z" fill="#000"/>
</svg>
</body></html>
